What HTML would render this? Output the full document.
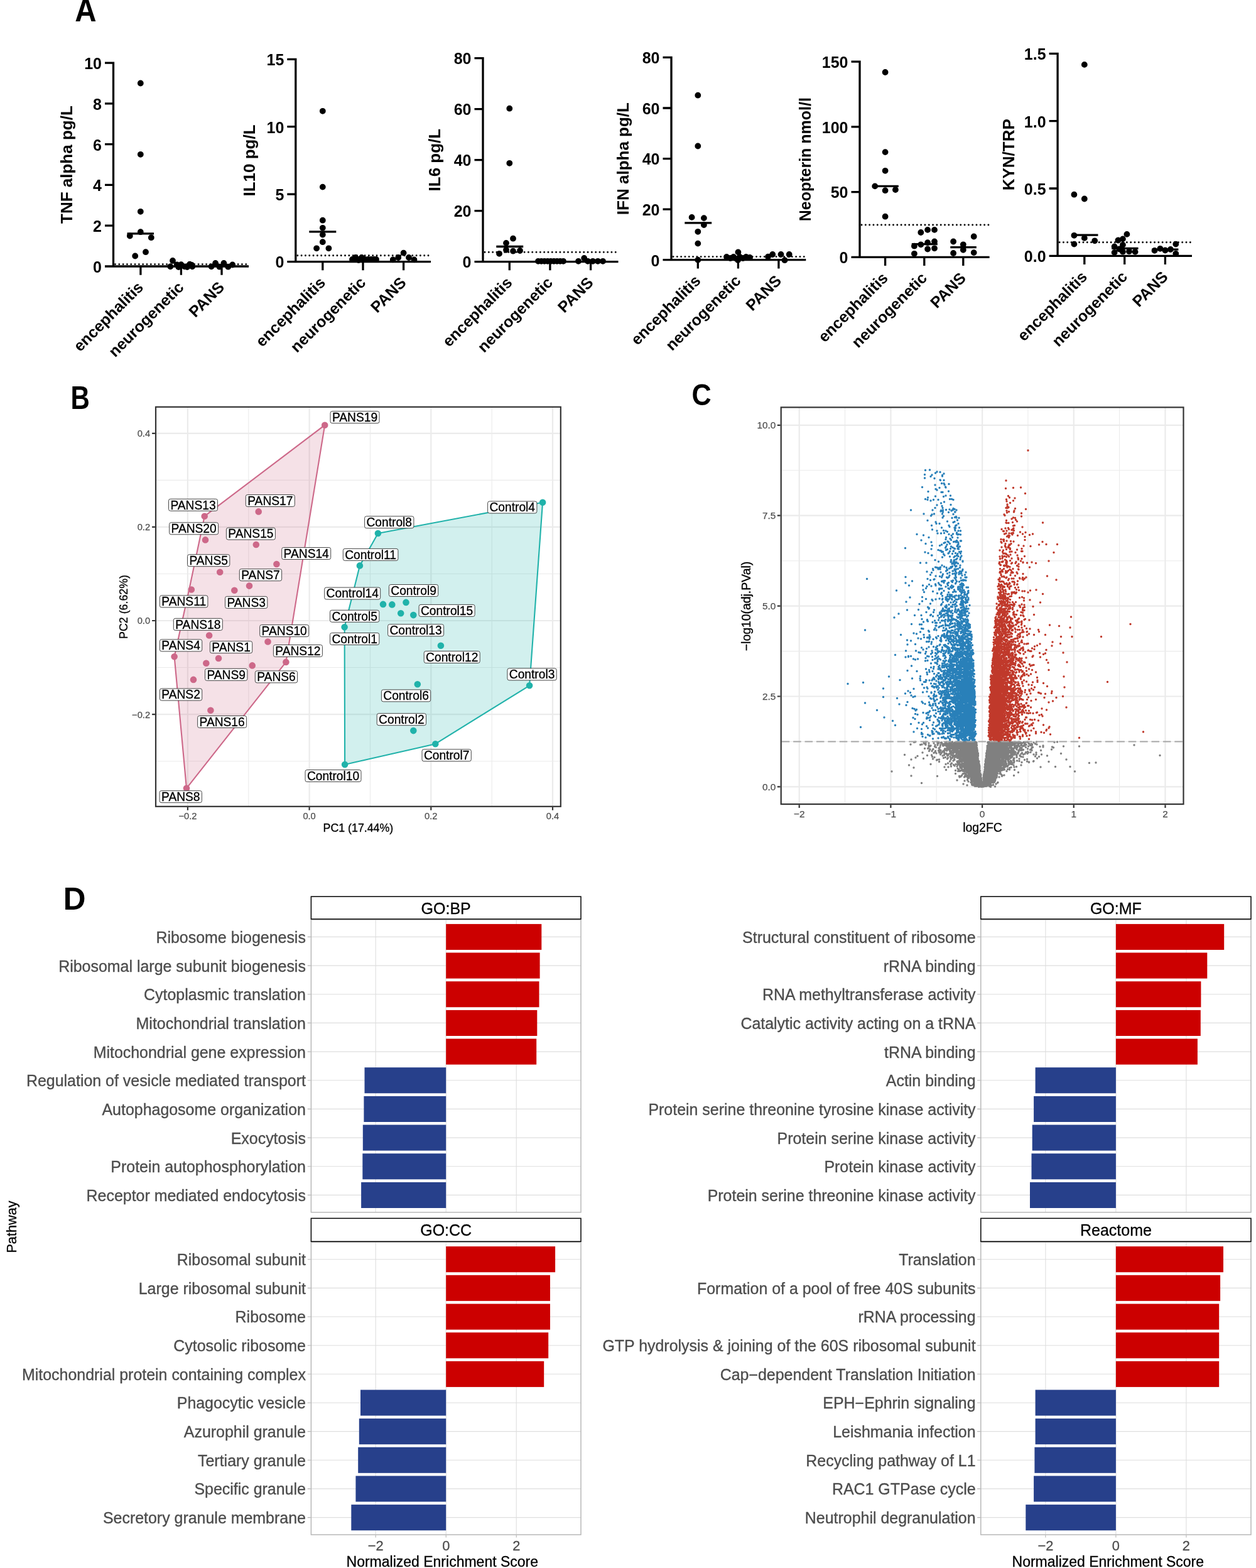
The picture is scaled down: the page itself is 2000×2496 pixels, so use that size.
<!DOCTYPE html>
<html><head><meta charset="utf-8"><title>Figure</title><style>html,body{margin:0;padding:0;background:#fff;}svg{display:block;}</style></head><body>
<svg width="2000" height="2496" viewBox="0 0 2000 2496">
<rect width="2000" height="2496" fill="#fff"/>
<g font-family="Liberation Sans, sans-serif" font-weight="bold" fill="#000">
<text transform="translate(119.3 34.2) scale(0.98 1.05)" font-size="48.5">A</text>
<text x="162" y="433.8" font-size="25" text-anchor="end">0</text>
<text x="162" y="369" font-size="25" text-anchor="end">2</text>
<text x="162" y="304.2" font-size="25" text-anchor="end">4</text>
<text x="162" y="239.5" font-size="25" text-anchor="end">6</text>
<text x="162" y="174.7" font-size="25" text-anchor="end">8</text>
<text x="162" y="109.9" font-size="25" text-anchor="end">10</text>
<path d="M180.5 425.6V98.5M178.9 424H396M167 424H180.5M167 359.2H180.5M167 294.4H180.5M167 229.7H180.5M167 164.9H180.5M167 100.1H180.5M223.9 424V437.7M288.4 424V437.7M353 424V437.7M202.5 371.8H245" stroke="#000" stroke-width="3.3" fill="none"/>
<path d="M183.5 420.6H396" stroke="#000" stroke-width="2.9" stroke-dasharray="0.01 6.3" stroke-linecap="round" fill="none"/>
<path d="M223.8 132.5h0M223.8 245.8h0M223.8 336.8h0M223.8 369.2h0M206.8 375.5h0M240.8 378.2h0M232 401.2h0M215.2 407.5h0M275 415h0M271.3 424.3h0M281.9 421.5h0M284.3 425.1h0M288.4 421.1h0M294 424.3h0M298.1 425.1h0M302.1 420.7h0M305.4 421.9h0M306.2 424.3h0M336.6 424.3h0M343.1 419h0M349.5 424.7h0M356.4 419h0M363.3 424.7h0M370.2 421.5h0" stroke="#000" stroke-width="9.8" stroke-linecap="round" fill="none"/>
<text transform="translate(115.4 262.1) rotate(-90)" font-size="26" text-anchor="middle">TNF alpha pg/L</text>
<text transform="translate(229.7 458.8) rotate(-45)" font-size="25" text-anchor="end">encephalitis</text>
<text transform="translate(294.2 458.8) rotate(-45)" font-size="25" text-anchor="end">neurogenetic</text>
<text transform="translate(358.8 458.8) rotate(-45)" font-size="25" text-anchor="end">PANS</text>
<text x="452.3" y="426.4" font-size="25" text-anchor="end">0</text>
<text x="452.3" y="319" font-size="25" text-anchor="end">5</text>
<text x="452.3" y="211.5" font-size="25" text-anchor="end">10</text>
<text x="452.3" y="104.1" font-size="25" text-anchor="end">15</text>
<path d="M470.8 418.2V92.7M469.2 416.6H686M457.3 416.6H470.8M457.3 309.2H470.8M457.3 201.7H470.8M457.3 94.3H470.8M513.8 416.6V430.3M578 416.6V430.3M642.6 416.6V430.3M492.3 368.8H535.3" stroke="#000" stroke-width="3.3" fill="none"/>
<path d="M473.8 406.7H686" stroke="#000" stroke-width="2.9" stroke-dasharray="0.01 6.3" stroke-linecap="round" fill="none"/>
<path d="M513.8 176.8h0M513.8 297.6h0M513.8 350.7h0M513.8 362.8h0M513.8 373.6h0M513.8 385.2h0M504.1 395.3h0M523.4 395.3h0M561 413h0M566 410h0M571 413h0M576 410h0M581 413h0M586 413h0M591 413h0M596 413h0M599 413h0M571 414h0M625.7 413.4h0M634.2 410h0M642.6 402.6h0M651 410h0M659.5 413.4h0" stroke="#000" stroke-width="9.8" stroke-linecap="round" fill="none"/>
<text transform="translate(405.6 255.5) rotate(-90)" font-size="26" text-anchor="middle">IL10 pg/L</text>
<text transform="translate(519.6 451.4) rotate(-45)" font-size="25" text-anchor="end">encephalitis</text>
<text transform="translate(583.8 451.4) rotate(-45)" font-size="25" text-anchor="end">neurogenetic</text>
<text transform="translate(648.4 451.4) rotate(-45)" font-size="25" text-anchor="end">PANS</text>
<text x="750.5" y="426.4" font-size="25" text-anchor="end">0</text>
<text x="750.5" y="345.4" font-size="25" text-anchor="end">20</text>
<text x="750.5" y="264.4" font-size="25" text-anchor="end">40</text>
<text x="750.5" y="183.4" font-size="25" text-anchor="end">60</text>
<text x="750.5" y="102.4" font-size="25" text-anchor="end">80</text>
<path d="M769 418.2V91M767.4 416.6H984.5M755.5 416.6H769M755.5 335.6H769M755.5 254.6H769M755.5 173.6H769M755.5 92.6H769M811.3 416.6V430.3M875.9 416.6V430.3M940.6 416.6V430.3M790.3 392.5H833.2" stroke="#000" stroke-width="3.3" fill="none"/>
<path d="M772 401.4H984.5" stroke="#000" stroke-width="2.9" stroke-dasharray="0.01 6.3" stroke-linecap="round" fill="none"/>
<path d="M811.3 172.7h0M811.3 259.8h0M817 379.7h0M806 386.9h0M795 403.8h0M806 397.8h0M817 399.7h0M828 399h0M857 415.8h0M862 415.8h0M867 415.8h0M872 415.8h0M877 415.8h0M882 415.8h0M887 415.8h0M892 415.8h0M897 415.8h0M921 415.8h0M930.2 411h0M936 415.8h0M944 415.8h0M952 415.8h0M960 415.8h0" stroke="#000" stroke-width="9.8" stroke-linecap="round" fill="none"/>
<text transform="translate(700.8 254.6) rotate(-90)" font-size="26" text-anchor="middle">IL6 pg/L</text>
<text transform="translate(817.1 451.4) rotate(-45)" font-size="25" text-anchor="end">encephalitis</text>
<text transform="translate(881.7 451.4) rotate(-45)" font-size="25" text-anchor="end">neurogenetic</text>
<text transform="translate(946.4 451.4) rotate(-45)" font-size="25" text-anchor="end">PANS</text>
<text x="1050.5" y="423.5" font-size="25" text-anchor="end">0</text>
<text x="1050.5" y="342.9" font-size="25" text-anchor="end">20</text>
<text x="1050.5" y="262.4" font-size="25" text-anchor="end">40</text>
<text x="1050.5" y="181.8" font-size="25" text-anchor="end">60</text>
<text x="1050.5" y="101.2" font-size="25" text-anchor="end">80</text>
<path d="M1069 415.3V89.8M1067.4 413.7H1283.3M1055.5 413.7H1069M1055.5 333.1H1069M1055.5 252.6H1069M1055.5 172H1069M1055.5 91.4H1069M1111.3 413.7V427.4M1175.4 413.7V427.4M1239.9 413.7V427.4M1090.3 354.8H1133.2" stroke="#000" stroke-width="3.3" fill="none"/>
<path d="M1072 408.6H1283.3" stroke="#000" stroke-width="2.9" stroke-dasharray="0.01 6.3" stroke-linecap="round" fill="none"/>
<path d="M1111.3 151.7h0M1111.3 232.5h0M1101.6 345.9h0M1120.9 347.1h0M1120.9 358h0M1111.3 368.8h0M1111.3 387.6h0M1111.3 413.7h0M1175.4 401.4h0M1157 409h0M1163 411h0M1168 409h0M1173 412h0M1178 409h0M1183 411h0M1188 409h0M1194 410h0M1175 414h0M1223 408.6h0M1230.2 405h0M1243.5 405h0M1256.7 405h0M1249.5 414.2h0" stroke="#000" stroke-width="9.8" stroke-linecap="round" fill="none"/>
<text transform="translate(1000.8 252.6) rotate(-90)" font-size="26" text-anchor="middle">IFN alpha pg/L</text>
<text transform="translate(1117.1 448.5) rotate(-45)" font-size="25" text-anchor="end">encephalitis</text>
<text transform="translate(1181.2 448.5) rotate(-45)" font-size="25" text-anchor="end">neurogenetic</text>
<text transform="translate(1245.7 448.5) rotate(-45)" font-size="25" text-anchor="end">PANS</text>
<text x="1350.5" y="419.1" font-size="25" text-anchor="end">0</text>
<text x="1350.5" y="315.4" font-size="25" text-anchor="end">50</text>
<text x="1350.5" y="211.6" font-size="25" text-anchor="end">100</text>
<text x="1350.5" y="107.9" font-size="25" text-anchor="end">150</text>
<path d="M1369 410.9V96.5M1367.4 409.3H1575.6M1355.5 409.3H1369M1355.5 305.6H1369M1355.5 201.8H1369M1355.5 98.1H1369M1409.6 409.3V423M1471.8 409.3V423M1533.8 409.3V423M1390.3 296.4H1430.8M1451.8 388.6H1492.8M1513.3 393.7H1554.8" stroke="#000" stroke-width="3.3" fill="none"/>
<path d="M1372 358H1575.6" stroke="#000" stroke-width="2.9" stroke-dasharray="0.01 6.3" stroke-linecap="round" fill="none"/>
<path d="M1409.6 115h0M1409.6 242.1h0M1409.6 271.8h0M1393.2 296.4h0M1409.6 303.2h0M1425.9 302h0M1409.6 344.7h0M1466.3 370h0M1477.1 365.9h0M1488 365.9h0M1455.9 391.7h0M1466.3 389.3h0M1477.1 386.2h0M1488 384.5h0M1477.1 396.5h0M1488 395.3h0M1455.9 403.8h0M1518.1 384.5h0M1533.8 389.3h0M1550.7 376.5h0M1518.1 403h0M1533.8 397.8h0M1550.7 402.1h0" stroke="#000" stroke-width="9.8" stroke-linecap="round" fill="none"/>
<text transform="translate(1291 253.7) rotate(-90)" font-size="25" text-anchor="middle">Neopterin nmol/l</text>
<text transform="translate(1415.4 444.1) rotate(-45)" font-size="25" text-anchor="end">encephalitis</text>
<text transform="translate(1477.6 444.1) rotate(-45)" font-size="25" text-anchor="end">neurogenetic</text>
<text transform="translate(1539.6 444.1) rotate(-45)" font-size="25" text-anchor="end">PANS</text>
<text x="1665.6" y="417.2" font-size="25" text-anchor="end">0.0</text>
<text x="1665.6" y="309.8" font-size="25" text-anchor="end">0.5</text>
<text x="1665.6" y="202.5" font-size="25" text-anchor="end">1.0</text>
<text x="1665.6" y="95.1" font-size="25" text-anchor="end">1.5</text>
<path d="M1684.1 409V83.7M1682.5 407.4H1898M1670.6 407.4H1684.1M1670.6 300H1684.1M1670.6 192.7H1684.1M1670.6 85.3H1684.1M1726.8 407.4V421.1M1790.7 407.4V421.1M1855.4 407.4V421.1M1706.3 374.1H1748.5M1770.2 395.3H1812.5M1834.2 397.2H1876.4" stroke="#000" stroke-width="3.3" fill="none"/>
<path d="M1687.1 385.7H1898" stroke="#000" stroke-width="2.9" stroke-dasharray="0.01 6.3" stroke-linecap="round" fill="none"/>
<path d="M1726.8 102.9h0M1710.4 309.7h0M1726.8 316.5h0M1710.4 374.8h0M1726.8 378.9h0M1743.2 383.3h0M1710.4 388.6h0M1794.4 372.9h0M1780.4 382.5h0M1787.9 380.4h0M1774.6 392.4h0M1787.9 389.8h0M1774.6 401.9h0M1787.9 400.7h0M1798 400.2h0M1807.6 400.9h0M1782.3 396.5h0M1838.5 398.9h0M1847.4 395.8h0M1855.4 398.5h0M1863.9 397h0M1872.3 388.6h0M1872.3 403.8h0" stroke="#000" stroke-width="9.8" stroke-linecap="round" fill="none"/>
<text transform="translate(1615.2 246.3) rotate(-90)" font-size="26" text-anchor="middle">KYN/TRP</text>
<text transform="translate(1732.6 442.2) rotate(-45)" font-size="25" text-anchor="end">encephalitis</text>
<text transform="translate(1796.5 442.2) rotate(-45)" font-size="25" text-anchor="end">neurogenetic</text>
<text transform="translate(1861.2 442.2) rotate(-45)" font-size="25" text-anchor="end">PANS</text>
</g>
<text transform="translate(112.4 651) scale(0.867 1.07)" font-family="Liberation Sans, sans-serif" font-weight="bold" font-size="48.5">B</text>
<path d="M395.8 647.8V1283.8M589.5 647.8V1283.8M783.2 647.8V1283.8M248 764.4H892.8M248 913.5H892.8M248 1062.5H892.8M248 1211.7H892.8" stroke="#ebebeb" stroke-width="1.1" fill="none"/>
<path d="M298.9 647.8V1283.8M492.6 647.8V1283.8M686.3 647.8V1283.8M880 647.8V1283.8M248 689.8H892.8M248 838.9H892.8M248 988H892.8M248 1137.1H892.8" stroke="#ebebeb" stroke-width="2.2" fill="none"/>
<polygon points="517.2,676.7 455.4,1053.9 297,1254.8 277.6,1045.2 300.8,940.3 325.7,821.7" fill="#CD6889" fill-opacity="0.2" stroke="#CD6889" stroke-width="2.1" stroke-linejoin="round"/>
<polygon points="601.9,849 864.1,799.7 843.1,1091.3 693.3,1184.2 549.1,1217 548.6,998.3 572.9,900.4" fill="#20B2AA" fill-opacity="0.2" stroke="#20B2AA" stroke-width="2.1" stroke-linejoin="round"/>
<path d="M517.2 676.7h0M325.7 821.7h0M411.7 814.4h0M327 859.4h0M407.8 867h0M440.4 898h0M350.2 910.7h0M397 932.6h0M373.3 939.8h0M304.8 938.5h0M333.1 1011.5h0M277.6 1045.2h0M426.5 1021.5h0M348 1048h0M328.3 1055.7h0M401.7 1059.4h0M455.4 1053.9h0M308 1081.9h0M335.4 1130.7h0M297 1254.8h0" stroke="#CD6889" stroke-width="10.6" stroke-linecap="round" fill="none"/>
<path d="M864.1 799.7h0M601.9 849h0M572.9 900.4h0M610 961.9h0M624.3 962.4h0M646.5 958.9h0M638.2 976.3h0M658.3 979.1h0M548.6 998.3h0M701.9 1027.7h0M843.1 1091.3h0M664.8 1089.3h0M658.3 1163.1h0M693.3 1184.2h0M549.1 1217h0" stroke="#20B2AA" stroke-width="10.6" stroke-linecap="round" fill="none"/>
<g font-family="Liberation Sans, sans-serif" font-size="19.2" stroke="#000" stroke-width="0.3">
<rect x="526" y="654.7" width="78" height="19.0" rx="2.9" fill="#fff" stroke="#333" stroke-width="0.9"/>
<text transform="translate(528.9 671) scale(1 1.07)">PANS19</text>
<rect x="268.5" y="794.3" width="78" height="19.0" rx="2.9" fill="#fff" stroke="#333" stroke-width="0.9"/>
<text transform="translate(271.4 810.6) scale(1 1.07)">PANS13</text>
<rect x="391.3" y="787.5" width="78" height="19.0" rx="2.9" fill="#fff" stroke="#333" stroke-width="0.9"/>
<text transform="translate(394.2 803.8) scale(1 1.07)">PANS17</text>
<rect x="269.6" y="831.8" width="78" height="19.0" rx="2.9" fill="#fff" stroke="#333" stroke-width="0.9"/>
<text transform="translate(272.5 848.1) scale(1 1.07)">PANS20</text>
<rect x="360.4" y="840.1" width="78" height="19.0" rx="2.9" fill="#fff" stroke="#333" stroke-width="0.9"/>
<text transform="translate(363.3 856.4) scale(1 1.07)">PANS15</text>
<rect x="448.7" y="871.5" width="78" height="19.0" rx="2.9" fill="#fff" stroke="#333" stroke-width="0.9"/>
<text transform="translate(451.6 887.8) scale(1 1.07)">PANS14</text>
<rect x="298.5" y="882.7" width="67.3" height="19.0" rx="2.9" fill="#fff" stroke="#333" stroke-width="0.9"/>
<text transform="translate(301.4 899) scale(1 1.07)">PANS5</text>
<rect x="381.3" y="905.7" width="67.3" height="19.0" rx="2.9" fill="#fff" stroke="#333" stroke-width="0.9"/>
<text transform="translate(384.2 922) scale(1 1.07)">PANS7</text>
<rect x="254.4" y="947.9" width="76.5" height="19.0" rx="2.9" fill="#fff" stroke="#333" stroke-width="0.9"/>
<text transform="translate(257.3 964.2) scale(1 1.07)">PANS11</text>
<rect x="358.5" y="949.4" width="67.3" height="19.0" rx="2.9" fill="#fff" stroke="#333" stroke-width="0.9"/>
<text transform="translate(361.4 965.7) scale(1 1.07)">PANS3</text>
<rect x="276.3" y="984.4" width="78" height="19.0" rx="2.9" fill="#fff" stroke="#333" stroke-width="0.9"/>
<text transform="translate(279.2 1000.7) scale(1 1.07)">PANS18</text>
<rect x="413.7" y="994.6" width="78" height="19.0" rx="2.9" fill="#fff" stroke="#333" stroke-width="0.9"/>
<text transform="translate(416.6 1010.9) scale(1 1.07)">PANS10</text>
<rect x="254.4" y="1017.9" width="67.3" height="19.0" rx="2.9" fill="#fff" stroke="#333" stroke-width="0.9"/>
<text transform="translate(257.3 1034.2) scale(1 1.07)">PANS4</text>
<rect x="334.4" y="1020.7" width="67.3" height="19.0" rx="2.9" fill="#fff" stroke="#333" stroke-width="0.9"/>
<text transform="translate(337.3 1037) scale(1 1.07)">PANS1</text>
<rect x="435.4" y="1026.5" width="78" height="19.0" rx="2.9" fill="#fff" stroke="#333" stroke-width="0.9"/>
<text transform="translate(438.3 1042.8) scale(1 1.07)">PANS12</text>
<rect x="326.5" y="1064.4" width="67.3" height="19.0" rx="2.9" fill="#fff" stroke="#333" stroke-width="0.9"/>
<text transform="translate(329.4 1080.7) scale(1 1.07)">PANS9</text>
<rect x="406.3" y="1067.9" width="67.3" height="19.0" rx="2.9" fill="#fff" stroke="#333" stroke-width="0.9"/>
<text transform="translate(409.2 1084.2) scale(1 1.07)">PANS6</text>
<rect x="254.4" y="1096.1" width="67.3" height="19.0" rx="2.9" fill="#fff" stroke="#333" stroke-width="0.9"/>
<text transform="translate(257.3 1112.4) scale(1 1.07)">PANS2</text>
<rect x="314.6" y="1139.5" width="78" height="19.0" rx="2.9" fill="#fff" stroke="#333" stroke-width="0.9"/>
<text transform="translate(317.5 1155.8) scale(1 1.07)">PANS16</text>
<rect x="254.1" y="1258.7" width="67.3" height="19.0" rx="2.9" fill="#fff" stroke="#333" stroke-width="0.9"/>
<text transform="translate(257 1275) scale(1 1.07)">PANS8</text>
<rect x="776.6" y="798" width="78.3" height="19.0" rx="2.9" fill="#fff" stroke="#333" stroke-width="0.9"/>
<text transform="translate(779.5 814.3) scale(1 1.07)">Control4</text>
<rect x="580.6" y="821.8" width="78.3" height="19.0" rx="2.9" fill="#fff" stroke="#333" stroke-width="0.9"/>
<text transform="translate(583.5 838.1) scale(1 1.07)">Control8</text>
<rect x="546.3" y="873.4" width="87.6" height="19.0" rx="2.9" fill="#fff" stroke="#333" stroke-width="0.9"/>
<text transform="translate(549.2 889.7) scale(1 1.07)">Control11</text>
<rect x="516.7" y="935.1" width="89" height="19.0" rx="2.9" fill="#fff" stroke="#333" stroke-width="0.9"/>
<text transform="translate(519.6 951.4) scale(1 1.07)">Control14</text>
<rect x="619.4" y="930.5" width="78.3" height="19.0" rx="2.9" fill="#fff" stroke="#333" stroke-width="0.9"/>
<text transform="translate(622.3 946.8) scale(1 1.07)">Control9</text>
<rect x="667.1" y="962.4" width="89" height="19.0" rx="2.9" fill="#fff" stroke="#333" stroke-width="0.9"/>
<text transform="translate(670 978.7) scale(1 1.07)">Control15</text>
<rect x="525.5" y="971.3" width="78.3" height="19.0" rx="2.9" fill="#fff" stroke="#333" stroke-width="0.9"/>
<text transform="translate(528.4 987.6) scale(1 1.07)">Control5</text>
<rect x="617.6" y="993.8" width="89" height="19.0" rx="2.9" fill="#fff" stroke="#333" stroke-width="0.9"/>
<text transform="translate(620.5 1010.1) scale(1 1.07)">Control13</text>
<rect x="525.5" y="1007.5" width="78.3" height="19.0" rx="2.9" fill="#fff" stroke="#333" stroke-width="0.9"/>
<text transform="translate(528.4 1023.8) scale(1 1.07)">Control1</text>
<rect x="675.2" y="1036.5" width="89" height="19.0" rx="2.9" fill="#fff" stroke="#333" stroke-width="0.9"/>
<text transform="translate(678.1 1052.8) scale(1 1.07)">Control12</text>
<rect x="807.9" y="1063.9" width="78.3" height="19.0" rx="2.9" fill="#fff" stroke="#333" stroke-width="0.9"/>
<text transform="translate(810.8 1080.2) scale(1 1.07)">Control3</text>
<rect x="607.4" y="1097.9" width="78.3" height="19.0" rx="2.9" fill="#fff" stroke="#333" stroke-width="0.9"/>
<text transform="translate(610.3 1114.2) scale(1 1.07)">Control6</text>
<rect x="600.2" y="1135.7" width="78.3" height="19.0" rx="2.9" fill="#fff" stroke="#333" stroke-width="0.9"/>
<text transform="translate(603.1 1152) scale(1 1.07)">Control2</text>
<rect x="672" y="1192.8" width="78.3" height="19.0" rx="2.9" fill="#fff" stroke="#333" stroke-width="0.9"/>
<text transform="translate(674.9 1209.1) scale(1 1.07)">Control7</text>
<rect x="486" y="1225.5" width="89" height="19.0" rx="2.9" fill="#fff" stroke="#333" stroke-width="0.9"/>
<text transform="translate(488.9 1241.8) scale(1 1.07)">Control10</text>
</g>
<rect x="248" y="647.8" width="644.8" height="636" fill="none" stroke="#333" stroke-width="2.2"/>
<path d="M298.9 1284.9v4.8M492.6 1284.9v4.8M686.3 1284.9v4.8M880 1284.9v4.8M246.9 689.8h-4.8M246.9 838.9h-4.8M246.9 988h-4.8M246.9 1137.1h-4.8" stroke="#333" stroke-width="2.2" fill="none"/>
<g font-family="Liberation Sans, sans-serif" font-size="14.7" fill="#4d4d4d" stroke="#4d4d4d" stroke-width="0.25">
<text x="298.9" y="1303.8" text-anchor="middle">−0.2</text>
<text x="492.6" y="1303.8" text-anchor="middle">0.0</text>
<text x="686.3" y="1303.8" text-anchor="middle">0.2</text>
<text x="880" y="1303.8" text-anchor="middle">0.4</text>
<text x="239.1" y="695.2" text-anchor="end">0.4</text>
<text x="239.1" y="844.3" text-anchor="end">0.2</text>
<text x="239.1" y="993.4" text-anchor="end">0.0</text>
<text x="239.1" y="1142.5" text-anchor="end">−0.2</text>
</g>
<text x="570.4" y="1323.9" font-family="Liberation Sans, sans-serif" font-size="17.8" stroke="#000" stroke-width="0.3" text-anchor="middle">PC1 (17.44%)</text>
<text transform="translate(203 966) rotate(-90)" font-family="Liberation Sans, sans-serif" font-size="17.8" stroke="#000" stroke-width="0.3" text-anchor="middle">PC2 (6.62%)</text>
<text transform="translate(1101.5 645) scale(0.89 1.0)" font-family="Liberation Sans, sans-serif" font-weight="bold" font-size="48.5">C</text>
<path d="M1345.5 648.4V1280.1M1491.2 648.4V1280.1M1636.9 648.4V1280.1M1782.6 648.4V1280.1M1243.7 1180.5H1884.5M1243.7 1036.6H1884.5M1243.7 892.7H1884.5M1243.7 748.8H1884.5" stroke="#ebebeb" stroke-width="1.1" fill="none"/>
<path d="M1272.7 648.4V1280.1M1418.4 648.4V1280.1M1564.1 648.4V1280.1M1709.8 648.4V1280.1M1855.5 648.4V1280.1M1243.7 1252.4H1884.5M1243.7 1108.5H1884.5M1243.7 964.6H1884.5M1243.7 820.7H1884.5M1243.7 676.8H1884.5" stroke="#ebebeb" stroke-width="2.2" fill="none"/>
<path d="M1603.5 1180.5h0m-146 0.5h0m17 0h0m18 0h0m14.5 0h0m6 0h0m3.5 0h0m7.5 0h0m0.5 0h0m1.5 0h0m3 0h0m6 0h0m0 0h0m1 0h0m1.5 0h0m1.5 0h0m2.5 0h0m2 0h0m1 0h0m1 0h0m0 0h0m0.5 0h0m1.5 0h0m1 0h0m0 0h0m0.5 0h0m1.5 0h0m1.5 0h0m1.5 0h0m21.5 0h0m1 0h0m0.5 0h0m0 0h0m1 0h0m0 0h0m1.5 0h0m2.5 0h0m2 0h0m0 0h0m0.5 0h0m1.5 0h0m0.5 0h0m0.5 0h0m0 0h0m0.5 0h0m0.5 0h0m2 0h0m0.5 0h0m1 0h0m0.5 0h0m1.5 0h0m4.5 0h0m1.5 0h0m3 0h0m0 0h0m4 0h0m1 0h0m1.5 0h0m7.5 0h0m6 0h0m1 0h0m0 0h0m13 0h0m14.5 0h0m33 0h0m-228 0.5h0m15.5 0h0m23.5 0h0m17.5 0h0m2.5 0h0m7.5 0h0m0.5 0h0m7.5 0h0m0.5 0h0m3 0h0m2 0h0m0 0h0m1.5 0h0m2.5 0h0m7 0h0m1 0h0m1.5 0h0m0.5 0h0m0 0h0m4 0h0m19.5 0h0m2 0h0m0.5 0h0m1.5 0h0m2 0h0m3.5 0h0m0 0h0m0 0h0m1 0h0m2.5 0h0m0 0h0m0.5 0h0m0.5 0h0m0.5 0h0m0 0h0m3 0h0m0 0h0m0 0h0m0.5 0h0m2.5 0h0m2 0h0m0.5 0h0m0.5 0h0m1 0h0m1.5 0h0m3.5 0h0m5 0h0m2.5 0h0m3 0h0m3.5 0h0m0.5 0h0m13 0h0m2 0h0m4.5 0h0m42.5 0h0m-179.5 0.5h0m6 0h0m7.5 0h0m7.5 0h0m1.5 0h0m2 0h0m6 0h0m3.5 0h0m2.5 0h0m1.5 0h0m0 0h0m3.5 0h0m1 0h0m0 0h0m2.5 0h0m1.5 0h0m2.5 0h0m1.5 0h0m1 0h0m2 0h0m0 0h0m0 0h0m2 0h0m18 0h0m0.5 0h0m4.5 0h0m0.5 0h0m0.5 0h0m0 0h0m2.5 0h0m3 0h0m1 0h0m0.5 0h0m1 0h0m1 0h0m0.5 0h0m0.5 0h0m0.5 0h0m3 0h0m0.5 0h0m1 0h0m2.5 0h0m5 0h0m3.5 0h0m7 0h0m0.5 0h0m0 0h0m2 0h0m2.5 0h0m5.5 0h0m3 0h0m7.5 0h0m13 0h0m-148 0.5h0m1 0h0m12 0h0m1 0h0m15 0h0m0.5 0h0m3.5 0h0m1 0h0m0 0h0m0.5 0h0m0.5 0h0m2 0h0m1 0h0m1.5 0h0m1 0h0m0.5 0h0m4.5 0h0m0 0h0m2 0h0m0 0h0m0.5 0h0m1.5 0h0m1 0h0m2 0h0m1 0h0m2 0h0m0 0h0m1.5 0h0m18 0h0m3.5 0h0m1 0h0m1 0h0m0.5 0h0m0 0h0m0 0h0m0.5 0h0m1 0h0m2 0h0m2.5 0h0m0.5 0h0m1 0h0m0.5 0h0m0 0h0m1 0h0m0 0h0m2 0h0m2 0h0m2.5 0h0m1 0h0m1.5 0h0m1.5 0h0m1 0h0m0.5 0h0m2 0h0m1.5 0h0m1 0h0m14.5 0h0m1 0h0m3.5 0h0m-144.5 0.5h0m8 0h0m7.5 0h0m10.5 0h0m2 0h0m0.5 0h0m4.5 0h0m1.5 0h0m0.5 0h0m4 0h0m7 0h0m3 0h0m0.5 0h0m0.5 0h0m0.5 0h0m1 0h0m0 0h0m3 0h0m1.5 0h0m0.5 0h0m0.5 0h0m3 0h0m0.5 0h0m1 0h0m0 0h0m1.5 0h0m3 0h0m0 0h0m3 0h0m2.5 0h0m0 0h0m2 0h0m0.5 0h0m23 0h0m0.5 0h0m1.5 0h0m1.5 0h0m1 0h0m1 0h0m0.5 0h0m0.5 0h0m2 0h0m0.5 0h0m2.5 0h0m0.5 0h0m2.5 0h0m1 0h0m0 0h0m2.5 0h0m4 0h0m0 0h0m0.5 0h0m1.5 0h0m4 0h0m1 0h0m2.5 0h0m5 0h0m3 0h0m3 0h0m6 0h0m0.5 0h0m0 0h0m0.5 0h0m2.5 0h0m-156.5 0.5h0m21.5 0h0m13 0h0m8.5 0h0m5 0h0m1.5 0h0m2 0h0m0 0h0m3 0h0m2 0h0m1 0h0m0.5 0h0m0.5 0h0m5 0h0m0.5 0h0m1 0h0m0.5 0h0m1 0h0m0.5 0h0m2 0h0m1 0h0m2 0h0m2.5 0h0m2 0h0m1.5 0h0m0 0h0m0 0h0m1 0h0m0 0h0m0 0h0m0.5 0h0m1.5 0h0m21.5 0h0m1.5 0h0m0.5 0h0m3 0h0m0.5 0h0m0 0h0m2.5 0h0m3.5 0h0m0.5 0h0m0 0h0m4 0h0m2.5 0h0m3 0h0m0 0h0m1.5 0h0m0 0h0m2 0h0m2 0h0m1.5 0h0m0 0h0m2 0h0m18 0h0m9 0h0m7 0h0m-164.5 0.5h0m26.5 0h0m0 0h0m7 0h0m5.5 0h0m6.5 0h0m4.5 0h0m2.5 0h0m0 0h0m3.5 0h0m4.5 0h0m1.5 0h0m0.5 0h0m0.5 0h0m5 0h0m1 0h0m1 0h0m1 0h0m1.5 0h0m0.5 0h0m0.5 0h0m2.5 0h0m2 0h0m0.5 0h0m2.5 0h0m0 0h0m19 0h0m0.5 0h0m2 0h0m4 0h0m0 0h0m1.5 0h0m0.5 0h0m0 0h0m0 0h0m0 0h0m1.5 0h0m1.5 0h0m1 0h0m3.5 0h0m3 0h0m0 0h0m1 0h0m3 0h0m1 0h0m2.5 0h0m7 0h0m2 0h0m0 0h0m2.5 0h0m26.5 0h0m3.5 0h0m6.5 0h0m-145.5 0.5h0m6 0h0m5.5 0h0m2.5 0h0m4.5 0h0m2 0h0m2 0h0m1 0h0m2.5 0h0m1.5 0h0m2 0h0m1.5 0h0m2 0h0m1 0h0m0 0h0m0 0h0m0.5 0h0m0.5 0h0m0.5 0h0m2.5 0h0m1 0h0m0.5 0h0m2.5 0h0m1.5 0h0m3 0h0m2 0h0m0.5 0h0m0.5 0h0m0 0h0m1 0h0m1.5 0h0m0 0h0m21 0h0m1 0h0m0 0h0m1 0h0m1 0h0m1.5 0h0m0 0h0m1 0h0m1.5 0h0m0.5 0h0m0.5 0h0m0.5 0h0m0 0h0m2 0h0m0 0h0m1.5 0h0m6 0h0m0 0h0m12.5 0h0m4 0h0m3.5 0h0m-164 0.5h0m18 0h0m33 0h0m8 0h0m2 0h0m1 0h0m4 0h0m0 0h0m3.5 0h0m3 0h0m5 0h0m0 0h0m1.5 0h0m2.5 0h0m1.5 0h0m0.5 0h0m1 0h0m1 0h0m3 0h0m2.5 0h0m1.5 0h0m0 0h0m1 0h0m0 0h0m0.5 0h0m1 0h0m1.5 0h0m0 0h0m2 0h0m0 0h0m2 0h0m1.5 0h0m1.5 0h0m1 0h0m0 0h0m21 0h0m0 0h0m1 0h0m0.5 0h0m3 0h0m2.5 0h0m0.5 0h0m2 0h0m1.5 0h0m0.5 0h0m1 0h0m0.5 0h0m1 0h0m0.5 0h0m0.5 0h0m1 0h0m1 0h0m8 0h0m1 0h0m4.5 0h0m0 0h0m1.5 0h0m3 0h0m2 0h0m2.5 0h0m1 0h0m5.5 0h0m4.5 0h0m17.5 0h0m7.5 0h0m-185.5 0.5h0m8.5 0h0m32.5 0h0m9 0h0m6.5 0h0m2 0h0m1 0h0m4.5 0h0m1 0h0m0.5 0h0m1.5 0h0m0 0h0m2.5 0h0m4.5 0h0m0.5 0h0m0.5 0h0m0.5 0h0m0.5 0h0m0 0h0m0.5 0h0m0 0h0m1.5 0h0m0 0h0m1 0h0m0 0h0m0.5 0h0m0 0h0m1.5 0h0m0.5 0h0m0.5 0h0m0.5 0h0m1 0h0m0 0h0m0 0h0m1 0h0m0 0h0m0.5 0h0m1 0h0m0.5 0h0m0 0h0m0 0h0m1 0h0m0.5 0h0m22 0h0m1.5 0h0m0.5 0h0m1 0h0m1 0h0m1 0h0m0.5 0h0m0.5 0h0m0 0h0m1 0h0m0 0h0m3.5 0h0m1.5 0h0m0 0h0m0.5 0h0m0 0h0m1.5 0h0m1 0h0m2.5 0h0m1.5 0h0m0.5 0h0m0.5 0h0m0.5 0h0m2 0h0m1 0h0m6 0h0m1.5 0h0m3.5 0h0m3.5 0h0m2 0h0m18.5 0h0m-145 0.5h0m4 0h0m4.5 0h0m8 0h0m1.5 0h0m5.5 0h0m3.5 0h0m3 0h0m3 0h0m4 0h0m6 0h0m1 0h0m1 0h0m0 0h0m3 0h0m3 0h0m1 0h0m1.5 0h0m1.5 0h0m0 0h0m0.5 0h0m0 0h0m0.5 0h0m0 0h0m0 0h0m0 0h0m1 0h0m0.5 0h0m1 0h0m3 0h0m0.5 0h0m0.5 0h0m1 0h0m2.5 0h0m19 0h0m2.5 0h0m1.5 0h0m0 0h0m1.5 0h0m1 0h0m0.5 0h0m0 0h0m1.5 0h0m1 0h0m0.5 0h0m0.5 0h0m1.5 0h0m0.5 0h0m1.5 0h0m0.5 0h0m0 0h0m0.5 0h0m0.5 0h0m0 0h0m2 0h0m1.5 0h0m1 0h0m1 0h0m1 0h0m2.5 0h0m1 0h0m0.5 0h0m1 0h0m0 0h0m1.5 0h0m3 0h0m5.5 0h0m0.5 0h0m15 0h0m6 0h0m11 0h0m162.5 0h0m-327 0.5h0m22.5 0h0m7 0h0m1 0h0m7.5 0h0m1.5 0h0m1.5 0h0m2 0h0m1.5 0h0m7 0h0m1.5 0h0m1 0h0m2 0h0m0 0h0m1 0h0m0.5 0h0m2 0h0m0.5 0h0m3.5 0h0m0 0h0m1.5 0h0m2 0h0m0.5 0h0m0.5 0h0m1 0h0m1 0h0m1.5 0h0m0.5 0h0m0.5 0h0m0.5 0h0m0 0h0m3.5 0h0m17.5 0h0m0.5 0h0m1.5 0h0m1 0h0m1 0h0m0.5 0h0m0 0h0m0 0h0m0.5 0h0m0 0h0m0.5 0h0m2 0h0m0.5 0h0m1 0h0m1 0h0m0 0h0m1 0h0m2 0h0m0.5 0h0m1 0h0m2 0h0m0.5 0h0m1.5 0h0m1 0h0m2 0h0m1.5 0h0m2.5 0h0m0 0h0m0 0h0m0 0h0m2 0h0m1.5 0h0m3 0h0m3 0h0m3.5 0h0m8.5 0h0m1 0h0m5 0h0m4.5 0h0m10 0h0m2 0h0m-160.5 0.5h0m19.5 0h0m1 0h0m0 0h0m3.5 0h0m4 0h0m3.5 0h0m1.5 0h0m2.5 0h0m4.5 0h0m4 0h0m0.5 0h0m2 0h0m0.5 0h0m0.5 0h0m1.5 0h0m1.5 0h0m0.5 0h0m2 0h0m1.5 0h0m3.5 0h0m0 0h0m0.5 0h0m0.5 0h0m2.5 0h0m0.5 0h0m0.5 0h0m1 0h0m0.5 0h0m1 0h0m0.5 0h0m1 0h0m2 0h0m0.5 0h0m0 0h0m0.5 0h0m2.5 0h0m18.5 0h0m2.5 0h0m1 0h0m2.5 0h0m2 0h0m0.5 0h0m0 0h0m0 0h0m0.5 0h0m0.5 0h0m0.5 0h0m2 0h0m0.5 0h0m2.5 0h0m0.5 0h0m0.5 0h0m1 0h0m0 0h0m1 0h0m1 0h0m0 0h0m1 0h0m1 0h0m0.5 0h0m1 0h0m0.5 0h0m1 0h0m1 0h0m3 0h0m0 0h0m3.5 0h0m2.5 0h0m2 0h0m0.5 0h0m1.5 0h0m0.5 0h0m4.5 0h0m0 0h0m3 0h0m2 0h0m1.5 0h0m39 0h0m-180 0.5h0m35 0h0m5.5 0h0m1 0h0m0.5 0h0m7.5 0h0m0.5 0h0m0.5 0h0m1 0h0m0 0h0m1 0h0m1.5 0h0m2 0h0m2.5 0h0m0.5 0h0m2.5 0h0m0.5 0h0m0.5 0h0m2.5 0h0m5 0h0m2.5 0h0m0 0h0m1 0h0m0 0h0m17.5 0h0m3 0h0m1.5 0h0m0 0h0m0.5 0h0m1 0h0m2.5 0h0m0.5 0h0m0.5 0h0m0 0h0m1.5 0h0m3 0h0m1.5 0h0m0.5 0h0m2.5 0h0m1.5 0h0m1 0h0m0 0h0m1.5 0h0m1 0h0m0 0h0m1.5 0h0m1 0h0m2 0h0m0.5 0h0m1 0h0m1 0h0m0.5 0h0m4.5 0h0m8 0h0m4 0h0m3 0h0m6.5 0h0m1.5 0h0m-149.5 0.5h0m39 0h0m3.5 0h0m3 0h0m1.5 0h0m1 0h0m1.5 0h0m0.5 0h0m1.5 0h0m0.5 0h0m0 0h0m5.5 0h0m3.5 0h0m1.5 0h0m0 0h0m0 0h0m0 0h0m0.5 0h0m1.5 0h0m0 0h0m1.5 0h0m0.5 0h0m1.5 0h0m1.5 0h0m1 0h0m0.5 0h0m0.5 0h0m1.5 0h0m0 0h0m18.5 0h0m3 0h0m0 0h0m0.5 0h0m2.5 0h0m0.5 0h0m0.5 0h0m3 0h0m0 0h0m1 0h0m0 0h0m1.5 0h0m0.5 0h0m0 0h0m1.5 0h0m0.5 0h0m1 0h0m0.5 0h0m0 0h0m0.5 0h0m0 0h0m0.5 0h0m1 0h0m0.5 0h0m2.5 0h0m9.5 0h0m4.5 0h0m15.5 0h0m14 0h0m56 0h0m25 0h0m-230 0.5h0m27 0h0m2.5 0h0m1.5 0h0m1 0h0m1 0h0m0.5 0h0m5 0h0m6.5 0h0m1 0h0m0.5 0h0m1.5 0h0m2.5 0h0m3.5 0h0m0.5 0h0m0 0h0m1.5 0h0m0 0h0m1 0h0m0.5 0h0m1 0h0m6 0h0m1 0h0m18.5 0h0m2.5 0h0m2 0h0m0.5 0h0m0.5 0h0m1 0h0m0.5 0h0m0 0h0m1 0h0m0 0h0m2 0h0m1.5 0h0m0 0h0m0 0h0m0.5 0h0m0 0h0m0.5 0h0m0 0h0m2 0h0m3 0h0m1 0h0m0.5 0h0m1 0h0m0 0h0m0 0h0m1.5 0h0m3.5 0h0m3 0h0m0.5 0h0m0 0h0m18.5 0h0m36.5 0h0m-177 0.5h0m18 0h0m11 0h0m3.5 0h0m8 0h0m4.5 0h0m7 0h0m1.5 0h0m2.5 0h0m3 0h0m3.5 0h0m0 0h0m8 0h0m1 0h0m0 0h0m1.5 0h0m20.5 0h0m1 0h0m1 0h0m0.5 0h0m1.5 0h0m1.5 0h0m1 0h0m1.5 0h0m0.5 0h0m0 0h0m1 0h0m0 0h0m3.5 0h0m0.5 0h0m1 0h0m4 0h0m0.5 0h0m0.5 0h0m1.5 0h0m2 0h0m1 0h0m2.5 0h0m18.5 0h0m0.5 0h0m43 0h0m14.5 0h0m-185 0.5h0m28 0h0m7 0h0m0.5 0h0m3 0h0m6.5 0h0m0.5 0h0m4.5 0h0m1 0h0m0 0h0m3.5 0h0m0.5 0h0m3 0h0m4 0h0m2 0h0m0.5 0h0m17.5 0h0m0.5 0h0m2 0h0m0.5 0h0m1 0h0m0 0h0m0 0h0m1.5 0h0m0.5 0h0m0 0h0m0 0h0m3.5 0h0m0 0h0m0.5 0h0m0 0h0m2.5 0h0m0.5 0h0m3.5 0h0m4.5 0h0m1 0h0m0.5 0h0m1 0h0m1.5 0h0m1 0h0m1 0h0m3 0h0m1.5 0h0m4 0h0m0.5 0h0m1 0h0m6 0h0m0.5 0h0m17.5 0h0m11 0h0m-133 0.5h0m7 0h0m3.5 0h0m3 0h0m1 0h0m3.5 0h0m2.5 0h0m0.5 0h0m3.5 0h0m1 0h0m0 0h0m1 0h0m0 0h0m0.5 0h0m0 0h0m0.5 0h0m0 0h0m1 0h0m0.5 0h0m2.5 0h0m1.5 0h0m0.5 0h0m0.5 0h0m0.5 0h0m0 0h0m0.5 0h0m2 0h0m0.5 0h0m0.5 0h0m0 0h0m0.5 0h0m0 0h0m2 0h0m1.5 0h0m0 0h0m0 0h0m1.5 0h0m0.5 0h0m19 0h0m1 0h0m0.5 0h0m0.5 0h0m1.5 0h0m0 0h0m0.5 0h0m1.5 0h0m2 0h0m0.5 0h0m0 0h0m1.5 0h0m0 0h0m3.5 0h0m2 0h0m0 0h0m0.5 0h0m1.5 0h0m1 0h0m0.5 0h0m0.5 0h0m3 0h0m1.5 0h0m4.5 0h0m1.5 0h0m4.5 0h0m0.5 0h0m7.5 0h0m3.5 0h0m7 0h0m16 0h0m34.5 0h0m-169 0.5h0m5 0h0m1 0h0m3.5 0h0m5 0h0m0.5 0h0m6 0h0m0.5 0h0m7.5 0h0m2.5 0h0m0.5 0h0m1 0h0m1.5 0h0m1.5 0h0m0 0h0m0.5 0h0m0.5 0h0m0.5 0h0m1.5 0h0m2 0h0m0 0h0m0 0h0m0 0h0m1.5 0h0m0.5 0h0m0 0h0m3 0h0m0.5 0h0m0.5 0h0m0 0h0m16.5 0h0m3.5 0h0m0.5 0h0m1.5 0h0m2 0h0m1.5 0h0m0.5 0h0m0 0h0m2.5 0h0m0 0h0m2 0h0m3 0h0m1 0h0m0 0h0m2 0h0m1.5 0h0m1 0h0m0.5 0h0m1.5 0h0m4.5 0h0m7 0h0m2.5 0h0m0.5 0h0m13.5 0h0m-129.5 0.5h0m17.5 0h0m8 0h0m7.5 0h0m0.5 0h0m1 0h0m1 0h0m1.5 0h0m2.5 0h0m0.5 0h0m0 0h0m2 0h0m0.5 0h0m0.5 0h0m2 0h0m1.5 0h0m1 0h0m5.5 0h0m0.5 0h0m1 0h0m0 0h0m1.5 0h0m2 0h0m1 0h0m0 0h0m23 0h0m0 0h0m0 0h0m0.5 0h0m1 0h0m0 0h0m0 0h0m0 0h0m2 0h0m1 0h0m3 0h0m0.5 0h0m0 0h0m1.5 0h0m2 0h0m0 0h0m1 0h0m0.5 0h0m3 0h0m0 0h0m1 0h0m2.5 0h0m0.5 0h0m2.5 0h0m2.5 0h0m0.5 0h0m0.5 0h0m1.5 0h0m1.5 0h0m20 0h0m-153.5 0.5h0m5 0h0m38 0h0m3 0h0m10.5 0h0m2.5 0h0m0 0h0m2 0h0m2 0h0m1 0h0m1.5 0h0m0 0h0m1.5 0h0m3 0h0m0.5 0h0m0.5 0h0m1.5 0h0m2.5 0h0m5.5 0h0m1 0h0m18.5 0h0m1 0h0m1.5 0h0m0.5 0h0m2 0h0m0 0h0m5 0h0m2 0h0m0 0h0m3.5 0h0m1.5 0h0m1 0h0m3 0h0m1.5 0h0m5 0h0m3 0h0m3 0h0m6.5 0h0m0.5 0h0m1.5 0h0m-110 0.5h0m1.5 0h0m4 0h0m0 0h0m3 0h0m6 0h0m2.5 0h0m0.5 0h0m2.5 0h0m1.5 0h0m2 0h0m1 0h0m1 0h0m2.5 0h0m1.5 0h0m2 0h0m0.5 0h0m1 0h0m0.5 0h0m0 0h0m0.5 0h0m0.5 0h0m0 0h0m0.5 0h0m3 0h0m0.5 0h0m0.5 0h0m2 0h0m0.5 0h0m0 0h0m2 0h0m1 0h0m1.5 0h0m1.5 0h0m0.5 0h0m0.5 0h0m1 0h0m1 0h0m18 0h0m1 0h0m1 0h0m0 0h0m2 0h0m0 0h0m0.5 0h0m0 0h0m1 0h0m1 0h0m1 0h0m1.5 0h0m0 0h0m5 0h0m2.5 0h0m1 0h0m7.5 0h0m4 0h0m16.5 0h0m18 0h0m6 0h0m-162 0.5h0m5.5 0h0m10 0h0m12 0h0m1 0h0m2.5 0h0m6 0h0m3 0h0m0.5 0h0m1 0h0m3 0h0m4 0h0m5 0h0m0.5 0h0m0 0h0m0.5 0h0m0.5 0h0m0.5 0h0m0.5 0h0m1 0h0m1 0h0m0.5 0h0m0.5 0h0m0.5 0h0m0.5 0h0m0.5 0h0m1 0h0m2.5 0h0m0 0h0m0 0h0m0.5 0h0m0 0h0m2 0h0m4 0h0m0.5 0h0m1 0h0m1.5 0h0m0 0h0m2 0h0m17.5 0h0m0.5 0h0m1 0h0m1 0h0m0 0h0m1 0h0m1 0h0m0 0h0m0 0h0m0.5 0h0m2.5 0h0m0.5 0h0m0 0h0m0.5 0h0m4.5 0h0m0.5 0h0m13 0h0m1.5 0h0m1 0h0m2 0h0m8 0h0m14.5 0h0m-146 0.5h0m4.5 0h0m24 0h0m23 0h0m0.5 0h0m3.5 0h0m0.5 0h0m1 0h0m0.5 0h0m0 0h0m0.5 0h0m2 0h0m0.5 0h0m0 0h0m0 0h0m1.5 0h0m0.5 0h0m0 0h0m4 0h0m2.5 0h0m0.5 0h0m0 0h0m1.5 0h0m1.5 0h0m0.5 0h0m1 0h0m0 0h0m0.5 0h0m16.5 0h0m0.5 0h0m0 0h0m2 0h0m3.5 0h0m1 0h0m0 0h0m0 0h0m2 0h0m0 0h0m0.5 0h0m0.5 0h0m0.5 0h0m1 0h0m0.5 0h0m1.5 0h0m4.5 0h0m3.5 0h0m2.5 0h0m0.5 0h0m0 0h0m0.5 0h0m0.5 0h0m2 0h0m0.5 0h0m0.5 0h0m0.5 0h0m0.5 0h0m4 0h0m4.5 0h0m9 0h0m4.5 0h0m51 0h0m-163 0.5h0m13 0h0m0.5 0h0m5 0h0m2 0h0m1 0h0m0.5 0h0m0 0h0m1.5 0h0m3 0h0m0.5 0h0m2 0h0m0.5 0h0m4 0h0m1 0h0m0 0h0m2 0h0m1.5 0h0m0 0h0m0.5 0h0m1 0h0m3.5 0h0m1.5 0h0m16.5 0h0m1.5 0h0m0.5 0h0m0 0h0m1 0h0m0 0h0m0 0h0m0.5 0h0m0.5 0h0m0.5 0h0m2 0h0m2.5 0h0m1 0h0m0 0h0m1 0h0m2 0h0m1.5 0h0m1 0h0m2 0h0m2 0h0m2 0h0m0.5 0h0m0.5 0h0m1 0h0m0 0h0m0.5 0h0m2 0h0m4.5 0h0m0.5 0h0m1 0h0m23 0h0m2 0h0m11 0h0m-136.5 0.5h0m2.5 0h0m11 0h0m3.5 0h0m1 0h0m2.5 0h0m0.5 0h0m5.5 0h0m7.5 0h0m1 0h0m5.5 0h0m1.5 0h0m1 0h0m0 0h0m0.5 0h0m4 0h0m1 0h0m0.5 0h0m0.5 0h0m1 0h0m1 0h0m17 0h0m0.5 0h0m4 0h0m0.5 0h0m5.5 0h0m2 0h0m0.5 0h0m4 0h0m0.5 0h0m3 0h0m1 0h0m6.5 0h0m5 0h0m1 0h0m4.5 0h0m0 0h0m17.5 0h0m-132 0.5h0m1.5 0h0m10 0h0m11.5 0h0m16 0h0m0 0h0m2.5 0h0m3.5 0h0m1.5 0h0m0.5 0h0m1 0h0m1 0h0m0.5 0h0m0.5 0h0m0.5 0h0m0 0h0m1 0h0m0 0h0m0 0h0m0.5 0h0m1 0h0m3.5 0h0m0 0h0m0.5 0h0m19 0h0m1.5 0h0m0.5 0h0m1.5 0h0m0 0h0m0.5 0h0m0 0h0m0 0h0m2 0h0m1 0h0m1 0h0m1 0h0m1 0h0m2 0h0m1 0h0m6.5 0h0m0.5 0h0m2.5 0h0m3.5 0h0m2 0h0m0.5 0h0m0 0h0m21 0h0m1 0h0m3 0h0m0 0h0m17 0h0m14.5 0h0m-163 0.5h0m3 0h0m6 0h0m4 0h0m6 0h0m3 0h0m5.5 0h0m0.5 0h0m1 0h0m1.5 0h0m4.5 0h0m6 0h0m0.5 0h0m3 0h0m0.5 0h0m2.5 0h0m1.5 0h0m0.5 0h0m1.5 0h0m0.5 0h0m1 0h0m0.5 0h0m0.5 0h0m0.5 0h0m2 0h0m0 0h0m1 0h0m0 0h0m0.5 0h0m0.5 0h0m2 0h0m1 0h0m16 0h0m3.5 0h0m0 0h0m0.5 0h0m0 0h0m0.5 0h0m1 0h0m2.5 0h0m0.5 0h0m2.5 0h0m0.5 0h0m0 0h0m1.5 0h0m0.5 0h0m2.5 0h0m0 0h0m0 0h0m1 0h0m0.5 0h0m1 0h0m0.5 0h0m2 0h0m2.5 0h0m1 0h0m1 0h0m1 0h0m5.5 0h0m2.5 0h0m1.5 0h0m1 0h0m4.5 0h0m0.5 0h0m1 0h0m-135 0.5h0m4.5 0h0m5.5 0h0m12.5 0h0m11.5 0h0m4.5 0h0m2 0h0m1.5 0h0m2.5 0h0m4 0h0m0.5 0h0m1 0h0m0.5 0h0m2 0h0m6 0h0m2.5 0h0m0.5 0h0m2.5 0h0m0.5 0h0m1 0h0m1 0h0m4 0h0m0.5 0h0m1 0h0m0.5 0h0m0.5 0h0m0 0h0m3 0h0m0.5 0h0m0.5 0h0m15 0h0m1.5 0h0m0 0h0m1 0h0m0.5 0h0m0.5 0h0m0 0h0m0.5 0h0m0.5 0h0m0.5 0h0m1 0h0m0.5 0h0m1 0h0m4 0h0m0.5 0h0m3 0h0m1.5 0h0m1 0h0m1 0h0m2.5 0h0m0 0h0m2.5 0h0m1 0h0m0 0h0m0 0h0m2 0h0m1.5 0h0m0.5 0h0m2.5 0h0m2 0h0m1.5 0h0m16 0h0m0.5 0h0m-110 0.5h0m9.5 0h0m1 0h0m2.5 0h0m0.5 0h0m3 0h0m2.5 0h0m1.5 0h0m0 0h0m1.5 0h0m1 0h0m2 0h0m1 0h0m5.5 0h0m1 0h0m0 0h0m0 0h0m1 0h0m3.5 0h0m1.5 0h0m0 0h0m0.5 0h0m1 0h0m0.5 0h0m1 0h0m18.5 0h0m0 0h0m2 0h0m0.5 0h0m1 0h0m0.5 0h0m1 0h0m0.5 0h0m0.5 0h0m0.5 0h0m2.5 0h0m0.5 0h0m2.5 0h0m0 0h0m2.5 0h0m2.5 0h0m1 0h0m7 0h0m1 0h0m3 0h0m0 0h0m4 0h0m4.5 0h0m12 0h0m-99.5 0.5h0m0.5 0h0m2.5 0h0m3.5 0h0m2 0h0m3.5 0h0m3 0h0m1 0h0m1 0h0m0.5 0h0m4 0h0m1 0h0m1 0h0m1.5 0h0m0.5 0h0m0.5 0h0m0 0h0m0.5 0h0m1 0h0m0 0h0m2.5 0h0m0.5 0h0m0 0h0m0.5 0h0m0.5 0h0m0.5 0h0m0 0h0m1 0h0m0.5 0h0m23 0h0m0.5 0h0m0.5 0h0m0 0h0m1 0h0m0 0h0m2.5 0h0m0 0h0m0.5 0h0m1.5 0h0m0.5 0h0m0.5 0h0m1.5 0h0m1 0h0m0 0h0m0 0h0m0.5 0h0m1.5 0h0m0 0h0m0 0h0m0.5 0h0m0.5 0h0m0.5 0h0m0.5 0h0m10 0h0m3.5 0h0m4.5 0h0m1.5 0h0m24 0h0m-147.5 0.5h0m8 0h0m3.5 0h0m14 0h0m15 0h0m1 0h0m3 0h0m0.5 0h0m1.5 0h0m0 0h0m0.5 0h0m1 0h0m3.5 0h0m3 0h0m1.5 0h0m0.5 0h0m0 0h0m1.5 0h0m0 0h0m0 0h0m0 0h0m1.5 0h0m0.5 0h0m0.5 0h0m1 0h0m0.5 0h0m0.5 0h0m1.5 0h0m0.5 0h0m0.5 0h0m0.5 0h0m17 0h0m1.5 0h0m2 0h0m1 0h0m0 0h0m0 0h0m0.5 0h0m1.5 0h0m0.5 0h0m1 0h0m2 0h0m2.5 0h0m2 0h0m0.5 0h0m0.5 0h0m1 0h0m0.5 0h0m1.5 0h0m1.5 0h0m0.5 0h0m0.5 0h0m0 0h0m0.5 0h0m2.5 0h0m0.5 0h0m0.5 0h0m2 0h0m3.5 0h0m15 0h0m-120 0.5h0m6.5 0h0m10.5 0h0m0 0h0m5 0h0m3.5 0h0m2.5 0h0m3.5 0h0m0 0h0m5 0h0m2.5 0h0m0 0h0m0.5 0h0m1.5 0h0m1 0h0m1.5 0h0m1 0h0m4 0h0m0.5 0h0m0 0h0m1 0h0m0 0h0m0.5 0h0m0 0h0m1 0h0m0.5 0h0m0 0h0m3 0h0m0 0h0m0 0h0m2 0h0m19 0h0m4.5 0h0m0 0h0m0 0h0m0 0h0m1 0h0m1 0h0m0.5 0h0m2.5 0h0m2 0h0m0.5 0h0m0.5 0h0m1.5 0h0m0.5 0h0m4.5 0h0m1 0h0m1.5 0h0m0.5 0h0m0 0h0m2 0h0m2 0h0m1 0h0m6.5 0h0m8.5 0h0m18.5 0h0m7.5 0h0m-172 0.5h0m26.5 0h0m18 0h0m8.5 0h0m2 0h0m0.5 0h0m5 0h0m7 0h0m0 0h0m5.5 0h0m2.5 0h0m3 0h0m0.5 0h0m0 0h0m1 0h0m0.5 0h0m0 0h0m0 0h0m1 0h0m1 0h0m0.5 0h0m0 0h0m1.5 0h0m0.5 0h0m1.5 0h0m0.5 0h0m18 0h0m0 0h0m1 0h0m0.5 0h0m2 0h0m2 0h0m1.5 0h0m0.5 0h0m0 0h0m0.5 0h0m1 0h0m5.5 0h0m1 0h0m1 0h0m0 0h0m2 0h0m1 0h0m0.5 0h0m8 0h0m7 0h0m4 0h0m2 0h0m6.5 0h0m16 0h0m12.5 0h0m-163 0.5h0m30 0h0m0 0h0m1.5 0h0m10.5 0h0m1 0h0m1 0h0m1 0h0m1 0h0m2 0h0m1 0h0m0 0h0m1 0h0m0.5 0h0m2 0h0m2 0h0m1 0h0m0.5 0h0m2 0h0m0 0h0m0.5 0h0m0.5 0h0m0 0h0m0.5 0h0m1 0h0m0.5 0h0m3 0h0m0 0h0m1 0h0m0.5 0h0m0.5 0h0m0.5 0h0m0.5 0h0m1.5 0h0m0 0h0m0 0h0m16 0h0m0.5 0h0m1 0h0m0 0h0m1.5 0h0m1 0h0m0 0h0m1 0h0m0.5 0h0m3 0h0m0 0h0m0.5 0h0m0.5 0h0m0 0h0m2 0h0m1.5 0h0m1.5 0h0m1 0h0m2 0h0m0 0h0m4.5 0h0m4.5 0h0m1 0h0m0.5 0h0m4 0h0m8.5 0h0m0 0h0m2.5 0h0m1 0h0m1 0h0m11 0h0m-136.5 0.5h0m8 0h0m5 0h0m10.5 0h0m10.5 0h0m2.5 0h0m2 0h0m1 0h0m0.5 0h0m2.5 0h0m0 0h0m5 0h0m1.5 0h0m1 0h0m2 0h0m0 0h0m0.5 0h0m0.5 0h0m1.5 0h0m0 0h0m0.5 0h0m0 0h0m1.5 0h0m0.5 0h0m0.5 0h0m1 0h0m1.5 0h0m0 0h0m0.5 0h0m0.5 0h0m0.5 0h0m0.5 0h0m2.5 0h0m0.5 0h0m1.5 0h0m0 0h0m13 0h0m3 0h0m0 0h0m1.5 0h0m0.5 0h0m0 0h0m2.5 0h0m2.5 0h0m0.5 0h0m1.5 0h0m0.5 0h0m0 0h0m2.5 0h0m0.5 0h0m1.5 0h0m0.5 0h0m1 0h0m1.5 0h0m0.5 0h0m0.5 0h0m2 0h0m0 0h0m1.5 0h0m0 0h0m3 0h0m1 0h0m4.5 0h0m1 0h0m1 0h0m3.5 0h0m11 0h0m-113 0.5h0m6.5 0h0m17 0h0m1 0h0m4 0h0m4 0h0m0.5 0h0m1.5 0h0m2.5 0h0m0 0h0m0 0h0m4 0h0m1 0h0m2 0h0m1 0h0m4 0h0m16 0h0m1.5 0h0m4 0h0m1.5 0h0m1 0h0m0.5 0h0m0.5 0h0m0.5 0h0m0 0h0m0 0h0m0.5 0h0m0 0h0m1.5 0h0m1 0h0m2.5 0h0m3 0h0m3.5 0h0m0 0h0m0.5 0h0m4 0h0m1.5 0h0m0 0h0m3.5 0h0m8.5 0h0m4.5 0h0m5 0h0m15 0h0m53.5 0h0m-178 0.5h0m15.5 0h0m2 0h0m2 0h0m3.5 0h0m0.5 0h0m2.5 0h0m2 0h0m6.5 0h0m0.5 0h0m1 0h0m0.5 0h0m1 0h0m0.5 0h0m1.5 0h0m1 0h0m0.5 0h0m3.5 0h0m0.5 0h0m14.5 0h0m1 0h0m1 0h0m1 0h0m1.5 0h0m2.5 0h0m0.5 0h0m0 0h0m2 0h0m1.5 0h0m0 0h0m0 0h0m3 0h0m1 0h0m8.5 0h0m1 0h0m0 0h0m4.5 0h0m0 0h0m1.5 0h0m3.5 0h0m0.5 0h0m20.5 0h0m6 0h0m-128 0.5h0m3.5 0h0m15.5 0h0m3.5 0h0m5 0h0m1 0h0m0.5 0h0m3.5 0h0m0 0h0m4 0h0m3.5 0h0m0 0h0m0 0h0m0 0h0m1.5 0h0m0 0h0m1.5 0h0m0.5 0h0m0 0h0m0.5 0h0m1 0h0m1.5 0h0m1 0h0m0.5 0h0m1.5 0h0m1.5 0h0m2 0h0m14 0h0m0 0h0m2.5 0h0m1 0h0m0 0h0m0.5 0h0m0.5 0h0m1 0h0m1 0h0m2 0h0m2 0h0m2 0h0m0 0h0m0 0h0m0.5 0h0m0.5 0h0m1.5 0h0m1 0h0m0.5 0h0m0 0h0m0.5 0h0m1 0h0m1 0h0m1 0h0m0 0h0m1 0h0m0 0h0m1 0h0m2 0h0m2 0h0m2 0h0m6 0h0m5.5 0h0m-113 0.5h0m11.5 0h0m18 0h0m0 0h0m6.5 0h0m2 0h0m1 0h0m0.5 0h0m0 0h0m1 0h0m2 0h0m1 0h0m2 0h0m2.5 0h0m0 0h0m1 0h0m1 0h0m1 0h0m0 0h0m1.5 0h0m0 0h0m1.5 0h0m0 0h0m0 0h0m1 0h0m1 0h0m0.5 0h0m1.5 0h0m0 0h0m0.5 0h0m1 0h0m16 0h0m1 0h0m0.5 0h0m0 0h0m1.5 0h0m1 0h0m0 0h0m2.5 0h0m0.5 0h0m0 0h0m0.5 0h0m1 0h0m0.5 0h0m1.5 0h0m0 0h0m3 0h0m1 0h0m1 0h0m0 0h0m0.5 0h0m1.5 0h0m1 0h0m0 0h0m2 0h0m1 0h0m0 0h0m1 0h0m1 0h0m5 0h0m28 0h0m16.5 0h0m4 0h0m8.5 0h0m-218 0.5h0m74 0h0m3 0h0m9.5 0h0m0.5 0h0m0.5 0h0m5.5 0h0m0 0h0m1.5 0h0m0.5 0h0m1 0h0m3 0h0m0.5 0h0m4 0h0m1 0h0m0.5 0h0m1 0h0m2.5 0h0m0.5 0h0m1.5 0h0m0.5 0h0m0.5 0h0m0.5 0h0m1 0h0m1 0h0m2 0h0m0 0h0m1 0h0m15 0h0m0.5 0h0m0 0h0m3 0h0m1.5 0h0m2 0h0m3.5 0h0m4 0h0m3.5 0h0m1.5 0h0m2 0h0m4 0h0m1 0h0m0.5 0h0m4.5 0h0m8.5 0h0m2 0h0m3.5 0h0m-134.5 0.5h0m20 0h0m5 0h0m1.5 0h0m8 0h0m11.5 0h0m0 0h0m1 0h0m2.5 0h0m2 0h0m3.5 0h0m1 0h0m2.5 0h0m2 0h0m0 0h0m0.5 0h0m3.5 0h0m0.5 0h0m0.5 0h0m0.5 0h0m0.5 0h0m0 0h0m0.5 0h0m0 0h0m0.5 0h0m1.5 0h0m0.5 0h0m0 0h0m1 0h0m0 0h0m1.5 0h0m0 0h0m16.5 0h0m1 0h0m0.5 0h0m0.5 0h0m5 0h0m0 0h0m1 0h0m0 0h0m1.5 0h0m0.5 0h0m0.5 0h0m3 0h0m3.5 0h0m6 0h0m0.5 0h0m2.5 0h0m1 0h0m0.5 0h0m1.5 0h0m17.5 0h0m-142 0.5h0m32 0h0m0.5 0h0m7.5 0h0m1.5 0h0m3 0h0m8 0h0m0 0h0m5 0h0m3 0h0m1.5 0h0m4 0h0m0 0h0m1 0h0m0.5 0h0m2 0h0m1 0h0m3 0h0m1 0h0m2.5 0h0m0.5 0h0m1.5 0h0m0.5 0h0m0 0h0m14.5 0h0m2.5 0h0m0.5 0h0m0.5 0h0m1 0h0m0 0h0m1.5 0h0m1 0h0m1 0h0m0.5 0h0m1.5 0h0m0 0h0m1.5 0h0m0.5 0h0m1.5 0h0m3.5 0h0m3 0h0m2 0h0m1 0h0m0 0h0m0 0h0m0.5 0h0m0 0h0m3.5 0h0m4 0h0m1 0h0m6.5 0h0m10 0h0m5 0h0m223 0h0m-346 0.5h0m8 0h0m9 0h0m6.5 0h0m6 0h0m0.5 0h0m3 0h0m0.5 0h0m0 0h0m0 0h0m3 0h0m7 0h0m0.5 0h0m0.5 0h0m0 0h0m3 0h0m1.5 0h0m0.5 0h0m0.5 0h0m0.5 0h0m0 0h0m0 0h0m1 0h0m0.5 0h0m0.5 0h0m2 0h0m0.5 0h0m1 0h0m0.5 0h0m14 0h0m0 0h0m1.5 0h0m1.5 0h0m0.5 0h0m0.5 0h0m0 0h0m0.5 0h0m1.5 0h0m0.5 0h0m0 0h0m0.5 0h0m0 0h0m0 0h0m4.5 0h0m1 0h0m2.5 0h0m0.5 0h0m1 0h0m1 0h0m2.5 0h0m0.5 0h0m1 0h0m1.5 0h0m1 0h0m3 0h0m8 0h0m4 0h0m57 0h0m-206.5 0.5h0m58 0h0m8 0h0m2 0h0m0.5 0h0m1 0h0m0.5 0h0m2 0h0m0.5 0h0m3.5 0h0m0.5 0h0m1 0h0m4 0h0m0.5 0h0m1 0h0m0 0h0m1.5 0h0m1 0h0m1.5 0h0m0 0h0m0 0h0m2 0h0m0 0h0m0.5 0h0m0 0h0m2 0h0m0.5 0h0m0.5 0h0m0.5 0h0m0.5 0h0m0.5 0h0m1 0h0m0.5 0h0m1 0h0m13 0h0m3 0h0m1.5 0h0m0.5 0h0m0.5 0h0m1.5 0h0m0 0h0m1 0h0m0 0h0m0.5 0h0m1 0h0m0.5 0h0m1 0h0m0 0h0m1.5 0h0m0 0h0m1.5 0h0m0.5 0h0m1 0h0m1 0h0m0.5 0h0m0 0h0m4 0h0m3 0h0m1 0h0m3 0h0m9.5 0h0m16.5 0h0m-102 0.5h0m11 0h0m5.5 0h0m0 0h0m0 0h0m0.5 0h0m0.5 0h0m0.5 0h0m0.5 0h0m2 0h0m0 0h0m0.5 0h0m0.5 0h0m0.5 0h0m0.5 0h0m0 0h0m0.5 0h0m0.5 0h0m0.5 0h0m1.5 0h0m0.5 0h0m0.5 0h0m0.5 0h0m0 0h0m1.5 0h0m0.5 0h0m1.5 0h0m0.5 0h0m1 0h0m0 0h0m1.5 0h0m16.5 0h0m2 0h0m0 0h0m0.5 0h0m1 0h0m1.5 0h0m0.5 0h0m0.5 0h0m0.5 0h0m1.5 0h0m1 0h0m1 0h0m1.5 0h0m1 0h0m0.5 0h0m0 0h0m1.5 0h0m1.5 0h0m0 0h0m2 0h0m1 0h0m3.5 0h0m0.5 0h0m7 0h0m1 0h0m1 0h0m0 0h0m3.5 0h0m40.5 0h0m-164 0.5h0m28.5 0h0m12 0h0m1.5 0h0m2 0h0m1 0h0m6 0h0m1 0h0m0.5 0h0m1 0h0m0 0h0m1.5 0h0m3 0h0m1.5 0h0m3.5 0h0m3 0h0m1 0h0m1 0h0m1 0h0m0.5 0h0m1.5 0h0m0.5 0h0m0 0h0m1 0h0m0 0h0m13.5 0h0m1 0h0m1 0h0m0 0h0m1 0h0m1 0h0m1 0h0m1.5 0h0m0 0h0m0.5 0h0m0.5 0h0m0 0h0m1 0h0m1 0h0m0 0h0m0.5 0h0m0.5 0h0m1 0h0m0 0h0m0.5 0h0m0 0h0m1 0h0m1 0h0m0.5 0h0m0.5 0h0m2 0h0m1 0h0m1.5 0h0m2 0h0m0.5 0h0m2.5 0h0m3.5 0h0m3 0h0m6 0h0m4.5 0h0m14 0h0m28.5 0h0m-137.5 0.5h0m0 0h0m0.5 0h0m6 0h0m0.5 0h0m0.5 0h0m1 0h0m4 0h0m0 0h0m1.5 0h0m4 0h0m4 0h0m0.5 0h0m1.5 0h0m1.5 0h0m0 0h0m2 0h0m1.5 0h0m1 0h0m2 0h0m1 0h0m0 0h0m1.5 0h0m1 0h0m1.5 0h0m1 0h0m0.5 0h0m0.5 0h0m0 0h0m17.5 0h0m0 0h0m1.5 0h0m0 0h0m1 0h0m1 0h0m0 0h0m0 0h0m1 0h0m0.5 0h0m1 0h0m3 0h0m1 0h0m1.5 0h0m0 0h0m0 0h0m1 0h0m1.5 0h0m1 0h0m0 0h0m1.5 0h0m0 0h0m2.5 0h0m1 0h0m0.5 0h0m1 0h0m1.5 0h0m0 0h0m8.5 0h0m14 0h0m10 0h0m-141 0.5h0m17.5 0h0m15 0h0m7 0h0m0 0h0m1 0h0m5 0h0m0 0h0m2 0h0m0.5 0h0m3.5 0h0m1 0h0m0.5 0h0m2 0h0m0 0h0m0.5 0h0m1 0h0m0.5 0h0m3 0h0m0.5 0h0m1.5 0h0m1 0h0m3.5 0h0m1 0h0m0.5 0h0m0.5 0h0m0.5 0h0m13.5 0h0m0 0h0m1.5 0h0m0.5 0h0m0.5 0h0m1 0h0m1.5 0h0m1 0h0m1 0h0m0.5 0h0m1.5 0h0m2 0h0m0.5 0h0m0 0h0m0.5 0h0m4.5 0h0m0 0h0m1 0h0m1 0h0m1 0h0m1 0h0m3.5 0h0m0.5 0h0m1 0h0m0.5 0h0m8.5 0h0m5.5 0h0m8.5 0h0m-161 0.5h0m66 0h0m3.5 0h0m8 0h0m0.5 0h0m0 0h0m1 0h0m6 0h0m0.5 0h0m1 0h0m2 0h0m2.5 0h0m1.5 0h0m0.5 0h0m0.5 0h0m0.5 0h0m0 0h0m0.5 0h0m0.5 0h0m0 0h0m0 0h0m1.5 0h0m0 0h0m0 0h0m0 0h0m2 0h0m14.5 0h0m1 0h0m1 0h0m0.5 0h0m0.5 0h0m4 0h0m0 0h0m0 0h0m0 0h0m0.5 0h0m0.5 0h0m0 0h0m1 0h0m0 0h0m0.5 0h0m0.5 0h0m0 0h0m0 0h0m0.5 0h0m0 0h0m1.5 0h0m0 0h0m1.5 0h0m1.5 0h0m1 0h0m8 0h0m1 0h0m4 0h0m4.5 0h0m1.5 0h0m-103.5 0.5h0m7 0h0m4.5 0h0m2.5 0h0m8 0h0m0.5 0h0m0.5 0h0m0.5 0h0m13 0h0m0.5 0h0m0.5 0h0m3.5 0h0m0.5 0h0m0.5 0h0m0.5 0h0m1 0h0m0.5 0h0m0 0h0m0 0h0m1 0h0m2 0h0m1 0h0m1 0h0m3.5 0h0m1.5 0h0m0.5 0h0m14.5 0h0m3 0h0m0 0h0m2.5 0h0m0.5 0h0m0.5 0h0m4 0h0m0.5 0h0m2 0h0m0 0h0m2 0h0m1.5 0h0m0.5 0h0m1.5 0h0m0.5 0h0m0.5 0h0m3.5 0h0m4 0h0m1 0h0m5.5 0h0m4.5 0h0m-74.5 0.5h0m3.5 0h0m0.5 0h0m0 0h0m2 0h0m3 0h0m2 0h0m0.5 0h0m0 0h0m0.5 0h0m1 0h0m2.5 0h0m0.5 0h0m1.5 0h0m0.5 0h0m1.5 0h0m0.5 0h0m17 0h0m2 0h0m0.5 0h0m0.5 0h0m0.5 0h0m0.5 0h0m0.5 0h0m0 0h0m1 0h0m0.5 0h0m0 0h0m0.5 0h0m1.5 0h0m0.5 0h0m1 0h0m0 0h0m1 0h0m1 0h0m1.5 0h0m2.5 0h0m2 0h0m2 0h0m0 0h0m3.5 0h0m4 0h0m1.5 0h0m1.5 0h0m0.5 0h0m1.5 0h0m0.5 0h0m10.5 0h0m36.5 0h0m-181 0.5h0m44 0h0m14.5 0h0m6.5 0h0m0.5 0h0m2 0h0m0.5 0h0m1.5 0h0m2.5 0h0m0 0h0m2 0h0m3 0h0m0.5 0h0m2 0h0m0.5 0h0m2.5 0h0m0.5 0h0m2 0h0m1 0h0m0.5 0h0m15.5 0h0m1 0h0m0 0h0m0 0h0m1.5 0h0m4.5 0h0m0.5 0h0m3 0h0m1 0h0m1.5 0h0m2 0h0m10 0h0m6.5 0h0m0 0h0m2 0h0m8 0h0m-128.5 0.5h0m23 0h0m21.5 0h0m2.5 0h0m1 0h0m9 0h0m0.5 0h0m5.5 0h0m0.5 0h0m0.5 0h0m0.5 0h0m0 0h0m1.5 0h0m1.5 0h0m0.5 0h0m1 0h0m0.5 0h0m0 0h0m0.5 0h0m0.5 0h0m0.5 0h0m15 0h0m0.5 0h0m2.5 0h0m0.5 0h0m3 0h0m3 0h0m2 0h0m1.5 0h0m0 0h0m0 0h0m0.5 0h0m0 0h0m0 0h0m0.5 0h0m2 0h0m0.5 0h0m2 0h0m0.5 0h0m1 0h0m5.5 0h0m4.5 0h0m0 0h0m21.5 0h0m-103.5 0.5h0m12 0h0m7 0h0m2 0h0m1.5 0h0m1.5 0h0m0.5 0h0m2 0h0m1.5 0h0m2 0h0m0 0h0m2 0h0m3.5 0h0m2 0h0m0.5 0h0m12 0h0m1.5 0h0m0.5 0h0m0 0h0m2 0h0m3.5 0h0m0 0h0m1.5 0h0m1.5 0h0m0 0h0m0 0h0m4 0h0m1 0h0m3.5 0h0m0 0h0m1.5 0h0m5.5 0h0m1.5 0h0m0.5 0h0m0.5 0h0m4.5 0h0m4.5 0h0m28.5 0h0m-184.5 0.5h0m44.5 0h0m18.5 0h0m14 0h0m9 0h0m3.5 0h0m0 0h0m1 0h0m0 0h0m2.5 0h0m0 0h0m0 0h0m2 0h0m0 0h0m2 0h0m0 0h0m1 0h0m0 0h0m0.5 0h0m1 0h0m0.5 0h0m0 0h0m1 0h0m0.5 0h0m0 0h0m0.5 0h0m3 0h0m0.5 0h0m15 0h0m0 0h0m1 0h0m2 0h0m0.5 0h0m1 0h0m2.5 0h0m1 0h0m0.5 0h0m0 0h0m3.5 0h0m3 0h0m1.5 0h0m9.5 0h0m4 0h0m96.5 0h0m-205.5 0.5h0m27.5 0h0m10 0h0m0.5 0h0m1.5 0h0m3 0h0m2 0h0m0 0h0m2.5 0h0m2 0h0m5.5 0h0m1 0h0m2 0h0m0.5 0h0m0.5 0h0m0 0h0m2 0h0m1 0h0m0.5 0h0m17 0h0m2.5 0h0m0.5 0h0m2.5 0h0m0 0h0m0.5 0h0m0 0h0m0 0h0m0.5 0h0m0 0h0m0.5 0h0m0.5 0h0m0 0h0m0.5 0h0m0 0h0m1 0h0m0.5 0h0m1 0h0m0 0h0m2 0h0m0.5 0h0m3 0h0m1 0h0m0 0h0m43 0h0m-140 0.5h0m41.5 0h0m0 0h0m1 0h0m0 0h0m1.5 0h0m2 0h0m1.5 0h0m0.5 0h0m1.5 0h0m0.5 0h0m2 0h0m3 0h0m1 0h0m0 0h0m3.5 0h0m0.5 0h0m0.5 0h0m0 0h0m0.5 0h0m1 0h0m0.5 0h0m0 0h0m2 0h0m15 0h0m1.5 0h0m0.5 0h0m1 0h0m0.5 0h0m1 0h0m0.5 0h0m0.5 0h0m0 0h0m0.5 0h0m2.5 0h0m0.5 0h0m0.5 0h0m4.5 0h0m1 0h0m0 0h0m4.5 0h0m1 0h0m0.5 0h0m1.5 0h0m0 0h0m1 0h0m0.5 0h0m2.5 0h0m16 0h0m1 0h0m-80 0.5h0m2.5 0h0m0 0h0m6.5 0h0m3 0h0m2.5 0h0m0 0h0m1.5 0h0m0.5 0h0m0.5 0h0m1 0h0m0 0h0m0.5 0h0m1.5 0h0m1.5 0h0m1 0h0m14.5 0h0m1.5 0h0m0.5 0h0m0.5 0h0m0 0h0m0.5 0h0m0.5 0h0m3.5 0h0m0.5 0h0m0.5 0h0m0.5 0h0m1 0h0m2.5 0h0m3 0h0m3 0h0m1 0h0m3 0h0m11.5 0h0m9 0h0m-96 0.5h0m11.5 0h0m12.5 0h0m2 0h0m0 0h0m2 0h0m0 0h0m0.5 0h0m0.5 0h0m0.5 0h0m0 0h0m0 0h0m0 0h0m0.5 0h0m1 0h0m1 0h0m0 0h0m2.5 0h0m1.5 0h0m1 0h0m1.5 0h0m13 0h0m2.5 0h0m0 0h0m2 0h0m0 0h0m0.5 0h0m0 0h0m2.5 0h0m1 0h0m0 0h0m0.5 0h0m0.5 0h0m3.5 0h0m2.5 0h0m4 0h0m0.5 0h0m1.5 0h0m0 0h0m3 0h0m6.5 0h0m0.5 0h0m8.5 0h0m10 0h0m-93.5 0.5h0m0 0h0m6.5 0h0m2.5 0h0m1 0h0m1.5 0h0m5 0h0m1.5 0h0m2 0h0m2.5 0h0m1.5 0h0m1 0h0m5 0h0m2 0h0m0.5 0h0m10.5 0h0m0.5 0h0m1 0h0m0 0h0m1 0h0m3 0h0m1.5 0h0m0.5 0h0m1 0h0m0.5 0h0m0.5 0h0m0.5 0h0m1.5 0h0m0.5 0h0m0.5 0h0m0.5 0h0m3.5 0h0m0.5 0h0m0 0h0m1 0h0m2 0h0m3.5 0h0m6.5 0h0m2 0h0m5 0h0m4 0h0m13 0h0m23 0h0m-133.5 0.5h0m11.5 0h0m1 0h0m0.5 0h0m3.5 0h0m0.5 0h0m3 0h0m0 0h0m4 0h0m3.5 0h0m3 0h0m1.5 0h0m0.5 0h0m0.5 0h0m1 0h0m2.5 0h0m1.5 0h0m0.5 0h0m1.5 0h0m2 0h0m0.5 0h0m0.5 0h0m0.5 0h0m0 0h0m0 0h0m1 0h0m0.5 0h0m0 0h0m1 0h0m0.5 0h0m18 0h0m1 0h0m0.5 0h0m0.5 0h0m1 0h0m0.5 0h0m4 0h0m0.5 0h0m0.5 0h0m2.5 0h0m1 0h0m0.5 0h0m0 0h0m0.5 0h0m0 0h0m4 0h0m0 0h0m2 0h0m0.5 0h0m5 0h0m4 0h0m9.5 0h0m20.5 0h0m10 0h0m-150 0.5h0m34 0h0m2 0h0m4.5 0h0m2.5 0h0m2.5 0h0m0 0h0m1 0h0m0.5 0h0m1 0h0m0.5 0h0m0.5 0h0m0.5 0h0m1 0h0m0.5 0h0m0.5 0h0m1.5 0h0m0.5 0h0m1 0h0m1.5 0h0m0.5 0h0m0 0h0m1.5 0h0m0 0h0m0.5 0h0m2.5 0h0m0.5 0h0m1 0h0m13 0h0m1 0h0m0 0h0m0 0h0m0.5 0h0m0 0h0m0 0h0m0.5 0h0m0 0h0m1 0h0m0.5 0h0m0 0h0m2 0h0m0.5 0h0m1.5 0h0m1 0h0m0 0h0m1 0h0m0.5 0h0m0.5 0h0m0.5 0h0m1 0h0m0.5 0h0m1 0h0m3 0h0m0 0h0m2 0h0m2.5 0h0m2.5 0h0m2.5 0h0m73 0h0m-144.5 0.5h0m2.5 0h0m3 0h0m17 0h0m0 0h0m0 0h0m1 0h0m0 0h0m0.5 0h0m0.5 0h0m0.5 0h0m0.5 0h0m0.5 0h0m1.5 0h0m0.5 0h0m2 0h0m0.5 0h0m2.5 0h0m12 0h0m2.5 0h0m0 0h0m1 0h0m3.5 0h0m8 0h0m3 0h0m0 0h0m1.5 0h0m1.5 0h0m1 0h0m0.5 0h0m1 0h0m5.5 0h0m1.5 0h0m0.5 0h0m6 0h0m3.5 0h0m27.5 0h0m-114 0.5h0m14 0h0m0 0h0m2.5 0h0m1 0h0m1.5 0h0m1.5 0h0m1 0h0m0 0h0m0.5 0h0m1 0h0m0.5 0h0m2.5 0h0m0 0h0m0.5 0h0m0 0h0m0 0h0m1.5 0h0m1 0h0m0 0h0m1 0h0m0 0h0m0.5 0h0m0.5 0h0m0.5 0h0m0.5 0h0m0.5 0h0m0.5 0h0m0 0h0m0.5 0h0m0.5 0h0m0 0h0m12 0h0m0.5 0h0m0 0h0m1 0h0m0 0h0m0.5 0h0m2.5 0h0m0 0h0m0 0h0m0.5 0h0m0 0h0m1 0h0m0.5 0h0m2 0h0m2 0h0m1 0h0m3.5 0h0m6.5 0h0m3 0h0m2 0h0m0 0h0m30 0h0m11.5 0h0m-101.5 0.5h0m2 0h0m0.5 0h0m1 0h0m1 0h0m3.5 0h0m1.5 0h0m2 0h0m0.5 0h0m0.5 0h0m0 0h0m0 0h0m0.5 0h0m1 0h0m0.5 0h0m1 0h0m0.5 0h0m1 0h0m3 0h0m1 0h0m11.5 0h0m0.5 0h0m0 0h0m3 0h0m0.5 0h0m0.5 0h0m0.5 0h0m0.5 0h0m0.5 0h0m0 0h0m0 0h0m2 0h0m0 0h0m0.5 0h0m1 0h0m1 0h0m0 0h0m0.5 0h0m1 0h0m2.5 0h0m2.5 0h0m0.5 0h0m0.5 0h0m2 0h0m2 0h0m2.5 0h0m1.5 0h0m19 0h0m130.5 0h0m-209.5 0.5h0m0.5 0h0m2.5 0h0m1.5 0h0m0.5 0h0m2 0h0m1.5 0h0m1 0h0m0.5 0h0m0 0h0m0.5 0h0m2.5 0h0m1.5 0h0m3 0h0m0 0h0m1 0h0m1.5 0h0m0 0h0m0 0h0m1.5 0h0m0.5 0h0m0 0h0m1 0h0m0 0h0m11.5 0h0m0.5 0h0m2 0h0m1 0h0m0 0h0m0.5 0h0m2.5 0h0m3.5 0h0m0.5 0h0m0 0h0m1.5 0h0m2.5 0h0m1.5 0h0m2 0h0m9 0h0m0 0h0m13 0h0m124.5 0h0m-225 0.5h0m6 0h0m19.5 0h0m1 0h0m2.5 0h0m2.5 0h0m0.5 0h0m4 0h0m0.5 0h0m1.5 0h0m0 0h0m0 0h0m0.5 0h0m0 0h0m1 0h0m0.5 0h0m1 0h0m0.5 0h0m1.5 0h0m1 0h0m0 0h0m0.5 0h0m0 0h0m0 0h0m0 0h0m0.5 0h0m1 0h0m1 0h0m2 0h0m0 0h0m11.5 0h0m0.5 0h0m1 0h0m0 0h0m1.5 0h0m0 0h0m0 0h0m1.5 0h0m0.5 0h0m1 0h0m0.5 0h0m0 0h0m0.5 0h0m0.5 0h0m0.5 0h0m3 0h0m0.5 0h0m3 0h0m1 0h0m0 0h0m0.5 0h0m1 0h0m0 0h0m2 0h0m2.5 0h0m0.5 0h0m1 0h0m1 0h0m2.5 0h0m9.5 0h0m6 0h0m-86.5 0.5h0m7.5 0h0m2.5 0h0m3 0h0m1.5 0h0m0.5 0h0m1.5 0h0m0 0h0m0.5 0h0m1.5 0h0m1 0h0m0.5 0h0m2.5 0h0m2 0h0m1 0h0m0.5 0h0m0.5 0h0m0.5 0h0m0 0h0m2 0h0m0.5 0h0m1.5 0h0m0.5 0h0m2 0h0m10 0h0m0.5 0h0m0.5 0h0m2 0h0m0.5 0h0m3 0h0m0.5 0h0m0.5 0h0m1.5 0h0m0 0h0m1 0h0m0.5 0h0m0.5 0h0m1.5 0h0m0 0h0m0 0h0m0.5 0h0m0.5 0h0m2 0h0m1.5 0h0m0.5 0h0m0.5 0h0m7 0h0m8.5 0h0m5.5 0h0m-82 0.5h0m1.5 0h0m0.5 0h0m4 0h0m1 0h0m2 0h0m0.5 0h0m2.5 0h0m3 0h0m1 0h0m2.5 0h0m1 0h0m3 0h0m1 0h0m0 0h0m1 0h0m0.5 0h0m0.5 0h0m1 0h0m0 0h0m3 0h0m0 0h0m0.5 0h0m0 0h0m1 0h0m12.5 0h0m2 0h0m0 0h0m1 0h0m0.5 0h0m2 0h0m0 0h0m1 0h0m0 0h0m0.5 0h0m0.5 0h0m0 0h0m0.5 0h0m1 0h0m0.5 0h0m0 0h0m0.5 0h0m1 0h0m0.5 0h0m3 0h0m1.5 0h0m1.5 0h0m0 0h0m1 0h0m1.5 0h0m1 0h0m0 0h0m9.5 0h0m0 0h0m-118 0.5h0m24 0h0m8 0h0m8 0h0m8 0h0m1 0h0m5.5 0h0m2.5 0h0m2.5 0h0m3 0h0m0.5 0h0m3 0h0m0 0h0m1 0h0m0 0h0m0.5 0h0m0 0h0m0.5 0h0m1 0h0m0.5 0h0m0 0h0m0 0h0m1 0h0m0.5 0h0m1.5 0h0m1.5 0h0m0 0h0m2.5 0h0m10 0h0m0.5 0h0m1.5 0h0m0.5 0h0m0 0h0m0.5 0h0m2.5 0h0m0 0h0m1 0h0m0.5 0h0m1 0h0m1 0h0m0 0h0m1 0h0m2 0h0m0 0h0m1 0h0m1.5 0h0m0 0h0m3 0h0m0 0h0m2 0h0m5 0h0m0.5 0h0m1.5 0h0m15 0h0m1.5 0h0m-97.5 0.5h0m13.5 0h0m5 0h0m3.5 0h0m0 0h0m4 0h0m3.5 0h0m1.5 0h0m1.5 0h0m1 0h0m0.5 0h0m0.5 0h0m0.5 0h0m0.5 0h0m0.5 0h0m2 0h0m2 0h0m0 0h0m0 0h0m1 0h0m0.5 0h0m0.5 0h0m0.5 0h0m0.5 0h0m0 0h0m1 0h0m0.5 0h0m10.5 0h0m0.5 0h0m0.5 0h0m1 0h0m0.5 0h0m0 0h0m0.5 0h0m0.5 0h0m0 0h0m1 0h0m0.5 0h0m0.5 0h0m1 0h0m2.5 0h0m0.5 0h0m0 0h0m1.5 0h0m0 0h0m1 0h0m0.5 0h0m1 0h0m0.5 0h0m1.5 0h0m2 0h0m3 0h0m9.5 0h0m7.5 0h0m-88 0.5h0m6.5 0h0m8.5 0h0m1.5 0h0m0.5 0h0m0.5 0h0m1 0h0m1 0h0m1.5 0h0m3 0h0m2 0h0m0 0h0m1.5 0h0m1 0h0m0.5 0h0m5.5 0h0m0.5 0h0m1.5 0h0m0.5 0h0m1 0h0m0.5 0h0m2 0h0m0.5 0h0m9 0h0m1 0h0m0.5 0h0m0 0h0m0.5 0h0m0.5 0h0m1 0h0m0.5 0h0m0 0h0m0.5 0h0m1 0h0m0.5 0h0m0.5 0h0m0 0h0m0.5 0h0m0.5 0h0m0.5 0h0m1.5 0h0m0 0h0m2.5 0h0m1.5 0h0m2 0h0m1 0h0m3.5 0h0m11 0h0m3 0h0m-155 0.5h0m82.5 0h0m1.5 0h0m5.5 0h0m4.5 0h0m2 0h0m0 0h0m0.5 0h0m4 0h0m0.5 0h0m0 0h0m0.5 0h0m1.5 0h0m0.5 0h0m0.5 0h0m0.5 0h0m1 0h0m0 0h0m0 0h0m0.5 0h0m3.5 0h0m2 0h0m10.5 0h0m0 0h0m1.5 0h0m1.5 0h0m0 0h0m0.5 0h0m0 0h0m0 0h0m0.5 0h0m0 0h0m1 0h0m0 0h0m1 0h0m0 0h0m0 0h0m0.5 0h0m1 0h0m3.5 0h0m0.5 0h0m1 0h0m0.5 0h0m2 0h0m0.5 0h0m0 0h0m0.5 0h0m4.5 0h0m4 0h0m1 0h0m2.5 0h0m16.5 0h0m12 0h0m-91 0.5h0m3.5 0h0m1.5 0h0m0 0h0m3.5 0h0m1 0h0m1.5 0h0m1 0h0m0 0h0m1.5 0h0m1.5 0h0m1 0h0m0.5 0h0m0.5 0h0m0.5 0h0m0 0h0m0.5 0h0m0.5 0h0m2.5 0h0m2 0h0m11 0h0m0 0h0m2 0h0m0 0h0m0.5 0h0m0 0h0m0.5 0h0m0 0h0m1 0h0m0.5 0h0m0 0h0m0 0h0m0.5 0h0m0 0h0m1.5 0h0m0.5 0h0m0.5 0h0m0.5 0h0m0 0h0m0 0h0m0.5 0h0m0.5 0h0m1.5 0h0m1 0h0m2.5 0h0m5.5 0h0m5.5 0h0m0.5 0h0m4.5 0h0m0.5 0h0m3 0h0m2.5 0h0m-85 0.5h0m9 0h0m5 0h0m4.5 0h0m2.5 0h0m2 0h0m1.5 0h0m2.5 0h0m1.5 0h0m0.5 0h0m1 0h0m0.5 0h0m0.5 0h0m0.5 0h0m1 0h0m1.5 0h0m0 0h0m0 0h0m0.5 0h0m0.5 0h0m1.5 0h0m0 0h0m0 0h0m1.5 0h0m0.5 0h0m1 0h0m0 0h0m9.5 0h0m0.5 0h0m0.5 0h0m2.5 0h0m1.5 0h0m0 0h0m0.5 0h0m0.5 0h0m0.5 0h0m0 0h0m0 0h0m0.5 0h0m0.5 0h0m1 0h0m0.5 0h0m1 0h0m0 0h0m1.5 0h0m1 0h0m0 0h0m1 0h0m2 0h0m1.5 0h0m0.5 0h0m2 0h0m0 0h0m2.5 0h0m1.5 0h0m1 0h0m1 0h0m7.5 0h0m-73.5 0.5h0m2 0h0m1 0h0m4.5 0h0m4 0h0m1 0h0m3 0h0m0.5 0h0m0.5 0h0m0 0h0m0.5 0h0m4.5 0h0m1 0h0m0.5 0h0m0 0h0m0.5 0h0m0 0h0m0.5 0h0m1.5 0h0m0.5 0h0m3 0h0m0.5 0h0m0.5 0h0m0 0h0m0 0h0m1.5 0h0m9 0h0m1 0h0m3 0h0m0 0h0m0.5 0h0m0 0h0m0.5 0h0m1 0h0m0 0h0m3.5 0h0m0 0h0m0.5 0h0m5 0h0m3 0h0m5.5 0h0m-78 0.5h0m9.5 0h0m7 0h0m1.5 0h0m1.5 0h0m6.5 0h0m4 0h0m0 0h0m2 0h0m1 0h0m0.5 0h0m1 0h0m2 0h0m2.5 0h0m1.5 0h0m2 0h0m1 0h0m1.5 0h0m10.5 0h0m0 0h0m1 0h0m1 0h0m1.5 0h0m0 0h0m0.5 0h0m0 0h0m1.5 0h0m0.5 0h0m0.5 0h0m0 0h0m1.5 0h0m1 0h0m0.5 0h0m0 0h0m1 0h0m0.5 0h0m0.5 0h0m0.5 0h0m1 0h0m1.5 0h0m0.5 0h0m1.5 0h0m0.5 0h0m1.5 0h0m1.5 0h0m-54 0.5h0m4 0h0m1 0h0m5.5 0h0m0.5 0h0m2 0h0m0.5 0h0m1 0h0m3 0h0m1.5 0h0m1 0h0m3 0h0m0.5 0h0m0 0h0m9 0h0m1.5 0h0m0.5 0h0m0.5 0h0m0 0h0m2.5 0h0m2 0h0m0.5 0h0m0.5 0h0m0 0h0m0.5 0h0m0 0h0m0.5 0h0m0.5 0h0m0.5 0h0m0 0h0m0 0h0m0.5 0h0m1 0h0m0 0h0m1 0h0m0.5 0h0m1.5 0h0m2 0h0m1 0h0m1 0h0m0.5 0h0m1 0h0m0 0h0m0.5 0h0m1 0h0m0 0h0m8 0h0m6 0h0m14.5 0h0m62 0h0m23.5 0h0m-200 0.5h0m6 0h0m19.5 0h0m2.5 0h0m8.5 0h0m3 0h0m6 0h0m1 0h0m2 0h0m0 0h0m0 0h0m0 0h0m0.5 0h0m1.5 0h0m0.5 0h0m0 0h0m2 0h0m0.5 0h0m1.5 0h0m0.5 0h0m0 0h0m8.5 0h0m1 0h0m0.5 0h0m2 0h0m0 0h0m1 0h0m0.5 0h0m1 0h0m0 0h0m0.5 0h0m1 0h0m0 0h0m1.5 0h0m0 0h0m0.5 0h0m0.5 0h0m1 0h0m1 0h0m0 0h0m0 0h0m0.5 0h0m2.5 0h0m4.5 0h0m1.5 0h0m3.5 0h0m8 0h0m14.5 0h0m42 0h0m-128 0.5h0m3 0h0m3.5 0h0m0 0h0m2.5 0h0m2.5 0h0m3.5 0h0m1.5 0h0m1.5 0h0m2.5 0h0m0.5 0h0m0.5 0h0m0.5 0h0m1.5 0h0m1 0h0m0.5 0h0m0.5 0h0m2 0h0m1 0h0m0 0h0m0.5 0h0m1.5 0h0m0.5 0h0m0 0h0m9 0h0m0 0h0m0.5 0h0m1 0h0m0 0h0m1 0h0m1 0h0m0 0h0m3 0h0m0.5 0h0m2.5 0h0m1.5 0h0m2 0h0m1 0h0m1.5 0h0m1 0h0m0.5 0h0m0.5 0h0m2.5 0h0m0 0h0m5 0h0m16 0h0m-155 0.5h0m74.5 0h0m6 0h0m7 0h0m1 0h0m1 0h0m2 0h0m1.5 0h0m0 0h0m1.5 0h0m0 0h0m0 0h0m2 0h0m0 0h0m1.5 0h0m1 0h0m0.5 0h0m0 0h0m1 0h0m0.5 0h0m0 0h0m0 0h0m1.5 0h0m1 0h0m10.5 0h0m1 0h0m1 0h0m0 0h0m0 0h0m0 0h0m0.5 0h0m0.5 0h0m0 0h0m0.5 0h0m0.5 0h0m0 0h0m0.5 0h0m1.5 0h0m2.5 0h0m0 0h0m1.5 0h0m0.5 0h0m1.5 0h0m6.5 0h0m2 0h0m3 0h0m-63.5 0.5h0m7 0h0m3 0h0m6 0h0m0.5 0h0m1.5 0h0m0 0h0m2 0h0m1.5 0h0m1 0h0m0.5 0h0m0 0h0m3 0h0m0.5 0h0m0.5 0h0m0 0h0m0.5 0h0m0.5 0h0m1.5 0h0m0.5 0h0m0 0h0m0.5 0h0m0 0h0m9 0h0m1 0h0m0.5 0h0m0 0h0m0.5 0h0m1 0h0m0.5 0h0m0 0h0m0.5 0h0m0 0h0m0.5 0h0m0.5 0h0m0 0h0m0 0h0m0.5 0h0m0 0h0m0 0h0m0.5 0h0m1.5 0h0m1 0h0m0 0h0m2.5 0h0m0.5 0h0m0.5 0h0m2.5 0h0m3 0h0m3.5 0h0m2.5 0h0m1 0h0m3.5 0h0m11 0h0m-76 0.5h0m7.5 0h0m1 0h0m1.5 0h0m0.5 0h0m1 0h0m3 0h0m3.5 0h0m1.5 0h0m3 0h0m0.5 0h0m0.5 0h0m1 0h0m0 0h0m0 0h0m0.5 0h0m1.5 0h0m1.5 0h0m9.5 0h0m0.5 0h0m1 0h0m1.5 0h0m1 0h0m1.5 0h0m1 0h0m1.5 0h0m0.5 0h0m0.5 0h0m1 0h0m2.5 0h0m0 0h0m0.5 0h0m3 0h0m3 0h0m3 0h0m0.5 0h0m-66.5 0.5h0m16.5 0h0m2 0h0m0 0h0m0 0h0m0.5 0h0m2 0h0m0.5 0h0m0.5 0h0m1 0h0m0.5 0h0m1 0h0m0.5 0h0m2 0h0m0.5 0h0m0.5 0h0m0.5 0h0m0.5 0h0m1.5 0h0m0 0h0m0 0h0m0.5 0h0m0.5 0h0m0.5 0h0m1 0h0m0.5 0h0m1 0h0m0.5 0h0m9.5 0h0m1 0h0m0 0h0m1.5 0h0m0 0h0m1 0h0m0 0h0m0 0h0m0.5 0h0m1.5 0h0m2 0h0m0 0h0m1 0h0m0.5 0h0m1 0h0m0.5 0h0m0 0h0m2 0h0m0.5 0h0m0.5 0h0m0 0h0m0 0h0m5 0h0m1 0h0m9.5 0h0m-61.5 0.5h0m0.5 0h0m4.5 0h0m3 0h0m0.5 0h0m1.5 0h0m1.5 0h0m0 0h0m0.5 0h0m2.5 0h0m2 0h0m3.5 0h0m0 0h0m0.5 0h0m2 0h0m9.5 0h0m0 0h0m0.5 0h0m0 0h0m0 0h0m0 0h0m1 0h0m0.5 0h0m0 0h0m3 0h0m0.5 0h0m0 0h0m0.5 0h0m0.5 0h0m0.5 0h0m0 0h0m1 0h0m0.5 0h0m1.5 0h0m3 0h0m1.5 0h0m1 0h0m0.5 0h0m0 0h0m2.5 0h0m1 0h0m6.5 0h0m-55 0.5h0m0.5 0h0m0 0h0m1 0h0m0.5 0h0m3 0h0m1 0h0m1 0h0m0.5 0h0m0 0h0m2 0h0m0 0h0m1 0h0m0.5 0h0m0 0h0m0.5 0h0m0 0h0m3.5 0h0m0.5 0h0m2.5 0h0m0 0h0m1 0h0m0.5 0h0m9.5 0h0m0.5 0h0m0.5 0h0m1 0h0m1.5 0h0m1.5 0h0m1.5 0h0m0.5 0h0m0 0h0m0 0h0m1.5 0h0m1 0h0m1.5 0h0m1 0h0m1 0h0m0 0h0m2 0h0m1 0h0m0.5 0h0m3.5 0h0m0 0h0m15.5 0h0m-78 0.5h0m9 0h0m6 0h0m4.5 0h0m1 0h0m0 0h0m2 0h0m1.5 0h0m1 0h0m0.5 0h0m0.5 0h0m1 0h0m1 0h0m0.5 0h0m0.5 0h0m0 0h0m0.5 0h0m0 0h0m0.5 0h0m1.5 0h0m10 0h0m0.5 0h0m0 0h0m0.5 0h0m1 0h0m2.5 0h0m1 0h0m4 0h0m3 0h0m0.5 0h0m0.5 0h0m1 0h0m2.5 0h0m0.5 0h0m1.5 0h0m6 0h0m6.5 0h0m8 0h0m-101 0.5h0m25 0h0m2 0h0m5 0h0m0.5 0h0m3 0h0m3.5 0h0m1 0h0m2 0h0m0.5 0h0m1 0h0m2.5 0h0m0 0h0m1 0h0m0.5 0h0m0.5 0h0m0.5 0h0m0.5 0h0m1 0h0m0.5 0h0m0 0h0m0.5 0h0m0 0h0m0 0h0m11 0h0m0 0h0m1.5 0h0m0 0h0m1 0h0m0 0h0m1 0h0m1 0h0m0.5 0h0m1 0h0m0.5 0h0m0.5 0h0m1 0h0m0.5 0h0m1.5 0h0m1.5 0h0m0.5 0h0m1 0h0m2.5 0h0m2.5 0h0m4 0h0m2 0h0m1 0h0m4 0h0m18 0h0m-78.5 0.5h0m1 0h0m4 0h0m0.5 0h0m1.5 0h0m1 0h0m2.5 0h0m0 0h0m0.5 0h0m0 0h0m0.5 0h0m0.5 0h0m1 0h0m1.5 0h0m1.5 0h0m0.5 0h0m0 0h0m0.5 0h0m1.5 0h0m0.5 0h0m0.5 0h0m0.5 0h0m2.5 0h0m0 0h0m0.5 0h0m8.5 0h0m0.5 0h0m1 0h0m0.5 0h0m2.5 0h0m1.5 0h0m1 0h0m0 0h0m1 0h0m1.5 0h0m0.5 0h0m1 0h0m0.5 0h0m5.5 0h0m4.5 0h0m2 0h0m3.5 0h0m-74 0.5h0m7.5 0h0m1.5 0h0m3 0h0m0.5 0h0m4.5 0h0m3.5 0h0m2.5 0h0m0 0h0m1.5 0h0m1.5 0h0m0.5 0h0m1 0h0m2 0h0m3 0h0m1 0h0m1 0h0m0 0h0m0.5 0h0m0.5 0h0m0.5 0h0m1 0h0m0.5 0h0m9.5 0h0m0 0h0m2 0h0m0.5 0h0m0.5 0h0m1 0h0m1 0h0m0 0h0m0.5 0h0m0 0h0m1 0h0m0.5 0h0m0 0h0m1.5 0h0m0 0h0m2 0h0m1.5 0h0m1 0h0m2.5 0h0m3.5 0h0m2 0h0m4.5 0h0m-64.5 0.5h0m5 0h0m6.5 0h0m3.5 0h0m2 0h0m1 0h0m1 0h0m1 0h0m0.5 0h0m2 0h0m1 0h0m1 0h0m1 0h0m0 0h0m0.5 0h0m1 0h0m0.5 0h0m0.5 0h0m1 0h0m0 0h0m0 0h0m1 0h0m0 0h0m1 0h0m10 0h0m0 0h0m1 0h0m1.5 0h0m0.5 0h0m2 0h0m0 0h0m0.5 0h0m0 0h0m4 0h0m0.5 0h0m1.5 0h0m4.5 0h0m4.5 0h0m-65.5 0.5h0m2.5 0h0m5.5 0h0m1 0h0m0.5 0h0m9.5 0h0m4 0h0m0 0h0m1 0h0m1 0h0m0 0h0m1.5 0h0m0 0h0m2 0h0m0 0h0m2.5 0h0m0 0h0m0.5 0h0m0 0h0m0.5 0h0m0.5 0h0m0.5 0h0m1 0h0m8.5 0h0m0.5 0h0m0 0h0m1.5 0h0m0 0h0m0.5 0h0m0 0h0m0.5 0h0m0 0h0m0 0h0m0.5 0h0m0 0h0m0 0h0m0.5 0h0m1.5 0h0m1 0h0m1 0h0m1 0h0m0 0h0m0.5 0h0m0 0h0m0 0h0m1.5 0h0m0 0h0m0 0h0m0 0h0m2 0h0m6 0h0m3 0h0m13.5 0h0m-183 0.5h0m116 0h0m3.5 0h0m2 0h0m3.5 0h0m3.5 0h0m0.5 0h0m1.5 0h0m1 0h0m0 0h0m1 0h0m0.5 0h0m0 0h0m0 0h0m0.5 0h0m0 0h0m1 0h0m0 0h0m1.5 0h0m0.5 0h0m0.5 0h0m0 0h0m1 0h0m0.5 0h0m1 0h0m0.5 0h0m7.5 0h0m1 0h0m1.5 0h0m0.5 0h0m0.5 0h0m0 0h0m1 0h0m2.5 0h0m0 0h0m0.5 0h0m0.5 0h0m1 0h0m2 0h0m0.5 0h0m3 0h0m1.5 0h0m0.5 0h0m0.5 0h0m1 0h0m0.5 0h0m0 0h0m4 0h0m1.5 0h0m1 0h0m119 0h0m-172.5 0.5h0m1 0h0m1 0h0m0.5 0h0m4 0h0m2 0h0m0.5 0h0m1 0h0m1 0h0m1 0h0m0 0h0m0.5 0h0m0.5 0h0m0.5 0h0m1.5 0h0m0 0h0m1 0h0m1 0h0m1 0h0m1.5 0h0m1.5 0h0m10.5 0h0m1.5 0h0m3.5 0h0m0 0h0m1 0h0m2 0h0m0 0h0m1.5 0h0m2 0h0m2 0h0m2 0h0m-44 0.5h0m3.5 0h0m1.5 0h0m1 0h0m2 0h0m0.5 0h0m1 0h0m2 0h0m0.5 0h0m0.5 0h0m1.5 0h0m0.5 0h0m0 0h0m0 0h0m0.5 0h0m1 0h0m0.5 0h0m0 0h0m0.5 0h0m0.5 0h0m8 0h0m1.5 0h0m1.5 0h0m2.5 0h0m0.5 0h0m1 0h0m0 0h0m1 0h0m0 0h0m1.5 0h0m0.5 0h0m0.5 0h0m1.5 0h0m1 0h0m7 0h0m-47.5 0.5h0m0.5 0h0m2 0h0m2 0h0m2 0h0m0 0h0m3 0h0m1.5 0h0m1.5 0h0m0 0h0m0.5 0h0m1.5 0h0m0.5 0h0m0.5 0h0m0 0h0m1.5 0h0m1 0h0m0 0h0m0 0h0m1 0h0m0.5 0h0m0 0h0m0 0h0m0 0h0m0.5 0h0m8.5 0h0m3 0h0m0 0h0m0.5 0h0m1 0h0m0 0h0m0 0h0m0 0h0m1 0h0m0 0h0m1 0h0m0.5 0h0m2 0h0m1 0h0m1 0h0m0.5 0h0m0 0h0m41.5 0h0m-82.5 0.5h0m1.5 0h0m1.5 0h0m4.5 0h0m1 0h0m3 0h0m0.5 0h0m0 0h0m1.5 0h0m2 0h0m0.5 0h0m0 0h0m0.5 0h0m1.5 0h0m2 0h0m0.5 0h0m8 0h0m0 0h0m0.5 0h0m0.5 0h0m0.5 0h0m0.5 0h0m0 0h0m0.5 0h0m0.5 0h0m0.5 0h0m2 0h0m1 0h0m1 0h0m1.5 0h0m1 0h0m0 0h0m0.5 0h0m0 0h0m0.5 0h0m5.5 0h0m9 0h0m0 0h0m-50 0.5h0m2 0h0m2 0h0m0.5 0h0m3.5 0h0m1 0h0m1 0h0m1.5 0h0m0.5 0h0m1 0h0m1 0h0m0 0h0m0.5 0h0m0.5 0h0m1 0h0m0 0h0m0.5 0h0m0 0h0m0.5 0h0m9.5 0h0m0 0h0m0 0h0m0.5 0h0m0 0h0m0.5 0h0m1 0h0m1 0h0m2.5 0h0m0 0h0m0 0h0m2 0h0m0.5 0h0m0.5 0h0m1 0h0m0.5 0h0m0.5 0h0m4 0h0m-48 0.5h0m13.5 0h0m0 0h0m3 0h0m0.5 0h0m0 0h0m1 0h0m1 0h0m0.5 0h0m0 0h0m0.5 0h0m1 0h0m0 0h0m2 0h0m0 0h0m1 0h0m1 0h0m6 0h0m1.5 0h0m0 0h0m1.5 0h0m1 0h0m1.5 0h0m0.5 0h0m0.5 0h0m4 0h0m0.5 0h0m1 0h0m1.5 0h0m3 0h0m3.5 0h0m-65.5 0.5h0m13 0h0m7.5 0h0m0.5 0h0m3 0h0m1 0h0m2.5 0h0m0.5 0h0m1 0h0m0.5 0h0m0.5 0h0m0.5 0h0m2.5 0h0m0.5 0h0m0.5 0h0m0 0h0m1 0h0m1 0h0m0 0h0m0.5 0h0m0 0h0m0.5 0h0m0.5 0h0m1.5 0h0m0.5 0h0m0 0h0m6 0h0m1 0h0m0.5 0h0m0.5 0h0m1.5 0h0m0.5 0h0m1.5 0h0m0 0h0m0 0h0m0.5 0h0m0 0h0m0.5 0h0m1 0h0m2.5 0h0m1 0h0m1 0h0m0 0h0m3.5 0h0m5.5 0h0m0.5 0h0m3.5 0h0m-59 0.5h0m13.5 0h0m1 0h0m0.5 0h0m3.5 0h0m1.5 0h0m3 0h0m0.5 0h0m0 0h0m0.5 0h0m0.5 0h0m1 0h0m0.5 0h0m0.5 0h0m0 0h0m0.5 0h0m7 0h0m1 0h0m0 0h0m1.5 0h0m1 0h0m0 0h0m0 0h0m1 0h0m1 0h0m1.5 0h0m0 0h0m0.5 0h0m0 0h0m1 0h0m1.5 0h0m1.5 0h0m1 0h0m1.5 0h0m3 0h0m0 0h0m-46.5 0.5h0m0.5 0h0m7.5 0h0m1.5 0h0m2 0h0m1 0h0m3 0h0m0 0h0m0.5 0h0m0.5 0h0m0.5 0h0m1.5 0h0m0.5 0h0m0.5 0h0m0.5 0h0m0.5 0h0m0.5 0h0m0 0h0m0 0h0m0.5 0h0m0.5 0h0m0.5 0h0m0 0h0m7 0h0m0 0h0m0.5 0h0m0.5 0h0m0.5 0h0m0.5 0h0m1 0h0m1.5 0h0m0.5 0h0m1.5 0h0m0.5 0h0m0 0h0m0.5 0h0m0 0h0m0 0h0m1 0h0m1 0h0m0 0h0m0.5 0h0m3.5 0h0m0.5 0h0m0.5 0h0m5 0h0m-48 0.5h0m9 0h0m0 0h0m0.5 0h0m0.5 0h0m1.5 0h0m0.5 0h0m0 0h0m2 0h0m2 0h0m0.5 0h0m1.5 0h0m0.5 0h0m0 0h0m0.5 0h0m0 0h0m1 0h0m0 0h0m0 0h0m1.5 0h0m0 0h0m1 0h0m6 0h0m0 0h0m1 0h0m0.5 0h0m0 0h0m0 0h0m2.5 0h0m1 0h0m0.5 0h0m0.5 0h0m2 0h0m1 0h0m1 0h0m0.5 0h0m0 0h0m2 0h0m6 0h0m9 0h0m-51 0.5h0m0.5 0h0m3.5 0h0m2.5 0h0m0.5 0h0m0.5 0h0m0 0h0m5.5 0h0m1 0h0m0 0h0m0 0h0m0 0h0m1 0h0m1 0h0m0.5 0h0m2 0h0m4.5 0h0m0.5 0h0m1 0h0m0.5 0h0m0.5 0h0m1 0h0m0 0h0m0.5 0h0m0 0h0m0.5 0h0m0 0h0m1.5 0h0m0 0h0m0 0h0m1.5 0h0m0.5 0h0m1 0h0m1.5 0h0m1.5 0h0m0.5 0h0m4.5 0h0m2 0h0m1 0h0m-45 0.5h0m1.5 0h0m2.5 0h0m0.5 0h0m0.5 0h0m3.5 0h0m0.5 0h0m0.5 0h0m1.5 0h0m3 0h0m1 0h0m0.5 0h0m0 0h0m0.5 0h0m0 0h0m0.5 0h0m0 0h0m1 0h0m0.5 0h0m2 0h0m5.5 0h0m1 0h0m0 0h0m0.5 0h0m0 0h0m0.5 0h0m0 0h0m1 0h0m0.5 0h0m0.5 0h0m0.5 0h0m0 0h0m1.5 0h0m2.5 0h0m2 0h0m0 0h0m1 0h0m1 0h0m4 0h0m1.5 0h0m14 0h0m-67.5 0.5h0m7 0h0m0.5 0h0m2.5 0h0m2.5 0h0m3.5 0h0m0.5 0h0m2 0h0m2 0h0m1 0h0m1 0h0m0.5 0h0m1 0h0m11 0h0m0.5 0h0m1 0h0m0 0h0m1 0h0m0.5 0h0m0.5 0h0m0 0h0m1.5 0h0m0 0h0m0.5 0h0m0.5 0h0m6 0h0m0 0h0m1 0h0m0 0h0m1 0h0m1 0h0m1 0h0m1 0h0m12.5 0h0m18.5 0h0m-163.5 0.5h0m85.5 0h0m7.5 0h0m2.5 0h0m1 0h0m6 0h0m0.5 0h0m0 0h0m0.5 0h0m0 0h0m1 0h0m0.5 0h0m0 0h0m0.5 0h0m0 0h0m1 0h0m0.5 0h0m1 0h0m0.5 0h0m0 0h0m1 0h0m6 0h0m1 0h0m1.5 0h0m0.5 0h0m0.5 0h0m0 0h0m0 0h0m0.5 0h0m1 0h0m0 0h0m4 0h0m1.5 0h0m5.5 0h0m4.5 0h0m0.5 0h0m-95 0.5h0m35 0h0m23.5 0h0m1 0h0m1 0h0m2 0h0m2 0h0m1 0h0m0.5 0h0m0.5 0h0m2 0h0m5.5 0h0m0.5 0h0m1 0h0m0 0h0m0 0h0m1.5 0h0m0.5 0h0m0.5 0h0m0 0h0m0 0h0m0 0h0m1.5 0h0m0.5 0h0m0.5 0h0m0 0h0m1 0h0m1.5 0h0m1 0h0m0.5 0h0m5 0h0m0.5 0h0m0 0h0m13 0h0m-66.5 0.5h0m1 0h0m8 0h0m9.5 0h0m2 0h0m1.5 0h0m1 0h0m1.5 0h0m0.5 0h0m1 0h0m0.5 0h0m0.5 0h0m0 0h0m0.5 0h0m0 0h0m0 0h0m0.5 0h0m0 0h0m0 0h0m0.5 0h0m0 0h0m2.5 0h0m1.5 0h0m7.5 0h0m0.5 0h0m1.5 0h0m0.5 0h0m0.5 0h0m1 0h0m1 0h0m0.5 0h0m0.5 0h0m5.5 0h0m0 0h0m0.5 0h0m-40.5 0.5h0m1 0h0m1.5 0h0m9.5 0h0m2 0h0m0 0h0m1 0h0m1 0h0m0.5 0h0m0 0h0m0.5 0h0m0.5 0h0m1 0h0m1.5 0h0m0.5 0h0m6.5 0h0m1 0h0m1 0h0m0 0h0m1 0h0m0.5 0h0m0 0h0m0.5 0h0m0 0h0m0 0h0m3 0h0m-46.5 0.5h0m7.5 0h0m7 0h0m3.5 0h0m4.5 0h0m2 0h0m0 0h0m0.5 0h0m3.5 0h0m0 0h0m1.5 0h0m0.5 0h0m0 0h0m0.5 0h0m0 0h0m0.5 0h0m0.5 0h0m0.5 0h0m1 0h0m5.5 0h0m0.5 0h0m0 0h0m1.5 0h0m0 0h0m1 0h0m0.5 0h0m0 0h0m0 0h0m0 0h0m1.5 0h0m2.5 0h0m2.5 0h0m0 0h0m1.5 0h0m0.5 0h0m1 0h0m1 0h0m1 0h0m0.5 0h0m2 0h0m0.5 0h0m0 0h0m6 0h0m-48.5 0.5h0m7.5 0h0m0.5 0h0m1 0h0m0 0h0m0.5 0h0m0 0h0m0 0h0m1 0h0m0.5 0h0m0.5 0h0m0 0h0m0.5 0h0m0.5 0h0m0 0h0m0.5 0h0m0 0h0m0 0h0m1.5 0h0m0.5 0h0m0.5 0h0m0.5 0h0m0.5 0h0m2.5 0h0m0 0h0m4.5 0h0m2.5 0h0m1.5 0h0m0 0h0m3 0h0m0.5 0h0m0 0h0m5.5 0h0m1.5 0h0m6.5 0h0m-41 0.5h0m1 0h0m3 0h0m2 0h0m0 0h0m2 0h0m1 0h0m0 0h0m0.5 0h0m0 0h0m1 0h0m0.5 0h0m0.5 0h0m0 0h0m0 0h0m0.5 0h0m0.5 0h0m0 0h0m0.5 0h0m0.5 0h0m0.5 0h0m0.5 0h0m0.5 0h0m1 0h0m0 0h0m4.5 0h0m0.5 0h0m0 0h0m3 0h0m1.5 0h0m0 0h0m0.5 0h0m1 0h0m3.5 0h0m0.5 0h0m0.5 0h0m3 0h0m1 0h0m3 0h0m0.5 0h0m1.5 0h0m-45.5 0.5h0m1.5 0h0m5 0h0m3.5 0h0m0.5 0h0m2 0h0m1 0h0m0 0h0m0.5 0h0m0.5 0h0m0 0h0m0.5 0h0m1.5 0h0m0.5 0h0m0 0h0m1 0h0m0 0h0m3 0h0m4 0h0m0.5 0h0m0 0h0m0.5 0h0m1.5 0h0m1 0h0m0 0h0m0.5 0h0m2 0h0m0 0h0m4.5 0h0m0 0h0m0.5 0h0m1.5 0h0m1.5 0h0m4.5 0h0m-43 0.5h0m9.5 0h0m1 0h0m0.5 0h0m1.5 0h0m0 0h0m0 0h0m1.5 0h0m1 0h0m0.5 0h0m1.5 0h0m1.5 0h0m0 0h0m0.5 0h0m0 0h0m0.5 0h0m0 0h0m0.5 0h0m1 0h0m4 0h0m0 0h0m0.5 0h0m0 0h0m0.5 0h0m0.5 0h0m0 0h0m0.5 0h0m0 0h0m0 0h0m0 0h0m0 0h0m1 0h0m0 0h0m1.5 0h0m1 0h0m7.5 0h0m0 0h0m-32 0.5h0m1 0h0m3 0h0m2.5 0h0m1.5 0h0m0 0h0m1 0h0m1 0h0m0.5 0h0m0.5 0h0m0 0h0m0.5 0h0m1 0h0m0 0h0m1.5 0h0m0.5 0h0m5.5 0h0m0 0h0m2 0h0m0.5 0h0m0 0h0m1 0h0m2.5 0h0m1 0h0m1.5 0h0m0 0h0m0 0h0m2 0h0m2 0h0m5 0h0m-39 0.5h0m7.5 0h0m1 0h0m0 0h0m3 0h0m0 0h0m1 0h0m0 0h0m1.5 0h0m0.5 0h0m0.5 0h0m1 0h0m5 0h0m0 0h0m0 0h0m1.5 0h0m0 0h0m0.5 0h0m0.5 0h0m0 0h0m0.5 0h0m0 0h0m1 0h0m0.5 0h0m0 0h0m0 0h0m3 0h0m0.5 0h0m0 0h0m1.5 0h0m3.5 0h0m0.5 0h0m1.5 0h0m-36 0.5h0m0.5 0h0m0.5 0h0m7 0h0m1 0h0m0 0h0m1 0h0m0 0h0m0 0h0m0.5 0h0m0.5 0h0m2 0h0m0.5 0h0m1.5 0h0m0.5 0h0m0.5 0h0m4 0h0m1.5 0h0m0 0h0m0.5 0h0m1 0h0m0 0h0m0 0h0m2 0h0m1.5 0h0m3 0h0m0 0h0m0 0h0m0.5 0h0m4 0h0m1 0h0m-31.5 0.5h0m1.5 0h0m1 0h0m0 0h0m1 0h0m0.5 0h0m1 0h0m0.5 0h0m1 0h0m1.5 0h0m0 0h0m0.5 0h0m0 0h0m0.5 0h0m0 0h0m2 0h0m1 0h0m5 0h0m0 0h0m1 0h0m0.5 0h0m0 0h0m1.5 0h0m1.5 0h0m1.5 0h0m0.5 0h0m0.5 0h0m0 0h0m0 0h0m1 0h0m0.5 0h0m1.5 0h0m2 0h0m0.5 0h0m0 0h0m0 0h0m3.5 0h0m2.5 0h0m-44.5 0.5h0m9 0h0m0 0h0m3 0h0m1.5 0h0m2 0h0m1 0h0m1 0h0m1 0h0m0 0h0m1.5 0h0m0 0h0m0.5 0h0m1 0h0m0.5 0h0m3.5 0h0m1 0h0m1.5 0h0m0 0h0m0.5 0h0m1 0h0m0.5 0h0m0 0h0m0.5 0h0m0 0h0m0.5 0h0m0.5 0h0m0.5 0h0m0.5 0h0m2.5 0h0m4 0h0m-55.5 0.5h0m23.5 0h0m1 0h0m1.5 0h0m0.5 0h0m0 0h0m1.5 0h0m1 0h0m3 0h0m0.5 0h0m0 0h0m2 0h0m0 0h0m0.5 0h0m0 0h0m0 0h0m2 0h0m5.5 0h0m1.5 0h0m1 0h0m1 0h0m0 0h0m0.5 0h0m0 0h0m0 0h0m0.5 0h0m0 0h0m1 0h0m1.5 0h0m1 0h0m-28 0.5h0m4 0h0m1 0h0m1 0h0m0.5 0h0m1 0h0m0 0h0m0.5 0h0m1 0h0m1 0h0m0.5 0h0m2 0h0m0 0h0m0.5 0h0m0 0h0m0.5 0h0m0 0h0m0 0h0m0 0h0m6.5 0h0m1.5 0h0m0 0h0m1 0h0m0 0h0m1 0h0m3.5 0h0m0 0h0m1 0h0m1 0h0m4 0h0m1 0h0m-44.5 0.5h0m11 0h0m3 0h0m7 0h0m1.5 0h0m1.5 0h0m0.5 0h0m0.5 0h0m0 0h0m1.5 0h0m0 0h0m5 0h0m0 0h0m0.5 0h0m0 0h0m0.5 0h0m0 0h0m0.5 0h0m1 0h0m0.5 0h0m1 0h0m0 0h0m9.5 0h0m3.5 0h0m-36.5 0.5h0m0.5 0h0m4.5 0h0m1 0h0m1.5 0h0m0 0h0m3.5 0h0m0.5 0h0m0 0h0m0.5 0h0m0 0h0m0 0h0m0.5 0h0m0.5 0h0m1 0h0m0 0h0m5 0h0m0 0h0m0.5 0h0m0 0h0m0.5 0h0m1 0h0m0 0h0m0.5 0h0m1.5 0h0m2 0h0m2 0h0m0.5 0h0m2.5 0h0m-36 0.5h0m7 0h0m1 0h0m1 0h0m2.5 0h0m0 0h0m1.5 0h0m2 0h0m1.5 0h0m0 0h0m0.5 0h0m0.5 0h0m0 0h0m0.5 0h0m0.5 0h0m0.5 0h0m5.5 0h0m0.5 0h0m0.5 0h0m0 0h0m0.5 0h0m1 0h0m0 0h0m0.5 0h0m0 0h0m0.5 0h0m1 0h0m1 0h0m0.5 0h0m0 0h0m2.5 0h0m1 0h0m0.5 0h0m2 0h0m-22.5 0.5h0m0 0h0m1 0h0m0.5 0h0m0.5 0h0m0 0h0m0 0h0m0.5 0h0m1 0h0m0.5 0h0m0.5 0h0m0 0h0m0.5 0h0m0 0h0m0.5 0h0m0.5 0h0m0 0h0m0 0h0m3.5 0h0m0 0h0m2.5 0h0m0.5 0h0m0.5 0h0m0.5 0h0m0 0h0m0.5 0h0m0 0h0m0 0h0m0.5 0h0m4 0h0m1.5 0h0m0 0h0m1.5 0h0m1.5 0h0m3 0h0m-34.5 0.5h0m7.5 0h0m2.5 0h0m0 0h0m0.5 0h0m0.5 0h0m0 0h0m0 0h0m0.5 0h0m0.5 0h0m0 0h0m0.5 0h0m0 0h0m0.5 0h0m0.5 0h0m0 0h0m0.5 0h0m1 0h0m3.5 0h0m0.5 0h0m0 0h0m0.5 0h0m0 0h0m0.5 0h0m0.5 0h0m1 0h0m0 0h0m5 0h0m0.5 0h0m0.5 0h0m0 0h0m3.5 0h0m5 0h0m-37.5 0.5h0m5.5 0h0m3 0h0m0 0h0m1 0h0m2.5 0h0m0 0h0m0.5 0h0m0.5 0h0m1 0h0m0.5 0h0m0.5 0h0m0 0h0m0 0h0m1 0h0m0 0h0m0 0h0m0 0h0m0.5 0h0m2.5 0h0m1 0h0m0.5 0h0m0 0h0m0.5 0h0m0.5 0h0m0.5 0h0m1 0h0m2 0h0m0.5 0h0m2 0h0m6.5 0h0m1 0h0m8 0h0m-34 0.5h0m1 0h0m0 0h0m0.5 0h0m1.5 0h0m0.5 0h0m1.5 0h0m0 0h0m1 0h0m0.5 0h0m0 0h0m0.5 0h0m1 0h0m2.5 0h0m1 0h0m0 0h0m0 0h0m0.5 0h0m1 0h0m0 0h0m0.5 0h0m0.5 0h0m0 0h0m0 0h0m0 0h0m0.5 0h0m4.5 0h0m0.5 0h0m3 0h0m4 0h0m7 0h0m-121 0.5h0m80.5 0h0m5 0h0m2 0h0m0.5 0h0m1 0h0m0.5 0h0m0 0h0m0.5 0h0m1 0h0m1 0h0m0 0h0m0 0h0m3 0h0m4 0h0m1.5 0h0m0.5 0h0m0.5 0h0m1 0h0m1 0h0m1 0h0m1 0h0m1 0h0m0.5 0h0m-21.5 0.5h0m1.5 0h0m2.5 0h0m2.5 0h0m0.5 0h0m1 0h0m0.5 0h0m0 0h0m0.5 0h0m0 0h0m0.5 0h0m1 0h0m1.5 0h0m1 0h0m0 0h0m0 0h0m0.5 0h0m0.5 0h0m0 0h0m0 0h0m0.5 0h0m0.5 0h0m0.5 0h0m0.5 0h0m2.5 0h0m0.5 0h0m0.5 0h0m0.5 0h0m2.5 0h0m0.5 0h0m1 0h0m0.5 0h0m-24.5 0.5h0m0.5 0h0m0.5 0h0m0.5 0h0m2.5 0h0m1.5 0h0m0 0h0m1 0h0m1 0h0m0.5 0h0m1 0h0m0 0h0m0.5 0h0m4 0h0m0 0h0m1 0h0m1.5 0h0m0.5 0h0m1.5 0h0m1 0h0m-38 0.5h0m16.5 0h0m7 0h0m0.5 0h0m2.5 0h0m0 0h0m0.5 0h0m0 0h0m2 0h0m3.5 0h0m0.5 0h0m2 0h0m0.5 0h0m0 0h0m2 0h0m14.5 0h0m-38.5 0.5h0m5 0h0m1 0h0m2 0h0m4.5 0h0m1 0h0m0 0h0m1 0h0m1 0h0m0.5 0h0m1.5 0h0m1.5 0h0m0.5 0h0m1.5 0h0m1 0h0m3 0h0m-18.5 0.5h0m3 0h0m1 0h0m0.5 0h0m0 0h0m1 0h0m1.5 0h0m0.5 0h0m0 0h0m4 0h0m0.5 0h0m1 0h0m0 0h0m0 0h0m1.5 0h0m1.5 0h0m4 0h0m3.5 0h0m-29.5 0.5h0m5.5 0h0m0 0h0m2.5 0h0m0.5 0h0m2.5 0h0m1.5 0h0m0 0h0m2 0h0m1 0h0m1.5 0h0m1 0h0m1 0h0m1.5 0h0m0 0h0m0.5 0h0m5.5 0h0m7 0h0m-41.5 0.5h0m10 0h0m3.5 0h0m6 0h0m0 0h0m2 0h0m0.5 0h0m0 0h0m0 0h0m0 0h0m0.5 0h0m0 0h0m0.5 0h0m1.5 0h0m4 0h0m0.5 0h0m2.5 0h0m7 0h0m-24.5 0.5h0m3.5 0h0m1 0h0m1.5 0h0m2 0h0m1.5 0h0m0 0h0m1.5 0h0m0.5 0h0m0 0h0m0.5 0h0m2.5 0h0m0.5 0h0m2 0h0m4.5 0h0m-23 0.5h0m4 0h0m1.5 0h0m0.5 0h0m1 0h0m0.5 0h0m0 0h0m0 0h0m0.5 0h0m1 0h0m0.5 0h0m0 0h0m1.5 0h0m1 0h0m2 0h0m0.5 0h0m3 0h0m2 0h0m4.5 0h0m-24 0.5h0m2.5 0h0m6 0h0m0.5 0h0m0.5 0h0m0 0h0m0.5 0h0m1 0h0m1.5 0h0m0 0h0m2.5 0h0m2.5 0h0m5.5 0h0m-14.5 0.5h0m0.5 0h0m1.5 0h0m0 0h0m2 0h0m1 0h0m0 0h0m0.5 0h0m18 0h0m-26 0.5h0m5 0h0m14 0h0" stroke="#808080" stroke-width="3.4" stroke-linecap="round" fill="none"/>
<path d="M1480.5 748h0m-7 0.5h0m18.5 2.5h0m5 0.5h0m-7.5 1.5h0m13.5 1h0m-30.5 1.5h0m11.5 0.5h0m16.5 0.5h0m0 1.5h0m-18.5 0.5h0m-9.5 2.5h0m15.5 0.5h0m9 2.5h0m0.5 0.5h0m5.5 0h0m-3.5 5h0m3.5 0h0m8 1h0m-7 1h0m-15 0.5h0m16.5 3h0m-37 0.5h0m37.5 0.5h0m-10 0.5h0m-6 2h0m2 1.5h0m18.5 2h0m-32.5 0.5h0m21 1h0m2 0h0m5 5.5h0m7.5 0h0m-24 1h0m13 0.5h0m-25 1.5h0m-4 2.5h0m39 0h0m3 0h0m-38.5 1h0m9.5 0h0m7.5 0h0m24 0h0m-36 1.5h0m21.5 2h0m-5 2h0m15.5 2.5h0m-22 0.5h0m8 1.5h0m-11 3h0m12 0h0m17 1h0m2 1h0m-8 0.5h0m6.5 0h0m-12 0.5h0m-56 0.5h0m34.5 0h0m16.5 0h0m15 0h0m6.5 0h0m-24.5 0.5h0m16.5 0.5h0m-16 0.5h0m-1 0.5h0m3.5 1h0m19 0h0m0.5 0h0m-10.5 0.5h0m-39.5 2.5h0m16.5 0h0m13 0h0m17.5 0.5h0m-34 0.5h0m-1.5 2h0m20 0.5h0m20 1h0m-2 1h0m-19.5 0.5h0m22 0h0m-7 0.5h0m11 0h0m-2.5 3.5h0m-47.5 0.5h0m31.5 1.5h0m11.5 0.5h0m-30 0.5h0m28 0.5h0m-27 2h0m5 0h0m30 0h0m-3 2.5h0m-39.5 0.5h0m27.5 0h0m10.5 0.5h0m-9.5 1.5h0m-12.5 1.5h0m20.5 0h0m7.5 0h0m-6 0.5h0m-1 2h0m-36 0.5h0m18 1.5h0m18.5 0h0m-29 0.5h0m14 0h0m20 0h0m3.5 0h0m-21 1.5h0m15 1.5h0m-20 0.5h0m-10.5 0.5h0m5.5 0h0m19 1h0m6 0h0m-63.5 0.5h0m51 0h0m15.5 0h0m-1.5 0.5h0m4.5 0h0m-59 1h0m44.5 0.5h0m-36 3h0m27.5 0h0m10 0h0m8.5 0.5h0m-12 1.5h0m-7 1h0m8.5 1h0m-47.5 0.5h0m56.5 0.5h0m6 0.5h0m1 0h0m-21.5 1h0m12 0h0m-2.5 0.5h0m-35.5 0.5h0m27.5 0h0m12 0h0m3 0h0m-20.5 0.5h0m-2 1h0m23 0h0m-52 1h0m38.5 0h0m-13 1.5h0m8.5 0h0m18 0h0m-1 0.5h0m-41 1h0m12.5 0h0m28 0.5h0m-0.5 0.5h0m-17.5 0.5h0m8 0h0m14 0h0m-2.5 1h0m-9 0.5h0m-11.5 0.5h0m-64 0.5h0m78 0.5h0m-6 0.5h0m7 0h0m4.5 0h0m-42 0.5h0m43.5 0h0m-18 0.5h0m-14.5 1h0m12.5 0h0m-9.5 1h0m2 0.5h0m19.5 0h0m-6 0.5h0m5.5 0h0m12.5 0.5h0m-31 0.5h0m2 0h0m26 0h0m-54.5 0.5h0m38 1h0m-33 0.5h0m43.5 0h0m-11.5 0.5h0m19.5 0h0m-13 0.5h0m8.5 0h0m-22.5 0.5h0m21.5 1.5h0m-40.5 0.5h0m0.5 0h0m20 0h0m19.5 0.5h0m7.5 0.5h0m-10.5 0.5h0m5.5 0h0m-13.5 0.5h0m-12 1h0m18.5 0h0m10.5 0.5h0m-5.5 1.5h0m-1.5 1.5h0m6.5 0h0m-40 1h0m25.5 0h0m5 0h0m-0.5 1h0m14 0.5h0m-38.5 1h0m25.5 0h0m13 0h0m-19 0.5h0m0.5 0h0m3.5 0.5h0m5 0h0m-57.5 1h0m9.5 0h0m45 0h0m2.5 0h0m-1 0.5h0m-3 0.5h0m7 0h0m-9.5 0.5h0m4 2h0m0 0h0m-20 0.5h0m29 0h0m-6 1h0m-6.5 0.5h0m-13 0.5h0m18 0h0m-7.5 0.5h0m-24.5 0.5h0m8 0h0m18 0h0m-23.5 0.5h0m15 0h0m21.5 0h0m0 0h0m-33.5 0.5h0m19 0h0m-2.5 1h0m-26 0.5h0m40 0h0m-31.5 0.5h0m3 0h0m23 0h0m2.5 0h0m-14.5 0.5h0m25 0h0m-11 0.5h0m-36 0.5h0m22.5 0h0m12 0h0m12 1h0m0 0h0m-26 0.5h0m10.5 0h0m0.5 0h0m4 0.5h0m7 0h0m-52.5 0.5h0m54.5 0h0m-32.5 1h0m40 0h0m-54.5 0.5h0m28.5 0h0m15 0h0m-4 0.5h0m8 0.5h0m-22.5 0.5h0m11.5 0h0m10 0h0m-13 0.5h0m5 0h0m-20.5 0.5h0m25.5 0h0m-5.5 0.5h0m-40 0.5h0m55 0h0m-24.5 1h0m20 0h0m-31.5 0.5h0m21 0h0m-31.5 0.5h0m6.5 0.5h0m-54.5 1h0m69 0h0m-11.5 0.5h0m8 0h0m15 0h0m14.5 0h0m2 0h0m-30 1h0m11 0h0m10 0h0m-9 0.5h0m-140.5 1h0m96.5 0h0m11 0.5h0m-1 0.5h0m35 0.5h0m11.5 0h0m-52 0.5h0m54.5 0h0m-18.5 0.5h0m13 0h0m2 0h0m2 0h0m3.5 0h0m-35 0.5h0m1.5 0h0m-52 0.5h0m48.5 0h0m14 0h0m-15.5 0.5h0m1 0h0m1.5 0h0m21.5 0h0m4 0.5h0m-11 0.5h0m-13.5 1h0m7.5 0h0m-68.5 0.5h0m52.5 0h0m27.5 0h0m-13 0.5h0m22.5 0h0m-10 0.5h0m9.5 0h0m-22.5 0.5h0m25 0h0m-44 0.5h0m-10 0.5h0m16.5 0h0m33 0h0m2.5 0h0m0.5 0.5h0m2 0h0m-2 0.5h0m2.5 0h0m-87 0.5h0m22 0h0m20.5 0h0m0 0h0m8.5 0h0m11 0h0m6 0h0m-32.5 1h0m-7 0.5h0m42 0h0m-12 0.5h0m8 0h0m12 0h0m2.5 0h0m2 0h0m2 0h0m-19 0.5h0m4 0h0m13.5 0h0m-5.5 0.5h0m13.5 0h0m2.5 0h0m-26 1h0m-41 0.5h0m35.5 0h0m16 0h0m6.5 0h0m-37 0.5h0m2 0h0m2.5 0h0m11.5 0.5h0m14 0h0m3.5 0h0m-33.5 1h0m30.5 0h0m-56 0.5h0m49.5 0h0m10 0h0m3 0.5h0m2.5 0h0m-107.5 0.5h0m107 0h0m-31.5 0.5h0m39 0h0m-13.5 0.5h0m3.5 0h0m-46.5 0.5h0m34.5 0h0m21.5 0h0m-19.5 0.5h0m-50.5 0.5h0m46 0h0m13 0h0m6 0h0m-26 0.5h0m22 0h0m-33 0.5h0m36 0h0m6.5 0h0m-49.5 1h0m6.5 0h0m32 0h0m9.5 0.5h0m-42 0.5h0m38 0h0m-27.5 1h0m3.5 0h0m24.5 0h0m-21.5 0.5h0m20 0h0m4 0h0m-9.5 0.5h0m-7.5 0.5h0m4.5 0h0m-26.5 0.5h0m25.5 0h0m-12 0.5h0m6 0h0m-11.5 0.5h0m3 0h0m21 0h0m7.5 0h0m-23 0.5h0m10 0h0m-58.5 0.5h0m64.5 0h0m2.5 0h0m-86.5 0.5h0m57 0h0m14 0h0m7 0h0m3.5 0.5h0m-18 0.5h0m21 0h0m4.5 0h0m4 0h0m-35.5 0.5h0m-10.5 0.5h0m5 0h0m29 0h0m-55.5 0.5h0m33.5 0h0m7.5 0h0m11 0h0m5 0h0m-41.5 0.5h0m16 0h0m4 0h0m1 0h0m11 0h0m15.5 0h0m-53.5 0.5h0m16.5 0h0m15.5 0h0m8 0h0m8 0h0m10 0h0m-35 0.5h0m34 0h0m0.5 0h0m-2 0.5h0m-54.5 0.5h0m35 0.5h0m12.5 0h0m1 0h0m5 0h0m-70 0.5h0m40.5 0h0m22 0h0m-88 1h0m87.5 0h0m4.5 0h0m4.5 0h0m-38 0.5h0m16.5 0h0m5 0h0m8 0h0m9.5 0h0m-26.5 0.5h0m23 0h0m2 0h0m-5.5 0.5h0m-3 0.5h0m2.5 0h0m4.5 0h0m-56 1h0m49.5 0h0m-67 0.5h0m35.5 0h0m22 0h0m7.5 0.5h0m4.5 0h0m-22.5 0.5h0m6 0h0m3 0h0m-21.5 0.5h0m31.5 0h0m-23 0.5h0m25 0h0m1.5 0h0m0.5 0h0m10 0h0m-20.5 1h0m15.5 0.5h0m-34 0.5h0m0 0h0m2.5 0h0m7 0h0m0 0.5h0m2 0h0m4.5 0h0m13 0h0m-56.5 0.5h0m28 0h0m29.5 0h0m-3.5 0.5h0m-24.5 0.5h0m23 0h0m-50.5 0.5h0m22 0.5h0m10 0h0m27 0h0m-59.5 0.5h0m56 0h0m2 0h0m2.5 0h0m2.5 0h0m-32 0.5h0m11.5 0h0m15.5 0h0m-11 0.5h0m12 0h0m-75.5 0.5h0m38.5 0h0m0.5 0h0m8 0h0m16 0h0m1 0h0m6.5 0h0m4 0h0m-92.5 0.5h0m43 0h0m38 0h0m0 0h0m-21 0.5h0m7 0h0m9.5 0h0m3.5 0h0m6.5 0h0m3.5 0h0m-34.5 0.5h0m7 0h0m1 0h0m0.5 0h0m7.5 0h0m-3.5 0.5h0m12 0h0m12 0h0m-37.5 0.5h0m2 0h0m3 0h0m24 0h0m4 0h0m8.5 0h0m-30 0.5h0m28 0h0m-30 0.5h0m6 0h0m6 0h0m8.5 0h0m1 0h0m1.5 0h0m4 0h0m-60.5 0.5h0m11.5 0h0m23 0h0m19 0h0m1 0h0m-33 0.5h0m17.5 0h0m9 0h0m9 0.5h0m5 0h0m-2.5 0.5h0m2 0h0m6.5 0h0m-44.5 0.5h0m8 0h0m10.5 0h0m12.5 0h0m-98.5 0.5h0m65.5 0h0m34 0h0m0 0h0m-34 0.5h0m12.5 0h0m19.5 0h0m8.5 0h0m-33.5 0.5h0m6 0h0m16.5 0h0m-43.5 0.5h0m44.5 0h0m0 0h0m1 0h0m3.5 0h0m-30 0.5h0m31 0h0m5.5 0h0m-81.5 0.5h0m10.5 0h0m14.5 0h0m47.5 0h0m0.5 0h0m3.5 0h0m3 0h0m-42.5 0.5h0m5.5 0h0m6 0h0m3.5 0h0m3.5 0h0m3 0h0m1.5 0h0m14.5 0h0m1.5 0h0m9 0h0m-42 0.5h0m14 0h0m-28 0.5h0m25 0h0m3.5 0.5h0m17.5 0h0m-33 0.5h0m25.5 0h0m0 0h0m4 0h0m3 0h0m8.5 0h0m-36.5 0.5h0m24 0h0m-103 0.5h0m91.5 0h0m15.5 0h0m-35.5 0.5h0m14.5 0h0m15.5 0h0m3.5 0h0m2 0.5h0m-13 1h0m15.5 0h0m-65.5 0.5h0m69 0h0m0 0h0m-22 0.5h0m5 0h0m9 0h0m11.5 0h0m-64 0.5h0m29 0h0m5 0h0m1.5 0h0m5.5 0h0m3.5 0h0m1.5 0h0m14.5 0h0m2 0h0m-44.5 0.5h0m14.5 0h0m27 0h0m-24.5 0.5h0m1.5 0h0m21.5 0h0m7 0h0m-65 0.5h0m12 0h0m11 0h0m1.5 0h0m3 0h0m11 0.5h0m8 0h0m2 0h0m6 0h0m5 0h0m-58.5 0.5h0m32 0h0m22 0h0m4 0h0m4.5 0h0m-26 0.5h0m12 0h0m8 0h0m6.5 0h0m0.5 0h0m-70.5 0.5h0m34.5 0h0m20 0h0m5.5 0h0m2 0h0m7 0h0m1 0h0m-55.5 0.5h0m41.5 0h0m1 0h0m10.5 0h0m0.5 0h0m-41.5 0.5h0m-7.5 0.5h0m2 0h0m34.5 0h0m6 0h0m8 0h0m-19.5 0.5h0m6 0h0m14 0h0m-27 0.5h0m2.5 0h0m1 0h0m7 0h0m-11.5 0.5h0m16 0h0m2 0h0m1.5 0h0m10.5 0h0m-91 0.5h0m54 0h0m21 0h0m12 0h0m0 0h0m-74 0.5h0m3 0h0m46 0h0m13 0h0m1 0h0m15.5 0h0m-18 0.5h0m19.5 0h0m-23.5 0.5h0m14.5 0h0m1.5 0h0m1 0h0m-36.5 0.5h0m6.5 0h0m1 0h0m15 0h0m4 0h0m6.5 0h0m2.5 0h0m2.5 0h0m2 0h0m0.5 0h0m-52 0.5h0m1 0h0m14.5 0h0m5.5 0h0m18 0h0m11 0h0m-41 0.5h0m31.5 0h0m0 0h0m11.5 0h0m-23.5 0.5h0m6.5 0h0m4 0h0m0.5 0h0m-33.5 0.5h0m48.5 0h0m-28 0.5h0m4 0h0m12.5 0h0m4.5 0h0m3.5 0h0m2 0h0m-48 0.5h0m20 0h0m12 0h0m9 0.5h0m8 0h0m0.5 0h0m-42 0.5h0m9.5 0h0m16 0h0m7.5 0h0m2 0h0m4.5 0h0m-53 0.5h0m41 0h0m2 0h0m11 0h0m-75.5 0.5h0m39 0h0m0 0h0m21 0h0m3.5 0h0m6.5 0h0m-67.5 0.5h0m54 0h0m5.5 0h0m9 0h0m-13 0.5h0m2 0h0m-20.5 0.5h0m14 0h0m16.5 0h0m2.5 0h0m-52.5 0.5h0m47.5 0h0m3.5 0h0m2 0h0m-163 0.5h0m113.5 0h0m41.5 0h0m2 0h0m2 0h0m-32 0.5h0m10.5 0h0m2 0h0m20 0h0m-58.5 0.5h0m23 0h0m24.5 0h0m13.5 0h0m-30 0.5h0m17 0h0m12 0h0m4.5 0h0m-31.5 0.5h0m8.5 0h0m21.5 0h0m-62 0.5h0m50.5 0h0m2 0h0m0 0h0m5.5 0h0m8.5 0h0m-80.5 0.5h0m48.5 0h0m7 0h0m2 0h0m11.5 0h0m-26 0.5h0m25 0h0m-24.5 0.5h0m4 0h0m9.5 0h0m2.5 0h0m9.5 0h0m-17.5 0.5h0m1 0h0m12.5 0h0m-75.5 0.5h0m59 0h0m16 0h0m14.5 0h0m-36.5 0.5h0m14.5 0h0m12.5 0h0m1.5 0h0m1.5 0h0m-78.5 0.5h0m44 0h0m17.5 0h0m1 0h0m18.5 0h0m1.5 0h0m-17 0.5h0m8.5 0.5h0m2 0h0m11 0h0m0.5 0h0m-112.5 0.5h0m36.5 0h0m32.5 0h0m4 0h0m34.5 0h0m0.5 0h0m-62.5 0.5h0m20.5 0h0m2.5 0h0m20 0h0m11 0h0m7 0h0m3 0h0m3 0h0m-34 0.5h0m3.5 0h0m6.5 0h0m19 0h0m3 0h0m2 0h0m-43 0.5h0m4 0h0m1.5 0h0m16 0h0m20 0h0m-51.5 0.5h0m5.5 0h0m3 0h0m2 0h0m5 0h0m9 0h0m9 0h0m3.5 0h0m7.5 0h0m1.5 0h0m-36 0.5h0m1.5 0h0m9.5 0h0m12 0h0m10 0h0m1 0h0m-26.5 0.5h0m0.5 0h0m10 0h0m4.5 0h0m4.5 0h0m1.5 0h0m5.5 0h0m2 0h0m-59 0.5h0m22.5 0h0m9 0h0m1 0h0m26 0h0m8 0h0m-76 0.5h0m7.5 0h0m11.5 0h0m17.5 0h0m10.5 0h0m8 0h0m7 0h0m0.5 0h0m-57.5 0.5h0m0.5 0h0m27.5 0h0m8.5 0h0m21.5 0h0m2 0h0m-38.5 0.5h0m31 0h0m1.5 0h0m0.5 0h0m2 0h0m0 0h0m0.5 0h0m-71.5 0.5h0m29.5 0h0m36.5 0h0m1.5 0h0m3.5 0h0m9 0h0m-33.5 0.5h0m1.5 0h0m11 0h0m10.5 0h0m1 0h0m1.5 0h0m0.5 0h0m10.5 0h0m-78.5 0.5h0m13.5 0h0m29.5 0h0m5 0h0m8 0h0m0 0h0m13.5 0h0m8.5 0h0m1.5 0h0m-60 0.5h0m12.5 0h0m13.5 0h0m1.5 0h0m20 0h0m13.5 0h0m-32.5 0.5h0m3.5 0h0m9 0h0m2.5 0h0m0.5 0h0m8.5 0h0m0 0h0m0.5 0h0m1.5 0h0m2.5 0h0m-10.5 0.5h0m14 0h0m-102 0.5h0m71 0h0m8 0h0m5 0h0m1 0h0m10 0h0m0 0h0m-42.5 0.5h0m9.5 0h0m16.5 0h0m0 0h0m3 0h0m3.5 0h0m0 0h0m11.5 0h0m0.5 0h0m-91 0.5h0m48.5 0h0m11.5 0h0m12.5 0h0m9.5 0h0m0 0h0m-16.5 0.5h0m2 0h0m2 0h0m8 0h0m5.5 0h0m-54 0.5h0m19 0h0m25.5 0h0m0.5 0h0m5.5 0h0m1.5 0h0m11 0h0m-67 0.5h0m3 0h0m33.5 0h0m13.5 0h0m8.5 0h0m4.5 0h0m0.5 0h0m1.5 0h0m4 0h0m-61 0.5h0m30 0h0m14.5 0h0m14.5 0h0m0.5 0h0m1 0h0m-26 0.5h0m5 0h0m0.5 0h0m-10 0.5h0m14 0h0m1.5 0h0m4 0h0m2.5 0h0m3.5 0h0m1 0h0m-12 0.5h0m7.5 0h0m6.5 0h0m4.5 0h0m-13 0.5h0m0.5 0h0m4 0h0m-28 0.5h0m20.5 0h0m11 0h0m-58.5 0.5h0m48 0h0m10.5 0h0m1 0h0m-85 0.5h0m57.5 0h0m4.5 0h0m2.5 0h0m9.5 0h0m11.5 0h0m-98 0.5h0m52 0h0m0 0h0m18.5 0h0m14.5 0h0m0.5 0h0m4.5 0h0m10 0h0m-40 0.5h0m15 0h0m4.5 0h0m0.5 0h0m3.5 0h0m4 0h0m4 0h0m8 0h0m-48.5 0.5h0m7 0h0m14 0h0m10 0h0m3 0h0m0.5 0h0m12 0h0m2.5 0h0m3.5 0h0m-44.5 0.5h0m1.5 0h0m14.5 0h0m4.5 0h0m5 0h0m0.5 0h0m4.5 0h0m2.5 0h0m-3 0.5h0m1 0h0m6 0h0m0.5 0h0m-49 0.5h0m15 0h0m25 0h0m10 0h0m1 0h0m-38.5 0.5h0m33 0h0m1.5 0h0m2 0h0m1.5 0h0m0 0h0m3 0h0m-59.5 0.5h0m20.5 0h0m10 0h0m16 0h0m6.5 0h0m-60.5 0.5h0m31 0h0m20.5 0h0m7.5 0h0m-47.5 0.5h0m10 0h0m7.5 0h0m9.5 0h0m-50 0.5h0m53 0h0m9 0h0m3.5 0h0m0.5 0h0m5.5 0h0m7 0h0m-34.5 0.5h0m4 0h0m25.5 0h0m2.5 0h0m0 0h0m3 0h0m-29 0.5h0m4.5 0h0m-46.5 0.5h0m33.5 0h0m10 0h0m5.5 0h0m1.5 0h0m8.5 0h0m9 0h0m1 0h0m-52 0.5h0m17.5 0h0m7.5 0h0m2.5 0h0m2.5 0h0m6.5 0h0m1.5 0h0m0.5 0h0m4.5 0h0m3 0h0m4.5 0h0m-22.5 0.5h0m2 0h0m-52.5 0.5h0m20 0h0m10 0h0m0.5 0h0m32.5 0h0m0.5 0h0m0.5 0h0m0 0h0m7.5 0h0m-29 0.5h0m8.5 0h0m0.5 0h0m0 0.5h0m2 0h0m4.5 0h0m0 0h0m16 0h0m4 0h0m0.5 0h0m0.5 0h0m-49.5 0.5h0m7.5 0h0m18 0h0m16 0h0m-98.5 0.5h0m16 0h0m25.5 0h0m9 0h0m10.5 0h0m7 0h0m6.5 0h0m26 0h0m4 0h0m-44.5 0.5h0m29.5 0h0m8 0h0m1.5 0h0m5.5 0h0m-53 0.5h0m1.5 0h0m15 0h0m2.5 0h0m2.5 0h0m14 0h0m6 0h0m1 0h0m0.5 0h0m-62.5 0.5h0m32 0h0m18.5 0h0m10.5 0h0m1 0h0m0.5 0h0m2.5 0h0m1 0h0m7 0h0m-49 0.5h0m11.5 0h0m22 0h0m13.5 0h0m-82.5 0.5h0m30.5 0h0m30 0h0m3.5 0h0m14 0h0m7 0h0m-82.5 0.5h0m19 0h0m26.5 0h0m11 0h0m6.5 0h0m7 0h0m1.5 0h0m2 0h0m7 0h0m3.5 0h0m-60 0.5h0m15.5 0h0m6 0h0m20 0h0m2.5 0h0m3.5 0h0m-27 0.5h0m15 0h0m0.5 0h0m6 0h0m4 0h0m5.5 0h0m2.5 0h0m6.5 0h0m-76.5 0.5h0m28.5 0h0m19.5 0h0m0 0h0m2.5 0h0m2.5 0h0m0.5 0h0m3.5 0h0m0 0h0m2.5 0h0m4.5 0h0m0.5 0h0m4 0h0m3.5 0h0m3.5 0h0m-66.5 0.5h0m9 0h0m22.5 0h0m13.5 0h0m6.5 0h0m0 0h0m1 0h0m6.5 0h0m7 0h0m-34.5 0.5h0m1 0h0m13.5 0h0m1 0h0m12 0h0m7 0h0m0.5 0h0m-28.5 0.5h0m0.5 0h0m3.5 0h0m5.5 0h0m2 0h0m8.5 0h0m2 0h0m1 0h0m2 0h0m1.5 0h0m-121.5 0.5h0m78 0h0m18 0h0m1 0h0m10 0h0m10 0h0m4.5 0h0m0 0h0m-32.5 0.5h0m1 0h0m9.5 0h0m12.5 0h0m0.5 0h0m0.5 0h0m-26 0.5h0m4.5 0h0m10.5 0h0m-38 0.5h0m12.5 0h0m3 0h0m19 0h0m2.5 0h0m3 0h0m10 0h0m3.5 0h0m3.5 0h0m-100 0.5h0m4 0h0m26 0h0m41.5 0h0m3 0h0m1.5 0h0m4.5 0h0m3 0h0m1.5 0h0m1 0h0m0.5 0h0m11 0h0m1.5 0h0m-66.5 0.5h0m15 0h0m30.5 0h0m6.5 0h0m12 0h0m-96.5 0.5h0m38 0h0m56 0h0m6 0h0m-104.5 0.5h0m71.5 0h0m15.5 0h0m5.5 0h0m7 0h0m0 0h0m4.5 0h0m-40 0.5h0m11.5 0h0m1.5 0h0m4 0h0m4 0h0m0 0h0m14 0h0m0 0h0m-48.5 0.5h0m24.5 0h0m21 0h0m0.5 0h0m0.5 0h0m1 0h0m2 0h0m-68 0.5h0m17 0h0m21.5 0h0m4 0h0m6.5 0h0m11 0h0m2.5 0h0m1.5 0h0m-33.5 0.5h0m12 0h0m3 0h0m0.5 0h0m13 0h0m4.5 0h0m3.5 0h0m0 0h0m6 0h0m-51.5 0.5h0m48.5 0h0m-89.5 0.5h0m7 0h0m27 0h0m36.5 0h0m7 0h0m1.5 0h0m0.5 0h0m2.5 0h0m0 0h0m0.5 0h0m2.5 0h0m4.5 0h0m1.5 0h0m1.5 0h0m-34 0.5h0m17 0h0m5 0h0m1 0h0m8.5 0h0m0 0h0m3.5 0h0m-90.5 0.5h0m40 0h0m25 0h0m3 0h0m23 0h0m-63.5 0.5h0m8 0h0m18.5 0h0m3.5 0h0m0 0h0m2 0h0m3 0h0m9.5 0h0m4 0h0m0.5 0h0m8.5 0h0m-28.5 0.5h0m8.5 0h0m1.5 0h0m15.5 0h0m7 0h0m0 0h0m-69.5 0.5h0m29 0h0m0.5 0h0m5.5 0h0m4 0h0m3.5 0h0m2.5 0h0m11.5 0h0m1.5 0h0m1.5 0h0m2 0h0m2 0h0m1.5 0h0m0.5 0h0m4.5 0h0m3 0h0m-76.5 0.5h0m28.5 0h0m0.5 0h0m8 0h0m19.5 0h0m0.5 0h0m3 0h0m3 0h0m2 0h0m1 0h0m0 0h0m4 0h0m0 0h0m1 0h0m3.5 0h0m-25.5 0.5h0m11.5 0h0m1 0h0m0.5 0h0m11 0h0m-53.5 0.5h0m17.5 0h0m0.5 0h0m5 0h0m10.5 0h0m6.5 0h0m2 0h0m4 0h0m-34.5 0.5h0m9.5 0h0m3 0h0m1.5 0h0m2 0h0m7.5 0h0m6 0h0m5.5 0h0m5.5 0h0m-18.5 0.5h0m1 0h0m1 0h0m1.5 0h0m3.5 0h0m3.5 0h0m-22.5 0.5h0m18.5 0h0m5 0h0m5.5 0h0m-54.5 0.5h0m34.5 0h0m2.5 0h0m1.5 0h0m10.5 0h0m3.5 0h0m2.5 0h0m2.5 0h0m0.5 0h0m-56 0.5h0m12.5 0h0m9.5 0h0m1.5 0h0m16.5 0h0m5.5 0h0m2 0h0m1 0h0m4 0h0m0.5 0h0m6 0h0m-67.5 0.5h0m18 0h0m0 0h0m3 0h0m20 0h0m0 0h0m5 0h0m1.5 0h0m10.5 0h0m1.5 0h0m3 0h0m-10 0.5h0m5.5 0h0m5 0h0m-53 0.5h0m16.5 0h0m7 0h0m15.5 0h0m9 0h0m2 0h0m5.5 0h0m-41.5 0.5h0m23 0h0m2.5 0h0m11.5 0h0m2.5 0h0m2.5 0h0m-42.5 0.5h0m10 0h0m2.5 0h0m0 0h0m1.5 0h0m12 0h0m1.5 0h0m6.5 0h0m2 0h0m2 0h0m1 0h0m-33 0.5h0m2.5 0h0m10 0h0m3 0h0m3 0h0m7 0h0m11 0h0m1.5 0h0m-49.5 0.5h0m21.5 0h0m9 0h0m5.5 0h0m0.5 0h0m1.5 0h0m2 0h0m1 0h0m1 0h0m2 0h0m1.5 0h0m2.5 0h0m1.5 0h0m-54 0.5h0m7 0h0m21.5 0h0m5 0h0m4.5 0h0m13 0h0m-95.5 0.5h0m52 0h0m2.5 0h0m26 0h0m1 0h0m10.5 0h0m6 0h0m-42 0.5h0m2 0h0m9 0h0m7.5 0h0m4 0h0m0.5 0h0m6.5 0h0m5.5 0h0m6 0h0m-44.5 0.5h0m11.5 0h0m1.5 0h0m1 0h0m8.5 0h0m3 0h0m13 0h0m7.5 0h0m-63 0.5h0m7.5 0h0m5.5 0h0m3 0h0m4.5 0h0m4 0h0m1.5 0h0m13.5 0h0m7 0h0m6.5 0h0m6 0h0m3 0h0m-46 0.5h0m13 0h0m7.5 0h0m5.5 0h0m1.5 0h0m0.5 0h0m3.5 0h0m5.5 0h0m2 0h0m4.5 0h0m-64 0.5h0m18 0h0m3 0h0m11 0h0m10 0h0m13 0h0m3 0h0m2.5 0h0m6 0h0m-41.5 0.5h0m20 0h0m7.5 0h0m3.5 0h0m3 0h0m0.5 0h0m-45.5 0.5h0m18.5 0h0m9.5 0h0m2.5 0h0m2.5 0h0m14.5 0h0m3 0h0m2 0h0m-31.5 0.5h0m7.5 0h0m3 0h0m2 0h0m17.5 0h0m-61 0.5h0m25.5 0h0m7.5 0h0m1 0h0m9 0h0m5.5 0h0m4.5 0h0m-65 0.5h0m19.5 0h0m1.5 0h0m20 0h0m7 0h0m7 0h0m7 0h0m2.5 0h0m3.5 0h0m-33 0.5h0m13 0h0m5.5 0h0m4 0h0m4 0h0m4 0h0m1.5 0h0m3 0h0m5.5 0h0m-52 0.5h0m21 0h0m1 0h0m4 0h0m3 0h0m8.5 0h0m2.5 0h0m3 0h0m-61.5 0.5h0m31 0h0m2 0h0m0.5 0h0m3.5 0h0m6 0h0m7.5 0h0m5 0h0m2.5 0h0m0 0h0m-39.5 0.5h0m7 0h0m4 0h0m1 0h0m2.5 0h0m1.5 0h0m5 0h0m1.5 0h0m1 0h0m8 0h0m1.5 0h0m7 0h0m12.5 0h0m0 0h0m-105.5 0.5h0m66 0h0m3.5 0h0m1 0h0m7.5 0h0m12 0h0m5 0h0m6 0h0m3 0h0m2 0h0m-48.5 0.5h0m5.5 0h0m34 0h0m3.5 0h0m-85.5 0.5h0m25 0h0m14.5 0h0m10 0h0m36 0h0m0.5 0h0m3 0h0m0 0h0m-30.5 0.5h0m5.5 0h0m3.5 0h0m12 0h0m5 0h0m-64.5 0.5h0m24 0h0m9 0h0m4 0h0m0 0h0m8 0h0m8.5 0h0m0.5 0h0m0 0h0m2.5 0h0m3 0h0m-28.5 0.5h0m6.5 0h0m4 0h0m1 0h0m0 0h0m4 0h0m0 0h0m0.5 0h0m3.5 0h0m2 0h0m7.5 0h0m0.5 0h0m2.5 0h0m5 0h0m-72 0.5h0m32 0h0m21.5 0h0m4 0h0m4 0h0m2.5 0h0m4 0h0m-41.5 0.5h0m2.5 0h0m6 0h0m2 0h0m5.5 0h0m3 0h0m5 0h0m1.5 0h0m4 0h0m5.5 0h0m6 0h0m1.5 0h0m1.5 0h0m-52.5 0.5h0m1 0h0m12 0h0m18.5 0h0m1 0h0m1.5 0h0m2 0h0m1.5 0h0m0.5 0h0m3.5 0h0m1 0h0m2 0h0m3.5 0h0m0 0h0m4 0h0m-39.5 0.5h0m7 0h0m2.5 0h0m2 0h0m8.5 0h0m7.5 0h0m0 0h0m4.5 0h0m0.5 0h0m1.5 0h0m0.5 0h0m3 0h0m6 0h0m-62.5 0.5h0m39 0h0m0.5 0h0m1 0h0m7 0h0m-31.5 0.5h0m4 0h0m9.5 0h0m5 0h0m1.5 0h0m14 0h0m1 0h0m3 0h0m0.5 0h0m2.5 0h0m1.5 0h0m0.5 0h0m2.5 0h0m2.5 0h0m-75 0.5h0m25.5 0h0m2 0h0m5 0h0m15.5 0h0m2 0h0m2.5 0h0m0.5 0h0m8 0h0m2 0h0m1.5 0h0m5.5 0h0m0 0h0m1.5 0h0m-46 0.5h0m19.5 0h0m5 0h0m2.5 0h0m5.5 0h0m0.5 0h0m5 0h0m1 0h0m5.5 0h0m1.5 0h0m1 0h0m-57 0.5h0m6 0h0m13 0h0m1 0h0m5.5 0h0m4 0h0m5.5 0h0m2 0h0m5.5 0h0m1 0h0m7.5 0h0m0 0h0m4.5 0h0m-50 0.5h0m4.5 0h0m19 0h0m13 0h0m14 0h0m-50.5 0.5h0m9.5 0h0m7.5 0h0m3.5 0h0m9 0h0m2 0h0m2.5 0h0m2.5 0h0m4.5 0h0m0.5 0h0m2 0h0m3 0h0m2.5 0h0m-19.5 0.5h0m1 0h0m1 0h0m18 0h0m-81.5 0.5h0m29 0h0m14.5 0h0m6.5 0h0m6.5 0h0m9.5 0h0m0 0h0m4.5 0h0m1.5 0h0m0.5 0h0m0.5 0h0m0 0h0m5.5 0h0m-128.5 0.5h0m75 0h0m13 0h0m7.5 0h0m6.5 0h0m5.5 0h0m3.5 0h0m10 0h0m4 0h0m4.5 0h0m5.5 0h0m-53.5 0.5h0m7 0h0m2 0h0m15.5 0h0m2 0h0m1 0h0m4 0h0m2 0h0m5 0h0m0.5 0h0m9 0h0m1 0h0m-47.5 0.5h0m20 0h0m0.5 0h0m3 0h0m10 0h0m1.5 0h0m13 0h0m-50 0.5h0m4 0h0m13 0h0m8.5 0h0m1.5 0h0m1.5 0h0m10 0h0m2.5 0h0m4 0h0m-55 0.5h0m28.5 0h0m11.5 0h0m14.5 0h0m1 0h0m1 0h0m3 0h0m-58.5 0.5h0m9 0h0m2 0h0m9 0h0m0 0h0m19 0h0m1 0h0m11.5 0h0m0.5 0h0m4 0h0m1 0h0m3 0h0m-95 0.5h0m12.5 0h0m29 0h0m11 0h0m11.5 0h0m8 0h0m3 0h0m2 0h0m6 0h0m1 0h0m4.5 0h0m0.5 0h0m4.5 0h0m1 0h0m-46.5 0.5h0m35 0h0m2.5 0h0m2.5 0h0m1 0h0m0.5 0h0m2 0h0m2 0h0m2.5 0h0m-50 0.5h0m0.5 0h0m6.5 0h0m0 0h0m5.5 0h0m2.5 0h0m6 0h0m2.5 0h0m1.5 0h0m15.5 0h0m0 0h0m2 0h0m3.5 0h0m5.5 0h0m-65 0.5h0m3 0h0m6.5 0h0m15.5 0h0m22.5 0h0m5.5 0h0m5.5 0h0m-21 0.5h0m0.5 0h0m8.5 0h0m3 0h0m1 0h0m1 0h0m7.5 0h0m0.5 0h0m3 0h0m0.5 0h0m1 0h0m-116 0.5h0m41.5 0h0m28 0h0m19 0h0m2.5 0h0m13.5 0h0m1 0h0m0.5 0h0m2 0h0m6.5 0h0m4.5 0h0m-86.5 0.5h0m9.5 0h0m5 0h0m4 0h0m21 0h0m8.5 0h0m7.5 0h0m2.5 0h0m19 0h0m0.5 0h0m3.5 0h0m-43.5 0.5h0m24 0h0m7 0h0m1 0h0m2.5 0h0m1.5 0h0m7 0h0m1 0h0m-56 0.5h0m27 0h0m0.5 0h0m0.5 0h0m2 0h0m7 0h0m7 0h0m1.5 0h0m2.5 0h0m0.5 0h0m1 0h0m1 0h0m2 0h0m-42 0.5h0m11.5 0h0m7 0h0m4.5 0h0m1 0h0m6.5 0h0m1.5 0h0m1.5 0h0m0.5 0h0m1.5 0h0m4.5 0h0m-33 0.5h0m2.5 0h0m2 0h0m1.5 0h0m5.5 0h0m1 0h0m9 0h0m6 0h0m3 0h0m5.5 0h0m2.5 0h0m-75.5 0.5h0m2.5 0h0m20.5 0h0m5 0h0m21 0h0m12.5 0h0m1.5 0h0m15.5 0h0m1.5 0h0m-41 0.5h0m7 0h0m6.5 0h0m5 0h0m2.5 0h0m3 0h0m2.5 0h0m0.5 0h0m3 0h0m1.5 0h0m1.5 0h0m-169 0.5h0m123.5 0h0m8 0h0m8.5 0h0m9 0h0m2 0h0m0.5 0h0m1.5 0h0m8 0h0m7 0h0m4.5 0h0m-52 0.5h0m6.5 0h0m6.5 0h0m4.5 0h0m12.5 0h0m0.5 0h0m5 0h0m3 0h0m3.5 0h0m2 0h0m0 0h0m0.5 0h0m1 0h0m-16.5 0.5h0m5.5 0h0m1.5 0h0m3 0h0m2.5 0h0m0 0h0m0.5 0h0m5.5 0h0m2 0h0m2 0h0m1.5 0h0m1.5 0h0m1.5 0h0m0 0h0m-68.5 0.5h0m38 0h0m4 0h0m5.5 0h0m1.5 0h0m4 0h0m8 0h0m1 0h0m0.5 0h0m1 0h0m3 0h0m-199 0.5h0m137.5 0h0m8.5 0h0m0.5 0h0m16.5 0h0m8.5 0h0m5 0h0m1 0h0m2.5 0h0m4 0h0m4 0h0m4 0h0m1.5 0h0m1 0h0m0.5 0h0m0 0h0m2.5 0h0m0.5 0h0m-58 0.5h0m13.5 0h0m4 0h0m1 0h0m7.5 0h0m5 0h0m14 0h0m1 0h0m12 0h0m2 0h0m-81.5 0.5h0m41 0h0m1.5 0h0m6 0h0m11.5 0h0m1.5 0h0m3 0h0m2.5 0h0m2 0h0m2.5 0h0m7.5 0h0m0 0h0m-51 0.5h0m6 0h0m13.5 0h0m4 0h0m1 0h0m2.5 0h0m0.5 0h0m7 0h0m4 0h0m0.5 0h0m4 0h0m1 0h0m0 0h0m2 0h0m0.5 0h0m0 0h0m1 0h0m1 0h0m-23.5 0.5h0m1 0h0m4 0h0m0.5 0h0m2.5 0h0m0.5 0h0m0.5 0h0m3 0h0m1.5 0h0m6.5 0h0m0.5 0h0m0 0h0m1 0h0m2 0h0m3 0h0m0.5 0h0m-40 0.5h0m1.5 0h0m19.5 0h0m1.5 0h0m5 0h0m4 0h0m0.5 0h0m6.5 0h0m-47.5 0.5h0m21.5 0h0m5.5 0h0m1.5 0h0m6 0h0m4 0h0m8 0h0m1.5 0h0m2 0h0m-64.5 0.5h0m8.5 0h0m16 0h0m1 0h0m13.5 0h0m8 0h0m1 0h0m0.5 0h0m9.5 0h0m6.5 0h0m2 0h0m-67.5 0.5h0m7 0h0m19 0h0m8.5 0h0m9 0h0m6 0h0m0 0h0m1.5 0h0m1 0h0m0.5 0h0m1.5 0h0m6.5 0h0m3 0h0m5 0h0m-67 0.5h0m0 0h0m16.5 0h0m14 0h0m10 0h0m0.5 0h0m3.5 0h0m1 0h0m4 0h0m0.5 0h0m2 0h0m7 0h0m1 0h0m4.5 0h0m-62 0.5h0m20 0h0m7.5 0h0m1.5 0h0m9.5 0h0m3 0h0m3.5 0h0m0 0h0m5 0h0m1.5 0h0m2 0h0m5 0h0m-70.5 0.5h0m24.5 0h0m12.5 0h0m1.5 0h0m9 0h0m6.5 0h0m0.5 0h0m2.5 0h0m0 0h0m8.5 0h0m1.5 0h0m2.5 0h0m0.5 0h0m1 0h0m1.5 0h0m2.5 0h0m-63.5 0.5h0m4 0h0m37 0h0m5.5 0h0m6.5 0h0m1 0h0m2 0h0m0 0h0m1 0h0m0.5 0h0m-73.5 0.5h0m23.5 0h0m9 0h0m4.5 0h0m19.5 0h0m0 0h0m2.5 0h0m5 0h0m1 0h0m0.5 0h0m2.5 0h0m0.5 0h0m5.5 0h0m3 0h0m-41.5 0.5h0m20 0h0m5.5 0h0m4 0h0m2 0h0m0 0h0m0.5 0h0m2.5 0h0m1 0h0m0.5 0h0m1 0h0m6.5 0h0m-144 0.5h0m70.5 0h0m38 0h0m5.5 0h0m5.5 0h0m1.5 0h0m14.5 0h0m2.5 0h0m1 0h0m1.5 0h0m0 0h0m-92 0.5h0m62 0h0m7.5 0h0m2 0h0m2 0h0m5.5 0h0m1 0h0m1.5 0h0m1 0h0m3 0h0m2 0h0m2 0h0m2.5 0h0m1 0h0m0.5 0h0m0 0h0m-31 0.5h0m4.5 0h0m1 0h0m1.5 0h0m11.5 0h0m5 0h0m6.5 0h0m1 0h0m-35 0.5h0m13.5 0h0m5 0h0m4.5 0h0m6 0h0m3 0h0m-52 0.5h0m14 0h0m2.5 0h0m3.5 0h0m3 0h0m10 0h0m2.5 0h0m7.5 0h0m2 0h0m8.5 0h0m0.5 0h0m0.5 0h0m-42 0.5h0m12.5 0h0m4.5 0h0m4.5 0h0m3 0h0m2 0h0m9 0h0m0 0h0m4 0h0m1 0h0m5 0h0m-44.5 0.5h0m9 0h0m4.5 0h0m12 0h0m2.5 0h0m4.5 0h0m2.5 0h0m2 0h0m0.5 0h0m1.5 0h0m0 0h0m2 0h0m1.5 0h0m1.5 0h0m-47 0.5h0m10 0h0m9 0h0m6 0h0m1.5 0h0m0.5 0h0m4.5 0h0m6 0h0m4.5 0h0m0.5 0h0m-100.5 0.5h0m51 0h0m4 0h0m28.5 0h0m8.5 0h0m8 0h0m4.5 0h0m-37 0.5h0m5.5 0h0m6.5 0h0m3.5 0h0m1.5 0h0m3 0h0m5 0h0m4 0h0m-66.5 0.5h0m12.5 0h0m10.5 0h0m8.5 0h0m3 0h0m7 0h0m0.5 0h0m0 0h0m15.5 0h0m1.5 0h0m9 0h0m1.5 0h0m3.5 0h0m3 0h0m-50 0.5h0m0 0h0m0.5 0h0m4.5 0h0m0 0h0m1.5 0h0m1 0h0m0.5 0h0m8 0h0m2.5 0h0m20.5 0h0m1.5 0h0m0.5 0h0m3 0h0m4 0h0m-80.5 0.5h0m13.5 0h0m11.5 0h0m31.5 0h0m4.5 0h0m6.5 0h0m4 0h0m1.5 0h0m2 0h0m1 0h0m3 0h0m0 0h0m3 0h0m-102 0.5h0m49.5 0h0m6.5 0h0m4 0h0m8 0h0m14 0h0m0.5 0h0m5.5 0h0m0.5 0h0m2.5 0h0m2 0h0m1 0h0m1.5 0h0m2 0h0m1.5 0h0m2.5 0h0m-68 0.5h0m18 0h0m3 0h0m19 0h0m6.5 0h0m2 0h0m3.5 0h0m3 0h0m2.5 0h0m0.5 0h0m1.5 0h0m3.5 0h0m0 0h0m3.5 0h0m0 0h0m2.5 0h0m-26 0.5h0m0.5 0h0m0.5 0h0m5 0h0m0.5 0h0m5.5 0h0m1.5 0h0m3.5 0h0m0.5 0h0m2.5 0h0m1 0h0m1 0h0m1 0h0m1.5 0h0m1.5 0h0m-110.5 0.5h0m56 0h0m17 0h0m8.5 0h0m9.5 0h0m0.5 0h0m3.5 0h0m2 0h0m8.5 0h0m0 0h0m5 0h0m-56 0.5h0m9.5 0h0m3 0h0m1 0h0m1 0h0m6.5 0h0m4.5 0h0m2.5 0h0m3 0h0m5 0h0m2 0h0m4 0h0m2 0h0m2 0h0m4 0h0m-58.5 0.5h0m11 0h0m1 0h0m17 0h0m3.5 0h0m0.5 0h0m16.5 0h0m1 0h0m3.5 0h0m0.5 0h0m3 0h0m2.5 0h0m-42.5 0.5h0m3.5 0h0m1 0h0m10 0h0m5.5 0h0m5 0h0m1.5 0h0m3.5 0h0m2.5 0h0m0 0h0m-50 0.5h0m11.5 0h0m4.5 0h0m7.5 0h0m1 0h0m13.5 0h0m8.5 0h0m1.5 0h0m0.5 0h0m4 0h0m2 0h0m0 0h0m3.5 0h0m0.5 0h0m1 0h0m2.5 0h0m-39.5 0.5h0m13.5 0h0m9.5 0h0m2.5 0h0m3.5 0h0m1 0h0m0.5 0h0m4 0h0m1.5 0h0m4.5 0h0m1.5 0h0m-101 0.5h0m48.5 0h0m6.5 0h0m4 0h0m1 0h0m12 0h0m9.5 0h0m13.5 0h0m3.5 0h0m-63 0.5h0m4.5 0h0m17.5 0h0m17.5 0h0m1.5 0h0m11 0h0m1.5 0h0m0.5 0h0m0 0h0m6 0h0m0 0h0m-55.5 0.5h0m15 0h0m30.5 0h0m2 0h0m0.5 0h0m1.5 0h0m5 0h0m1.5 0h0m-90 0.5h0m22 0h0m8.5 0h0m2.5 0h0m20.5 0h0m9 0h0m5 0h0m5 0h0m2 0h0m2 0h0m0 0h0m3.5 0h0m1.5 0h0m1.5 0h0m1.5 0h0m1 0h0m3 0h0m1.5 0h0m4.5 0h0m-53 0.5h0m13.5 0h0m10 0h0m1 0h0m10.5 0h0m1 0h0m8 0h0m3 0h0m5 0h0m0 0h0m2 0h0m-146 0.5h0m47.5 0h0m52.5 0h0m2 0h0m0.5 0h0m19 0h0m0.5 0h0m0 0h0m16 0h0m0.5 0h0m2.5 0h0m-44 0.5h0m0 0h0m5.5 0h0m6 0h0m11 0h0m2 0h0m5 0h0m0.5 0h0m0.5 0h0m0.5 0h0m1 0h0m1 0h0m1 0h0m1.5 0h0m2 0h0m0.5 0h0m0 0h0m2.5 0h0m3.5 0h0m-30 0.5h0m2.5 0h0m2 0h0m9.5 0h0m4 0h0m1 0h0m0.5 0h0m0.5 0h0m1 0h0m2.5 0h0m9 0h0m-52.5 0.5h0m4 0h0m3.5 0h0m1.5 0h0m11.5 0h0m0 0h0m1 0h0m1 0h0m5.5 0h0m2 0h0m0.5 0h0m0.5 0h0m7 0h0m1.5 0h0m1 0h0m0.5 0h0m0.5 0h0m0 0h0m2 0h0m10.5 0h0m0.5 0h0m-123.5 0.5h0m53 0h0m5 0h0m24 0h0m8 0h0m4.5 0h0m1 0h0m7 0h0m3.5 0h0m4 0h0m2.5 0h0m0 0h0m7.5 0h0m-47 0.5h0m5.5 0h0m0.5 0h0m5.5 0h0m2 0h0m0 0h0m18 0h0m-50 0.5h0m31.5 0h0m5 0h0m3.5 0h0m1 0h0m1 0h0m2 0h0m0 0h0m3.5 0h0m10 0h0m0.5 0h0m1 0h0m1.5 0h0m2 0h0m0.5 0h0m2.5 0h0m-28 0.5h0m0 0h0m1 0h0m3.5 0h0m5.5 0h0m0 0h0m0.5 0h0m0.5 0h0m13.5 0h0m0 0h0m1 0h0m2 0h0m0.5 0h0m3 0h0m-64.5 0.5h0m5 0h0m12 0h0m21 0h0m5.5 0h0m1 0h0m1.5 0h0m0.5 0h0m1 0h0m3.5 0h0m2 0h0m3 0h0m0.5 0h0m2.5 0h0m-43.5 0.5h0m3 0h0m11.5 0h0m2 0h0m10 0h0m1.5 0h0m5.5 0h0m3 0h0m1.5 0h0m5 0h0m2.5 0h0m1 0h0m0.5 0h0m-33 0.5h0m1 0h0m3 0h0m1.5 0h0m0.5 0h0m9 0h0m5.5 0h0m3.5 0h0m1.5 0h0m3.5 0h0m0.5 0h0m0.5 0h0m1.5 0h0m3 0h0m0.5 0h0m-50 0.5h0m23 0h0m7 0h0m3 0h0m0.5 0h0m2 0h0m3.5 0h0m1.5 0h0m1.5 0h0m4.5 0h0m2.5 0h0m-61.5 0.5h0m14.5 0h0m13.5 0h0m0 0h0m1 0h0m7 0h0m8 0h0m5 0h0m2 0h0m9 0h0m-30.5 0.5h0m0 0h0m6 0h0m1.5 0h0m3.5 0h0m6 0h0m2.5 0h0m4.5 0h0m4 0h0m2.5 0h0m-61 0.5h0m10 0h0m9 0h0m7.5 0h0m1 0h0m6 0h0m6.5 0h0m14 0h0m1 0h0m2 0h0m-77 0.5h0m29.5 0h0m9 0h0m6 0h0m0.5 0h0m4 0h0m13 0h0m2 0h0m3.5 0h0m6 0h0m0.5 0h0m2.5 0h0m2 0h0m2.5 0h0m0.5 0h0m1 0h0m2.5 0h0m-108 0.5h0m59 0h0m12.5 0h0m3.5 0h0m0 0h0m1.5 0h0m3.5 0h0m0 0h0m1 0h0m3.5 0h0m4 0h0m1.5 0h0m0.5 0h0m0 0h0m2 0h0m2 0h0m8 0h0m-68 0.5h0m46 0h0m3 0h0m3.5 0h0m3 0h0m9 0h0m0 0h0m1.5 0h0m-45 0.5h0m5.5 0h0m5.5 0h0m6.5 0h0m7 0h0m1 0h0m2.5 0h0m1 0h0m0.5 0h0m5.5 0h0m7.5 0h0m2 0h0m6 0h0m0 0h0m-173.5 0.5h0m92 0h0m32 0h0m4 0h0m0 0h0m1 0h0m2 0h0m1 0h0m8.5 0h0m2.5 0h0m6 0h0m1.5 0h0m0.5 0h0m10 0h0m4.5 0h0m0.5 0h0m1.5 0h0m-50 0.5h0m26.5 0h0m0.5 0h0m5 0h0m0.5 0h0m2 0h0m3 0h0m6.5 0h0m4.5 0h0m4 0h0m5.5 0h0m-63.5 0.5h0m11.5 0h0m22 0h0m7.5 0h0m0.5 0h0m1.5 0h0m6 0h0m5.5 0h0m0.5 0h0m0 0h0m1 0h0m4.5 0h0m-77 0.5h0m13 0h0m37 0h0m0 0h0m1.5 0h0m7 0h0m1.5 0h0m4 0h0m7 0h0m2.5 0h0m-114.5 0.5h0m73.5 0h0m8 0h0m15 0h0m0.5 0h0m3.5 0h0m6.5 0h0m2 0h0m1 0h0m3 0h0m1 0h0m4 0h0m-69.5 0.5h0m31 0h0m1 0h0m9 0h0m5.5 0h0m4.5 0h0m1.5 0h0m4.5 0h0m1 0h0m2 0h0m1.5 0h0m0.5 0h0m4.5 0h0m6 0h0m-67.5 0.5h0m18 0h0m19 0h0m3.5 0h0m2 0h0m5 0h0m5 0h0m2 0h0m6 0h0m0 0h0m0.5 0h0m3.5 0h0m1 0h0m0 0h0m-108 0.5h0m37 0h0m25.5 0h0m5.5 0h0m19.5 0h0m3 0h0m1 0h0m10 0h0m1.5 0h0m6 0h0m-66.5 0.5h0m4.5 0h0m12 0h0m20.5 0h0m2.5 0h0m2.5 0h0m0.5 0h0m1.5 0h0m4.5 0h0m1.5 0h0m0.5 0h0m6 0h0m1 0h0m3 0h0m-64 0.5h0m42 0h0m10.5 0h0m0.5 0h0m2 0h0m8 0h0m-33.5 0.5h0m20 0h0m4.5 0h0m0.5 0h0m3 0h0m1 0h0m3 0h0m2.5 0h0m1 0h0m-38 0.5h0m9 0h0m7 0h0m5.5 0h0m4.5 0h0m0 0h0m2 0h0m5 0h0m3.5 0h0m-40.5 0.5h0m24.5 0h0m10 0h0m2 0h0m5 0h0m0.5 0h0m-54.5 0.5h0m23 0h0m0 0h0m7 0h0m6.5 0h0m11 0h0m1 0h0m1.5 0h0m0 0h0m5.5 0h0m-50 0.5h0m12.5 0h0m0 0h0m10 0h0m1.5 0h0m0.5 0h0m4 0h0m3 0h0m0 0h0m3.5 0h0m2.5 0h0m1.5 0h0m7.5 0h0m0.5 0h0m5.5 0h0m-38.5 0.5h0m3 0h0m0 0h0m13.5 0h0m3 0h0m0 0h0m0 0h0m2 0h0m3 0h0m10.5 0h0m0 0h0m-63 0.5h0m15 0h0m2 0h0m2.5 0h0m1.5 0h0m18.5 0h0m1 0h0m4.5 0h0m4 0h0m1 0h0m5 0h0m3.5 0h0m2.5 0h0m-92 0.5h0m44 0h0m33 0h0m7.5 0h0m0.5 0h0m1 0h0m1.5 0h0m4 0h0m5 0h0m-48 0.5h0m1.5 0h0m0 0h0m3 0h0m5 0h0m14.5 0h0m7 0h0m3.5 0h0m0.5 0h0m4.5 0h0m2.5 0h0m2.5 0h0m0.5 0h0m2.5 0h0m-93 0.5h0m38 0h0m5 0h0m10 0h0m3.5 0h0m9.5 0h0m14.5 0h0m0 0h0m2 0h0m2 0h0m3 0h0m0 0h0m0.5 0h0m1 0h0m2.5 0h0m2 0h0m1.5 0h0m0.5 0h0m-52.5 0.5h0m8.5 0h0m1.5 0h0m14 0h0m1.5 0h0m2 0h0m4 0h0m2.5 0h0m4 0h0m0.5 0h0m7.5 0h0m1 0h0m2 0h0m-88.5 0.5h0m57 0h0m11 0h0m2.5 0h0m1.5 0h0m3.5 0h0m0 0h0m4 0h0m1.5 0h0m4 0h0m2.5 0h0m2 0h0m1.5 0h0m3 0h0m-52.5 0.5h0m9 0h0m5.5 0h0m7 0h0m1 0h0m4 0h0m3.5 0h0m0 0h0m3.5 0h0m1 0h0m6.5 0h0m1.5 0h0m4.5 0h0m2.5 0h0m0.5 0h0m-154.5 0.5h0m89.5 0h0m3.5 0h0m18 0h0m3.5 0h0m0.5 0h0m0.5 0h0m5 0h0m14 0h0m1.5 0h0m0 0h0m3 0h0m0.5 0h0m0.5 0h0m2 0h0m0.5 0h0m0.5 0h0m2.5 0h0m1.5 0h0m6 0h0m-91.5 0.5h0m41 0h0m14 0h0m4 0h0m11.5 0h0m0.5 0h0m3.5 0h0m0.5 0h0m5.5 0h0m0.5 0h0m4 0h0m1.5 0h0m0.5 0h0m1 0h0m4 0h0m-52 0.5h0m8.5 0h0m7.5 0h0m10 0h0m3 0h0m0.5 0h0m1 0h0m1.5 0h0m1 0h0m5.5 0h0m5.5 0h0m9 0h0m-70.5 0.5h0m19 0h0m3 0h0m2.5 0h0m1.5 0h0m13.5 0h0m12 0h0m0 0h0m5 0h0m5 0h0m1 0h0m9 0h0m-58 0.5h0m14 0h0m4 0h0m1 0h0m11 0h0m1.5 0h0m1.5 0h0m0.5 0h0m6.5 0h0m4 0h0m6 0h0m1.5 0h0m-48.5 0.5h0m11 0h0m1 0h0m7.5 0h0m5.5 0h0m3 0h0m1 0h0m0 0h0m5.5 0h0m6.5 0h0m4 0h0m4.5 0h0m0 0h0m2.5 0h0m-42 0.5h0m0 0h0m2.5 0h0m3 0h0m0.5 0h0m5 0h0m2.5 0h0m5.5 0h0m2 0h0m2.5 0h0m6 0h0m1.5 0h0m1 0h0m1.5 0h0m1.5 0h0m0 0h0m6.5 0h0m-69.5 0.5h0m28 0h0m28.5 0h0m0 0h0m2.5 0h0m1 0h0m3 0h0m2.5 0h0m2.5 0h0m3.5 0h0m3 0h0m-83.5 0.5h0m7 0h0m47 0h0m2.5 0h0m8.5 0h0m1.5 0h0m0 0h0m1.5 0h0m4.5 0h0m4 0h0m3 0h0m-44.5 0.5h0m3 0h0m12 0h0m3 0h0m12.5 0h0m3.5 0h0m4.5 0h0m1 0h0m0 0h0m2 0h0m0.5 0h0m3 0h0m1 0h0m1 0h0m-77 0.5h0m15.5 0h0m22 0h0m12 0h0m15 0h0m2 0h0m2.5 0h0m0.5 0h0m2 0h0m0.5 0h0m1.5 0h0m-45.5 0.5h0m6 0h0m8.5 0h0m4.5 0h0m2.5 0h0m4 0h0m1.5 0h0m0 0h0m5 0h0m5 0h0m2 0h0m1 0h0m0.5 0h0m8.5 0h0m-94.5 0.5h0m39.5 0h0m5.5 0h0m0 0h0m11 0h0m2 0h0m9 0h0m8 0h0m0.5 0h0m2 0h0m0.5 0h0m0.5 0h0m1.5 0h0m0.5 0h0m2.5 0h0m1.5 0h0m6 0h0m1 0h0m1.5 0h0m-24.5 0.5h0m5.5 0h0m3 0h0m5.5 0h0m1 0h0m0.5 0h0m0.5 0h0m5 0h0m1.5 0h0m0.5 0h0m0 0h0m-88 0.5h0m43.5 0h0m1.5 0h0m12.5 0h0m2 0h0m0.5 0h0m2 0h0m1.5 0h0m4.5 0h0m1.5 0h0m1 0h0m6 0h0m2.5 0h0m1 0h0m0 0h0m0.5 0h0m3.5 0h0m0 0h0m6.5 0h0m-73.5 0.5h0m35 0h0m6 0h0m3.5 0h0m0.5 0h0m16 0h0m0.5 0h0m1.5 0h0m0 0h0m4.5 0h0m1 0h0m1.5 0h0m0.5 0h0m-47 0.5h0m11.5 0h0m12 0h0m8 0h0m1.5 0h0m2.5 0h0m5.5 0h0m1.5 0h0m1 0h0m4 0h0m3 0h0m-64.5 0.5h0m28.5 0h0m13 0h0m1.5 0h0m0 0h0m4.5 0h0m4 0h0m1 0h0m0.5 0h0m0.5 0h0m1.5 0h0m1 0h0m1.5 0h0m4.5 0h0m-48 0.5h0m19 0h0m2 0h0m1.5 0h0m8 0h0m0.5 0h0m3 0h0m0 0h0m1.5 0h0m0.5 0h0m5.5 0h0m2 0h0m0 0h0m2.5 0h0m-65.5 0.5h0m34.5 0h0m2.5 0h0m4 0h0m2.5 0h0m3 0h0m2 0h0m7 0h0m2 0h0m1 0h0m1.5 0h0m-42 0.5h0m9 0h0m11 0h0m0.5 0h0m6 0h0m3.5 0h0m4 0h0m6.5 0h0m0.5 0h0m3 0h0m6 0h0m-60.5 0.5h0m10.5 0h0m15 0h0m9 0h0m5.5 0h0m3.5 0h0m2 0h0m0 0h0m1 0h0m0 0h0m1.5 0h0m1 0h0m1.5 0h0m2.5 0h0m2.5 0h0m5.5 0h0m0.5 0h0m-25.5 0.5h0m2 0h0m12 0h0m1 0h0m0.5 0h0m5 0h0m0.5 0h0m5.5 0h0m-144 0.5h0m68 0h0m27 0h0m11 0h0m6.5 0h0m5.5 0h0m4 0h0m0 0h0m2 0h0m1 0h0m2.5 0h0m4.5 0h0m0.5 0h0m0.5 0h0m1 0h0m7.5 0h0m2.5 0h0m-98 0.5h0m26.5 0h0m14.5 0h0m3.5 0h0m1.5 0h0m2.5 0h0m21.5 0h0m4.5 0h0m1 0h0m1.5 0h0m3 0h0m6 0h0m0 0h0m0.5 0h0m0 0h0m1.5 0h0m3.5 0h0m2 0h0m1.5 0h0m1 0h0m-72.5 0.5h0m29 0h0m4 0h0m7 0h0m3 0h0m4 0h0m0 0h0m10 0h0m4 0h0m2 0h0m2 0h0m1 0h0m1 0h0m5 0h0m-51.5 0.5h0m23 0h0m2 0h0m1.5 0h0m8 0h0m4 0h0m9 0h0m0 0h0m0.5 0h0m3 0h0m0.5 0h0m-74 0.5h0m24.5 0h0m9 0h0m16.5 0h0m3 0h0m13 0h0m4.5 0h0m0 0h0m0.5 0h0m0 0h0m4.5 0h0m-94 0.5h0m44.5 0h0m3 0h0m3.5 0h0m5.5 0h0m2.5 0h0m8 0h0m7.5 0h0m5.5 0h0m0.5 0h0m3.5 0h0m0.5 0h0m5 0h0m-37 0.5h0m2 0h0m13.5 0h0m7.5 0h0m1.5 0h0m1.5 0h0m1 0h0m2 0h0m0.5 0h0m1 0h0m0.5 0h0m8 0h0m-55.5 0.5h0m26.5 0h0m2.5 0h0m4.5 0h0m1 0h0m8 0h0m3 0h0m1.5 0h0m3 0h0m2 0h0m6 0h0m0.5 0h0m-42 0.5h0m10.5 0h0m2 0h0m8.5 0h0m2.5 0h0m1 0h0m0.5 0h0m2.5 0h0m2 0h0m7.5 0h0m4.5 0h0m0 0h0m-70.5 0.5h0m24.5 0h0m3.5 0h0m11.5 0h0m8.5 0h0m2 0h0m3.5 0h0m6.5 0h0m5 0h0m0 0h0m1.5 0h0m6 0h0m0.5 0h0m-53.5 0.5h0m4.5 0h0m6 0h0m6.5 0h0m2.5 0h0m14 0h0m2 0h0m1.5 0h0m2.5 0h0m1 0h0m0.5 0h0m1 0h0m2.5 0h0m3 0h0m-126 0.5h0m73 0h0m15 0h0m0.5 0h0m1.5 0h0m3 0h0m12 0h0m5.5 0h0m9.5 0h0m3 0h0m3 0h0m5 0h0m-58.5 0.5h0m1.5 0h0m9.5 0h0m2.5 0h0m8 0h0m1.5 0h0m0.5 0h0m5.5 0h0m2.5 0h0m1.5 0h0m0.5 0h0m10.5 0h0m10.5 0h0m1 0h0m0 0h0m-29.5 0.5h0m1.5 0h0m5 0h0m0 0h0m2.5 0h0m7.5 0h0m0 0h0m0.5 0h0m0.5 0h0m1 0h0m1.5 0h0m4.5 0h0m1 0h0m2 0h0m1.5 0h0m-38 0.5h0m15.5 0h0m3 0h0m0 0h0m0.5 0h0m0.5 0h0m4.5 0h0m1 0h0m0.5 0h0m7 0h0m2 0h0m5 0h0m0 0h0m-43.5 0.5h0m0.5 0h0m13.5 0h0m7.5 0h0m2 0h0m15.5 0h0m6.5 0h0m-66 0.5h0m27.5 0h0m1.5 0h0m0 0h0m9 0h0m1.5 0h0m1 0h0m1.5 0h0m2.5 0h0m0.5 0h0m1 0h0m1.5 0h0m1.5 0h0m-72.5 0.5h0m7.5 0h0m25.5 0h0m8.5 0h0m11 0h0m4.5 0h0m9 0h0m3.5 0h0m0.5 0h0m2 0h0m3.5 0h0m1 0h0m1.5 0h0m0.5 0h0m0 0h0m1.5 0h0m2.5 0h0m1 0h0m1.5 0h0m-45.5 0.5h0m3.5 0h0m0.5 0h0m3.5 0h0m1 0h0m21 0h0m3 0h0m2.5 0h0m2 0h0m1.5 0h0m0 0h0m2.5 0h0m1 0h0m1.5 0h0m2 0h0m-41 0.5h0m17 0h0m10 0h0m0.5 0h0m-29.5 0.5h0m8 0h0m9 0h0m1.5 0h0m3.5 0h0m0.5 0h0m5 0h0m2.5 0h0m2 0h0m4 0h0m3.5 0h0m3.5 0h0m2 0h0m1 0h0m-100.5 0.5h0m50.5 0h0m13 0h0m7 0h0m8.5 0h0m3 0h0m2 0h0m1.5 0h0m2 0h0m1.5 0h0m1 0h0m0.5 0h0m1 0h0m1 0h0m0.5 0h0m2.5 0h0m1 0h0m-78.5 0.5h0m32 0h0m7.5 0h0m4 0h0m1 0h0m6.5 0h0m1.5 0h0m0.5 0h0m1.5 0h0m1 0h0m1.5 0h0m1 0h0m12.5 0h0m3.5 0h0m6.5 0h0m-54 0.5h0m6 0h0m14 0h0m5.5 0h0m2 0h0m8.5 0h0m2.5 0h0m0.5 0h0m0.5 0h0m7.5 0h0m2.5 0h0m3.5 0h0m4 0h0m-67 0.5h0m20.5 0h0m7.5 0h0m9 0h0m0 0h0m2 0h0m5.5 0h0m0 0h0m5 0h0m1.5 0h0m2.5 0h0m2.5 0h0m0 0h0m2.5 0h0m1.5 0h0m7 0h0m-126.5 0.5h0m101.5 0h0m5 0h0m3 0h0m2.5 0h0m0.5 0h0m0.5 0h0m0.5 0h0m0 0h0m2 0h0m0 0h0m0.5 0h0m6 0h0m1 0h0m1 0h0m3.5 0h0m-60.5 0.5h0m8 0h0m14 0h0m8 0h0m6 0h0m6.5 0h0m8 0h0m5 0h0m1.5 0h0m-40.5 0.5h0m18.5 0h0m2 0h0m2.5 0h0m2 0h0m1 0h0m2 0h0m2.5 0h0m6.5 0h0m4 0h0m-74.5 0.5h0m15 0h0m10.5 0h0m5 0h0m0.5 0h0m10 0h0m8.5 0h0m1.5 0h0m3.5 0h0m1.5 0h0m8 0h0m1 0h0m0 0h0m5 0h0m1 0h0m2 0h0m-31 0.5h0m6.5 0h0m0 0h0m3.5 0h0m10.5 0h0m2.5 0h0m3.5 0h0m6 0h0m-33 0.5h0m12.5 0h0m0.5 0h0m8 0h0m2 0h0m5 0h0m2.5 0h0m0.5 0h0m4.5 0h0m-182 0.5h0m145 0h0m2 0h0m7.5 0h0m1 0h0m6 0h0m7.5 0h0m1 0h0m3 0h0m0 0h0m6.5 0h0m0.5 0h0m0.5 0h0m-43 0.5h0m15.5 0h0m9.5 0h0m0.5 0h0m4 0h0m0.5 0h0m7 0h0m2 0h0m4 0h0m0 0h0m-44.5 0.5h0m4.5 0h0m5 0h0m0 0h0m1.5 0h0m12.5 0h0m3.5 0h0m4 0h0m2 0h0m0 0h0m1.5 0h0m7 0h0m1 0h0m0.5 0h0m1.5 0h0m-73.5 0.5h0m34 0h0m2 0h0m9.5 0h0m2 0h0m9 0h0m5.5 0h0m2.5 0h0m2 0h0m1 0h0m-84.5 0.5h0m25.5 0h0m10.5 0h0m2 0h0m3 0h0m3 0h0m9 0h0m3 0h0m3.5 0h0m1 0h0m1 0h0m3.5 0h0m3.5 0h0m4.5 0h0m5 0h0m0 0h0m5.5 0h0m2.5 0h0m1 0h0m1.5 0h0m-39 0.5h0m2.5 0h0m2 0h0m6.5 0h0m3.5 0h0m6 0h0m8 0h0m4.5 0h0m1.5 0h0m2 0h0m1.5 0h0m0.5 0h0m-81 0.5h0m32.5 0h0m13.5 0h0m3.5 0h0m7 0h0m5 0h0m1 0h0m0.5 0h0m9 0h0m3 0h0m0 0h0m4 0h0m1 0h0m2 0h0m-61 0.5h0m37.5 0h0m6.5 0h0m0 0h0m0.5 0h0m2.5 0h0m6.5 0h0m1.5 0h0m4 0h0m-32.5 0.5h0m3 0h0m1 0h0m7 0h0m6 0h0m0.5 0h0m3 0h0m1 0h0m0.5 0h0m2.5 0h0m1 0h0m0.5 0h0m0.5 0h0m0 0h0m3 0h0m0 0h0m1.5 0h0m0.5 0h0m4 0h0m0.5 0h0m-20 0.5h0m12.5 0h0m-45 0.5h0m10.5 0h0m8 0h0m1 0h0m7.5 0h0m6.5 0h0m0.5 0h0m5 0h0m1.5 0h0m6 0h0m3.5 0h0m0 0h0m1 0h0m0 0h0m-47 0.5h0m9.5 0h0m11.5 0h0m0 0h0m7.5 0h0m3 0h0m0.5 0h0m7.5 0h0m4 0h0m1.5 0h0m-63.5 0.5h0m17.5 0h0m15 0h0m9.5 0h0m6 0h0m1.5 0h0m1 0h0m4.5 0h0m1.5 0h0m0.5 0h0m4 0h0m-31 0.5h0m1.5 0h0m9 0h0m5.5 0h0m0.5 0h0m5.5 0h0m5 0h0m0.5 0h0m0.5 0h0m2.5 0h0m4.5 0h0m-64 0.5h0m6 0h0m14.5 0h0m11 0h0m36.5 0h0m-98 0.5h0m46.5 0h0m32.5 0h0m4 0h0m3.5 0h0m1.5 0h0m-19.5 0.5h0m2.5 0h0m0.5 0h0m9 0h0m5 0h0m1.5 0h0m7 0h0m3 0h0m-67.5 0.5h0m9 0h0m46 0h0m2.5 0h0m4 0h0m3 0h0m-81.5 0.5h0m56.5 0h0m4 0h0m1.5 0h0m11 0h0m3.5 0h0m-49.5 0.5h0m1 0h0m14 0h0m3 0h0m16 0h0m3 0h0m2 0h0m1.5 0h0m1 0h0m3 0h0m3 0h0m4 0h0m4 0h0m-47 0.5h0m6.5 0h0m12 0h0m9 0h0m6 0h0m3 0h0m2 0h0m1 0h0m2 0h0m3 0h0m3 0h0m2 0h0m-66.5 0.5h0m1 0h0m7 0h0m6 0h0m31 0h0m1 0h0m0.5 0h0m1.5 0h0m0.5 0h0m10 0h0m0.5 0h0m3 0h0m6 0h0m-86.5 0.5h0m1.5 0h0m16 0h0m11.5 0h0m33 0h0m5 0h0m-6.5 0.5h0m0.5 0h0m3 0h0m4 0h0m2 0h0m9.5 0h0m-69.5 0.5h0m37.5 0h0m2 0h0m2 0h0m10 0h0m6.5 0h0m1 0h0m13 0h0m1 0h0m2.5 0h0m-29.5 0.5h0m4 0h0m5 0h0m8.5 0h0m5 0h0m2 0h0m-34 0.5h0m8.5 0h0m2.5 0h0m0.5 0h0m18 0h0m9 0h0m-72.5 0.5h0m1 0h0m48 0h0m2.5 0h0m4.5 0h0m3 0h0m1 0h0m8.5 0h0m-35.5 0.5h0m2 0h0m8 0h0m13.5 0h0m2 0h0m11.5 0h0m2 0h0m-22.5 0.5h0m5 0h0m-65.5 0.5h0m40.5 0h0m4.5 0h0m18.5 0h0m0 0h0m13.5 0h0m0.5 0h0m1 0h0m4 0h0m-49 0.5h0m13 0h0m11.5 0h0m6.5 0h0m4 0h0m11 0h0m1 0h0m1.5 0h0m-41.5 0.5h0m13 0h0m5 0h0m2.5 0h0m2.5 0h0m4.5 0h0m0.5 0h0m-63.5 0.5h0m25.5 0h0m1 0h0m18.5 0h0m3.5 0h0m3 0h0m18 0h0m3 0h0m-36.5 0.5h0m12.5 0h0m7.5 0h0m6.5 0h0m8 0h0m0 0h0m2 0h0m1.5 0h0m-54 0.5h0m10 0h0m2 0h0m19 0h0m10 0h0m8.5 0h0m6 0h0m-44.5 0.5h0m1 0h0m0.5 0h0m19.5 0h0m10 0h0m2 0h0m8 0h0m0.5 0h0m-61 0.5h0m39 0h0m6.5 0h0m5 0h0m10 0h0m1.5 0h0m1 0h0m-36 0.5h0m14.5 0h0m8 0h0m3.5 0h0m10 0h0m-13 0.5h0m4 0h0m12 0h0m-14.5 0.5h0m15 0h0m-39.5 0.5h0m20.5 0h0m4.5 0h0m5.5 0h0m0.5 0h0m-17 0.5h0m9 0h0m13 0h0m1 0h0m-23.5 0.5h0m15 0.5h0m9.5 0.5h0" stroke="#2980B9" stroke-width="3.4" stroke-linecap="round" fill="none"/>
<path d="M1637 717h0m-35 48h0m23.5 11h0m-12 0.5h0m-12 1h0m31 8h0m-27 4h0m2 2.5h0m8.5 1h0m-13.5 2h0m11 2h0m-10.5 1h0m5.5 2.5h0m-4.5 2.5h0m0 2.5h0m2 2h0m-4 1h0m2.5 0h0m12 1h0m17 1h0m-30.5 2.5h0m12 0h0m-8.5 1.5h0m8 0.5h0m-11 1h0m23 1h0m-27.5 2h0m1 1.5h0m26.5 1.5h0m-13 2h0m3 0.5h0m-5.5 1.5h0m6.5 1.5h0m-15 1h0m17 1.5h0m-7 1.5h0m-10.5 0.5h0m58.5 0h0m-57.5 0.5h0m3 0h0m9.5 4h0m-2 0.5h0m14.5 2h0m-22.5 1.5h0m-4.5 0.5h0m13 0h0m-1 1h0m-18 0.5h0m11.5 0h0m4.5 1h0m1.5 0h0m2 1h0m-11.5 0.5h0m-5.5 0.5h0m1 0h0m26 1.5h0m8.5 0.5h0m-20 0.5h0m0.5 0.5h0m-11.5 0.5h0m5 0h0m3.5 0h0m-11 1h0m29 0h0m16 0h0m-32.5 1h0m27.5 0.5h0m-34 1h0m15 0h0m-13 0.5h0m-4 1h0m28.5 0.5h0m-25.5 1h0m-12.5 3h0m3.5 0.5h0m1 0h0m33.5 0.5h0m-29 1.5h0m-4.5 0.5h0m11 0h0m4.5 0.5h0m-20 0.5h0m66 0h0m-65 1.5h0m6 1.5h0m9 0h0m56 1h0m17.5 0h0m-76.5 0.5h0m47.5 0h0m-46.5 0.5h0m14 0.5h0m-21.5 0.5h0m29.5 0.5h0m-29.5 0.5h0m5.5 0h0m35 0h0m-46 1.5h0m6.5 0h0m4 0h0m-0.5 0.5h0m2 0.5h0m1.5 1h0m18.5 0.5h0m-24.5 1h0m6 0h0m11 0.5h0m-27.5 1h0m5.5 0h0m29 1.5h0m1.5 0h0m-17 0.5h0m-14.5 0.5h0m11.5 0h0m9 1h0m61 0h0m-80.5 1.5h0m2.5 0h0m2 0.5h0m0 0h0m0.5 1h0m6.5 0.5h0m-4 1h0m15 0h0m-24 1h0m3.5 0.5h0m32 0h0m-39.5 0.5h0m14.5 0h0m-4 0.5h0m-6 0.5h0m24.5 1h0m-25 1h0m15 0h0m-18.5 0.5h0m29 0h0m5.5 0h0m-5.5 1h0m-21 0.5h0m2 1.5h0m6 0h0m17 0.5h0m44.5 0h0m-73 0.5h0m-2 1h0m1.5 0h0m7 0h0m14.5 0h0m-26.5 0.5h0m10.5 0h0m27 0h0m14 0h0m-14 0.5h0m-17.5 0.5h0m24 0h0m-18.5 0.5h0m32.5 0h0m-58.5 0.5h0m11 0h0m1 0h0m7.5 0h0m-18.5 1h0m30 0h0m-29 1.5h0m0.5 0h0m6 0.5h0m3 0h0m0.5 0h0m0 0h0m-4.5 0.5h0m21 0h0m-20 0.5h0m3.5 0.5h0m2.5 0h0m16.5 0.5h0m-14 0.5h0m-4 0.5h0m35.5 0h0m-47 2.5h0m6 0h0m14.5 0h0m8.5 0.5h0m-13.5 0.5h0m14 0h0m-26 1h0m-0.5 0.5h0m14.5 0h0m-4.5 0.5h0m-10.5 0.5h0m6.5 0h0m0.5 0.5h0m0.5 0h0m-10 0.5h0m4 0h0m-3 0.5h0m18 0h0m-8 0.5h0m15.5 0h0m-27 0.5h0m20 0h0m1 0h0m-11.5 0.5h0m8.5 0h0m10 1h0m9 0.5h0m-35 0.5h0m0 1.5h0m15 0h0m7.5 1h0m51 0.5h0m-69 0.5h0m-3 0.5h0m3.5 0.5h0m4 0.5h0m31 0h0m-5.5 0.5h0m-36.5 0.5h0m10 0h0m21.5 0h0m-12.5 1h0m3 0h0m10 0h0m7.5 0h0m-25 0.5h0m21.5 0h0m-36 0.5h0m-2 0.5h0m39.5 0.5h0m52.5 0h0m-76.5 0.5h0m15 1.5h0m-29 0.5h0m4 0h0m-2 0.5h0m4 0h0m14.5 0h0m2.5 0h0m-16.5 0.5h0m17.5 1h0m-8 0.5h0m-4.5 0.5h0m-3.5 0.5h0m8.5 0h0m-17.5 0.5h0m9.5 0h0m2.5 0h0m4 0.5h0m13.5 0h0m-25.5 0.5h0m20.5 0h0m4.5 0h0m-24.5 0.5h0m9.5 0h0m-12.5 0.5h0m-1.5 0.5h0m2 1h0m3.5 0h0m8.5 0h0m5.5 0h0m-21 0.5h0m9 0h0m6.5 0h0m4 0h0m-15.5 0.5h0m6.5 0.5h0m-6.5 0.5h0m4 0h0m0 0h0m24.5 0h0m-14.5 0.5h0m9.5 0h0m-20.5 1.5h0m-6 0.5h0m17.5 0h0m-15.5 0.5h0m4 0h0m22.5 0.5h0m-21.5 0.5h0m4 0h0m49 0h0m-27.5 0.5h0m-29.5 0.5h0m5 0h0m42.5 0h0m-12.5 1h0m3.5 0h0m-30 0.5h0m-4 0.5h0m-4.5 0.5h0m1.5 0h0m20.5 0h0m-17 0.5h0m13 0h0m1.5 0h0m3 0h0m3 0h0m18.5 0h0m-46.5 0.5h0m23.5 0h0m-21 0.5h0m0 0.5h0m23.5 0h0m1 0h0m-19 0.5h0m3 0h0m5 0.5h0m4.5 0h0m49.5 0h0m-56 0.5h0m-12.5 0.5h0m3 0.5h0m1.5 0.5h0m2.5 0.5h0m-6.5 0.5h0m3.5 0h0m4.5 0h0m10 0.5h0m-2.5 0.5h0m-19 0.5h0m9 0h0m1 0h0m2 0h0m-7.5 0.5h0m34 0h0m-38.5 0.5h0m5.5 0h0m1.5 0h0m-4.5 0.5h0m8.5 0h0m5 0h0m18.5 0h0m-34.5 0.5h0m13 0h0m28.5 0h0m-36.5 0.5h0m2 0h0m2 0h0m2 0h0m-6.5 0.5h0m4 0h0m8 0h0m-16 0.5h0m7.5 0h0m7.5 0h0m-6.5 0.5h0m3 0h0m7.5 0.5h0m31.5 0.5h0m-35.5 1h0m26 0h0m-36 0.5h0m8 0h0m-11.5 0.5h0m0.5 0h0m3.5 0h0m2.5 0h0m-5 0.5h0m6.5 0h0m6 0h0m-7.5 0.5h0m15 0.5h0m5 0h0m-21 0.5h0m0.5 0h0m3 0h0m0.5 0h0m7.5 0h0m48.5 0h0m-61.5 0.5h0m3.5 0h0m2 0h0m4 0h0m-7.5 0.5h0m0.5 0h0m-4.5 0.5h0m6.5 0h0m-12.5 0.5h0m13 0h0m14.5 0h0m-19.5 0.5h0m9 0h0m-9 0.5h0m5.5 0h0m15 0h0m11.5 0h0m-36.5 0.5h0m4.5 0h0m7.5 0h0m7.5 0h0m-14.5 0.5h0m7 0h0m5 0h0m4.5 0h0m19 0h0m-39.5 0.5h0m7 0h0m14.5 0h0m-23 0.5h0m13 0h0m2.5 0h0m17.5 0h0m-27.5 0.5h0m10 0h0m9 0h0m9.5 0h0m-23 0.5h0m3 0.5h0m41 0h0m-50 0.5h0m13.5 0h0m-21 0.5h0m37 0h0m7 0h0m-19 1h0m16.5 0h0m-37 0.5h0m1.5 0h0m13 0h0m-4.5 0.5h0m7 0h0m-22 0.5h0m12 0h0m-3 0.5h0m2 0h0m2.5 0h0m6.5 0h0m-14 0.5h0m6.5 0h0m5.5 0h0m7.5 0h0m16 0h0m-38.5 1h0m1 0h0m-1.5 0.5h0m5 0h0m3.5 0h0m2 0h0m28.5 0h0m2.5 0h0m-39 0.5h0m28 0h0m9 0h0m-38.5 1h0m8.5 0h0m2 0h0m2.5 0h0m0 0h0m-6 0.5h0m4.5 0h0m3 0h0m2.5 0h0m-17.5 0.5h0m3.5 0h0m1 0h0m1.5 0h0m18.5 0h0m-23 0.5h0m9 0h0m25.5 0h0m-35 0.5h0m2 0h0m2 0h0m6 0h0m1 0h0m-13.5 0.5h0m0.5 0h0m4 0h0m5 0h0m15.5 0h0m15 0h0m-38.5 0.5h0m9 0h0m-10.5 0.5h0m1 0h0m10.5 0h0m-8 0.5h0m12 0h0m0.5 0h0m0 0h0m-17.5 1h0m5 0h0m4.5 0h0m1.5 0h0m16.5 0h0m1 0h0m-26 0.5h0m2.5 0h0m21.5 0h0m5 0h0m28 0h0m-47.5 0.5h0m2 0h0m1.5 0h0m-12 0.5h0m7 0h0m2.5 0h0m25.5 0h0m3.5 0h0m-33 1h0m4.5 0.5h0m1.5 0h0m5 0h0m23 0h0m-35.5 0.5h0m0 0h0m5.5 0h0m15.5 0h0m-29.5 0.5h0m20 0h0m0.5 0h0m0 0h0m99 0h0m-115.5 0.5h0m2.5 0h0m13 0h0m10.5 0h0m-11 0.5h0m-20 0.5h0m10 0h0m4 0h0m4.5 0h0m5 0h0m-14.5 0.5h0m1.5 0h0m2 0.5h0m6.5 0h0m6.5 0h0m12 0h0m-10.5 0.5h0m-24 0.5h0m4.5 0h0m3.5 0h0m8.5 0h0m17 0h0m11 0h0m-47 0.5h0m10.5 0h0m2.5 0h0m11 0h0m0.5 0h0m-18 0.5h0m2 0h0m2.5 0h0m6 0h0m28.5 0h0m-43 0.5h0m1 0h0m4 0h0m6 0h0m10.5 0h0m10.5 0h0m19 0h0m-50 0.5h0m13.5 0h0m1 0h0m-9 0.5h0m23 0h0m2.5 0h0m-35.5 0.5h0m6.5 0h0m2.5 0h0m1.5 0h0m4 0h0m3.5 0h0m-15.5 0.5h0m4.5 0h0m35.5 0h0m-37 0.5h0m2.5 0h0m0.5 0h0m3 0h0m4 0h0m7 0h0m3 0h0m-16 0.5h0m2 0h0m1.5 0h0m3.5 0h0m5.5 0h0m19.5 0h0m-21.5 0.5h0m15 0h0m3 0h0m-16.5 0.5h0m2 0h0m-23 0.5h0m6.5 0h0m4.5 0h0m11.5 0h0m-20.5 0.5h0m16 0h0m8.5 0h0m1 0h0m7.5 0h0m7 0h0m-40 0.5h0m7.5 0h0m-9 0.5h0m4 0h0m10 0h0m-14 0.5h0m0 0h0m14 0h0m200.5 0h0m-203 0.5h0m-10 0.5h0m4 0h0m0.5 0h0m6 0h0m9.5 0h0m1 0h0m9.5 0h0m0.5 0h0m8.5 0h0m-39.5 0.5h0m0.5 0h0m3 0h0m1 0h0m0.5 0h0m3.5 0h0m0.5 0h0m0 0h0m75.5 0h0m-84 0.5h0m0.5 0h0m5 0h0m0 0h0m7.5 0h0m4.5 0h0m3.5 0h0m5.5 0h0m-15.5 0.5h0m10 0h0m2.5 0h0m3 0h0m-29 0.5h0m9.5 0h0m3 0h0m8 0h0m0.5 0h0m25.5 0h0m55 0h0m-100 0.5h0m5.5 0h0m2 0h0m2.5 0h0m13 0h0m3.5 0h0m-20 0.5h0m14 0h0m5 0h0m10 0h0m-30 0.5h0m2.5 0h0m6 0h0m1 0h0m9 0h0m-26.5 0.5h0m2.5 0h0m10 0h0m3.5 0h0m1.5 0h0m6 0h0m2.5 0h0m-26.5 0.5h0m6.5 0h0m11.5 0h0m25.5 0h0m77 0h0m-115.5 0.5h0m7 0h0m1 0h0m12 0h0m-18.5 0.5h0m1 0h0m4.5 0h0m14.5 0h0m6 0h0m-15 0.5h0m7 0h0m0.5 0h0m26 0h0m-45 0.5h0m13 0h0m1 0h0m36.5 0h0m-48.5 0.5h0m6 0h0m1.5 0h0m-12 0.5h0m1 0h0m7 0h0m8.5 0h0m13.5 0h0m-28.5 0.5h0m2 0h0m16.5 0h0m5.5 0h0m8 0h0m3 0h0m30 0h0m-68 0.5h0m1.5 0h0m3 0h0m1.5 0h0m6.5 0h0m30 0h0m0.5 0h0m-43 0.5h0m16 0h0m5 0h0m4.5 0h0m1.5 0h0m-16.5 0.5h0m0.5 0h0m10 0h0m-15.5 0.5h0m7 0h0m3 0h0m-15.5 1h0m2.5 0h0m1 0h0m1.5 0h0m2.5 0h0m3.5 0h0m2 0h0m37 0h0m19 0h0m-68.5 0.5h0m2 0h0m4 0h0m0 0h0m1 0h0m4.5 0h0m7 0h0m3 0h0m9.5 0h0m13 0h0m5 0h0m-42 0.5h0m6.5 0h0m2 0h0m26 0h0m-44 0.5h0m4.5 0h0m17.5 0h0m-18.5 0.5h0m4.5 0h0m18.5 0h0m-19 0.5h0m3.5 0h0m5.5 0h0m2 0h0m8 0h0m14.5 0h0m-40 0.5h0m1 0h0m5 0h0m7 0.5h0m14 0h0m27 0h0m-38 0.5h0m21 0h0m-37 0.5h0m11.5 0h0m5.5 0h0m6.5 0h0m16 0h0m-40 0.5h0m0.5 0h0m1 0h0m1 0h0m5 0h0m2.5 0h0m8.5 0h0m1.5 0h0m1 0h0m41.5 0h0m18 0h0m-63.5 0.5h0m2 0h0m32.5 0h0m-50 0.5h0m9.5 0h0m0 0h0m0.5 0h0m1 0h0m6 0h0m-7 0.5h0m7 0h0m17.5 0h0m-28 0.5h0m1.5 0h0m1 0.5h0m6 0h0m2.5 0h0m7.5 0h0m0 0h0m14 0h0m-35 0.5h0m1 0h0m20.5 0h0m12 0h0m66.5 0h0m17.5 0h0m46.5 0h0m-166.5 0.5h0m1 0h0m2 0h0m14 0h0m3 0h0m1 0h0m21 0h0m-46.5 0.5h0m10.5 0h0m1.5 0h0m5 0h0m8 0h0m16 0h0m-33.5 0.5h0m8 0h0m8 0h0m-19 0.5h0m3.5 0h0m3 0h0m1 0h0m25.5 0h0m-33.5 0.5h0m3.5 0h0m0.5 0h0m7 0h0m-9.5 0.5h0m0.5 0h0m4.5 0h0m5.5 0h0m18.5 0h0m3 0h0m0.5 0h0m-34.5 0.5h0m1 0h0m28.5 0h0m-27.5 0.5h0m3.5 0h0m2.5 0h0m2 0h0m-9.5 0.5h0m3.5 0h0m2 0h0m1.5 0h0m4.5 0h0m1.5 0h0m2 0h0m2 0h0m9.5 0h0m-30.5 0.5h0m0.5 0h0m0 0h0m4.5 0h0m12.5 0h0m10 0h0m-11 0.5h0m-14.5 0.5h0m7.5 0h0m2.5 0h0m5 0h0m1.5 0h0m3 0h0m23 0h0m-42.5 0.5h0m19 0h0m-14.5 0.5h0m2 0h0m0.5 0h0m11 0h0m11.5 0h0m7 0h0m-33.5 0.5h0m0.5 0h0m8 0h0m5.5 0h0m5.5 0h0m4 0h0m-22 0.5h0m0 0h0m1.5 0h0m1.5 0h0m1 0h0m9.5 0h0m6.5 0h0m-22 0.5h0m2 0h0m2 0h0m2.5 0h0m16.5 0h0m7 0h0m9 0h0m50 0h0m-94 0.5h0m4 0h0m0.5 0h0m1 0h0m0.5 0h0m0 0h0m0.5 0h0m2 0h0m16 0h0m6.5 0h0m14.5 0h0m-44 0.5h0m3 0h0m0 0h0m7 0h0m0 0h0m-7.5 0.5h0m0 0h0m12 0h0m6.5 0h0m-19.5 0.5h0m2 0h0m3.5 0h0m8 0h0m2 0h0m-15.5 0.5h0m20.5 0h0m2 0h0m15.5 0h0m14 0h0m51.5 0h0m-99 0.5h0m3.5 0h0m1.5 0h0m2 0h0m9.5 0h0m25 0h0m3.5 0h0m21.5 0h0m-59 0.5h0m2.5 0h0m2.5 0h0m8.5 0h0m0.5 0h0m-28.5 0.5h0m4.5 0h0m1.5 0h0m14.5 0h0m11.5 0h0m-27.5 0.5h0m2 0h0m1.5 0h0m20.5 0h0m0.5 0h0m5.5 0h0m-27.5 0.5h0m4.5 0h0m7.5 0h0m0.5 0h0m3.5 0h0m4.5 0h0m1 0h0m-20.5 0.5h0m12 0h0m8 0h0m5.5 0h0m5 0h0m30.5 0h0m-64 0.5h0m6.5 0h0m0 0h0m5 0h0m9 0h0m8.5 0h0m0 0h0m7 0h0m51.5 0h0m-85.5 0.5h0m3.5 0h0m2 0h0m-12 0.5h0m3.5 0h0m3 0h0m2.5 0h0m3.5 0h0m10.5 0h0m2 0h0m11 0h0m2.5 0h0m0 0h0m26 0h0m-57 0.5h0m7 0h0m1.5 0h0m7 0h0m-12.5 0.5h0m10 0h0m-17.5 0.5h0m0.5 0h0m2.5 0h0m5.5 0h0m0.5 0h0m5.5 0h0m9.5 0h0m19 0h0m-46.5 0.5h0m18 0h0m6.5 0h0m2.5 0h0m6 0h0m3 0h0m-35.5 0.5h0m0.5 0h0m0.5 0h0m0 0h0m6 0h0m2 0h0m-6.5 0.5h0m0 0h0m3.5 0h0m5.5 0h0m21 0h0m10.5 0h0m1 0h0m16.5 0h0m-57.5 0.5h0m6 0h0m3.5 0h0m3 0h0m4.5 0h0m0.5 0h0m1.5 0h0m-23.5 0.5h0m3.5 0h0m0 0h0m0.5 0h0m3.5 0h0m0.5 0h0m5.5 0h0m15 0h0m-27 0.5h0m4 0h0m1.5 0h0m41 0h0m17.5 0h0m-63.5 0.5h0m4.5 0h0m3 0h0m4.5 0h0m3 0h0m2 0h0m12.5 0h0m-31.5 0.5h0m7.5 0h0m14.5 0h0m2 0h0m2 0h0m3.5 0h0m5.5 0h0m7 0h0m1 0h0m41.5 0h0m-84.5 0.5h0m2.5 0h0m0 0h0m2.5 0h0m2.5 0h0m1.5 0h0m1.5 0h0m11.5 0h0m4 0h0m0 0h0m8.5 0h0m21.5 0h0m-53 0.5h0m2.5 0h0m1.5 0h0m15.5 0h0m0 0h0m2 0h0m23 0h0m8 0h0m-56.5 0.5h0m3.5 0h0m2.5 0h0m0 0h0m3 0h0m4.5 0h0m6 0h0m-14 0.5h0m2 0h0m7 0h0m4 0h0m21.5 0h0m19.5 0h0m2 0h0m-56 0.5h0m4 0h0m1 0h0m3.5 0h0m6 0h0m5.5 0h0m-20.5 0.5h0m0.5 0h0m1 0h0m2 0h0m6.5 0h0m4.5 0h0m1 0h0m1.5 0h0m-14 0.5h0m10.5 0h0m4.5 0h0m3.5 0h0m9 0h0m16.5 0h0m-49.5 0.5h0m1.5 0h0m4.5 0h0m8 0h0m1.5 0h0m2 0h0m5 0h0m17 0h0m-38 0.5h0m0.5 0h0m7 0h0m1 0h0m1 0h0m3 0h0m15 0h0m81 0h0m-108.5 0.5h0m10 0h0m7.5 0h0m2.5 0h0m0.5 0h0m2 0h0m48.5 0h0m-58 0.5h0m3.5 0h0m9.5 0h0m14 0h0m40 0h0m-81 0.5h0m4.5 0h0m4.5 0h0m14.5 0h0m5.5 0h0m0.5 0h0m-31 0.5h0m1.5 0h0m2.5 0h0m20.5 0h0m23.5 0h0m-43 0.5h0m2 0h0m3.5 0h0m11 0h0m2 0h0m1.5 0h0m5 0h0m49.5 0h0m-75 0.5h0m4 0h0m0 0h0m9 0h0m3 0h0m5 0h0m1 0h0m3.5 0h0m4.5 0h0m1.5 0h0m-35.5 0.5h0m0.5 0h0m6 0h0m13 0h0m10 0h0m0.5 0h0m-29 0.5h0m13.5 0h0m8 0h0m3 0h0m-22 0.5h0m6 0h0m3.5 0h0m4.5 0h0m0.5 0h0m6.5 0h0m-23.5 0.5h0m0.5 0h0m1 0h0m0 0h0m1 0h0m14 0h0m10 0h0m7 0h0m28 0h0m-63 0.5h0m5.5 0h0m0.5 0h0m10.5 0h0m14.5 0h0m-24 0.5h0m0 0h0m1.5 0h0m8 0h0m7.5 0h0m10 0h0m-29.5 0.5h0m7.5 0h0m4 0h0m46 0h0m-57.5 0.5h0m4 0h0m5.5 0h0m11 0h0m49.5 0h0m-72.5 0.5h0m1.5 0h0m22 0h0m8.5 0h0m-27.5 0.5h0m0.5 0h0m4 0h0m5.5 0h0m3.5 0h0m4.5 0h0m4.5 0h0m23 0h0m-52.5 0.5h0m2.5 0h0m5.5 0h0m2 0h0m2.5 0h0m19 0h0m1 0h0m4.5 0h0m5 0h0m-40 0.5h0m3.5 0h0m1.5 0h0m0.5 0h0m5 0h0m0.5 0h0m5 0h0m2 0h0m1.5 0h0m7.5 0h0m0.5 0h0m16 0h0m-45.5 0.5h0m6.5 0h0m1.5 0h0m2 0h0m0.5 0h0m2.5 0h0m8.5 0h0m-22 0.5h0m1 0h0m2.5 0h0m0.5 0h0m6.5 0h0m2.5 0h0m1 0h0m3.5 0h0m12.5 0h0m2 0h0m7.5 0h0m2.5 0h0m3 0h0m-36 0.5h0m19 0h0m3 0h0m6 0h0m5 0h0m-22 0.5h0m9 0h0m-26.5 0.5h0m4.5 0h0m0.5 0h0m5.5 0h0m0.5 0h0m6.5 0h0m13 0h0m52.5 0h0m-79.5 0.5h0m4 0h0m3.5 0h0m12 0h0m-26 0.5h0m7.5 0h0m0.5 0h0m0.5 0h0m7 0h0m4.5 0h0m5.5 0h0m3.5 0h0m11.5 0h0m2 0h0m-41.5 0.5h0m8.5 0h0m6 0h0m2 0h0m2.5 0h0m0.5 0h0m2.5 0h0m0.5 0h0m1.5 0h0m2 0h0m5 0h0m14.5 0h0m-42.5 0.5h0m0 0h0m1.5 0h0m0.5 0h0m4 0h0m0.5 0h0m3.5 0h0m7.5 0h0m7.5 0h0m2 0h0m0.5 0h0m12 0h0m-41.5 0.5h0m6 0h0m2 0h0m0.5 0h0m2 0h0m0.5 0h0m3 0h0m0 0h0m6 0h0m15 0h0m-32 0.5h0m2.5 0h0m2.5 0h0m2.5 0h0m12 0h0m7.5 0h0m-30 0.5h0m5.5 0h0m3 0h0m6.5 0h0m2 0h0m6.5 0h0m24.5 0h0m68.5 0h0m-116 0.5h0m4.5 0h0m1.5 0h0m4.5 0h0m1 0h0m0.5 0h0m5.5 0h0m4.5 0h0m4 0h0m1.5 0h0m14 0h0m7.5 0h0m-51.5 0.5h0m1 0h0m1 0h0m1 0h0m9.5 0h0m0.5 0h0m75.5 0h0m-82 0.5h0m0.5 0h0m10.5 0h0m16.5 0h0m-24 0.5h0m0 0h0m2 0h0m9 0h0m1.5 0h0m7 0h0m2 0h0m2 0h0m3 0h0m10 0h0m-43.5 0.5h0m1 0h0m17 0h0m14 0h0m1 0h0m-31.5 0.5h0m1.5 0h0m0.5 0h0m5 0h0m3.5 0h0m14 0h0m18.5 0h0m-47.5 0.5h0m0.5 0h0m2.5 0h0m3.5 0h0m9.5 0h0m7 0h0m3.5 0h0m2 0h0m1.5 0h0m2.5 0h0m1 0h0m25.5 0h0m-56.5 0.5h0m0 0h0m2.5 0h0m4.5 0h0m2.5 0h0m29.5 0h0m-38 0.5h0m3.5 0h0m2 0h0m1.5 0h0m0.5 0h0m0.5 0h0m0.5 0h0m0 0h0m5 0h0m2 0h0m46.5 0h0m-52.5 0.5h0m12 0h0m0.5 0h0m0 0h0m0.5 0h0m10 0h0m4.5 0h0m2.5 0h0m20 0h0m-60 0.5h0m5 0h0m13.5 0h0m2.5 0h0m5 0h0m-30 0.5h0m9 0h0m0 0h0m2 0h0m2.5 0h0m4.5 0h0m8.5 0h0m35 0h0m-56.5 0.5h0m1.5 0h0m0.5 0h0m2 0h0m8.5 0h0m0.5 0h0m7.5 0h0m1 0h0m1 0h0m15.5 0h0m7 0h0m-45.5 0.5h0m1 0h0m0 0h0m8 0h0m6 0h0m2 0h0m-7.5 0.5h0m1.5 0h0m17.5 0h0m12.5 0h0m-44 0.5h0m1.5 0h0m4 0h0m2 0h0m1 0h0m0 0h0m1 0h0m0.5 0h0m4 0h0m3 0h0m3 0h0m-21 0.5h0m0 0h0m4 0h0m7 0h0m6 0h0m1 0h0m9.5 0h0m7.5 0h0m-34.5 0.5h0m1 0h0m10.5 0h0m2.5 0h0m2.5 0h0m2.5 0h0m2 0h0m1.5 0h0m6 0h0m5 0h0m20 0h0m-52.5 0.5h0m0 0h0m3 0h0m2 0h0m1.5 0h0m1.5 0h0m0 0h0m5.5 0h0m12.5 0h0m0 0h0m-25.5 0.5h0m10 0h0m2 0h0m-8 0.5h0m5.5 0h0m1.5 0h0m1 0h0m7 0h0m0 0h0m-17.5 0.5h0m12 0h0m1 0h0m8 0h0m1 0h0m0.5 0h0m32.5 0h0m-58 0.5h0m0.5 0h0m2 0h0m0.5 0h0m7.5 0h0m1 0h0m1.5 0h0m1.5 0h0m2.5 0h0m2 0h0m8 0h0m9 0h0m4 0h0m-38.5 0.5h0m0 0h0m0.5 0h0m5 0h0m3.5 0h0m5 0h0m2 0h0m0 0h0m0.5 0h0m1 0h0m3.5 0h0m1 0h0m12 0h0m1.5 0h0m-37 0.5h0m2 0h0m0.5 0h0m0.5 0h0m1.5 0h0m1 0h0m5.5 0h0m4 0h0m27 0h0m3.5 0h0m17.5 0h0m26.5 0h0m-88.5 0.5h0m4 0h0m2 0h0m2 0h0m13.5 0h0m20.5 0h0m-41.5 0.5h0m1 0h0m2.5 0h0m2 0h0m1 0h0m1 0h0m0.5 0h0m1 0h0m0 0h0m1 0h0m5 0h0m0.5 0h0m1 0h0m7 0h0m4 0h0m2.5 0h0m-32.5 0.5h0m0 0h0m2.5 0h0m0.5 0h0m1 0h0m0.5 0h0m0.5 0h0m0.5 0h0m2.5 0h0m0.5 0h0m2 0h0m0.5 0h0m0.5 0h0m7 0h0m5.5 0h0m31 0h0m-45.5 0.5h0m3.5 0h0m2 0h0m1.5 0h0m1.5 0h0m6 0h0m25 0h0m-43 0.5h0m0.5 0h0m3 0h0m2 0h0m1 0h0m2.5 0h0m0 0h0m2.5 0h0m4 0h0m-21 0.5h0m1 0h0m1 0h0m3 0h0m2.5 0h0m0.5 0h0m0 0h0m0 0h0m1.5 0h0m22.5 0h0m2.5 0h0m8.5 0h0m4.5 0h0m-47.5 0.5h0m2 0h0m5.5 0h0m3.5 0h0m0.5 0h0m0.5 0h0m3 0h0m5 0h0m6 0h0m12.5 0h0m31 0h0m-68.5 0.5h0m1 0h0m3.5 0h0m2 0h0m7 0h0m-10.5 0.5h0m2 0h0m1 0h0m11.5 0h0m1.5 0h0m2 0h0m2.5 0h0m1 0h0m2 0h0m1 0h0m9 0h0m-37 0.5h0m3.5 0h0m3 0h0m2.5 0h0m7 0h0m3.5 0h0m13 0h0m17.5 0h0m0.5 0h0m-47.5 0.5h0m10 0h0m1 0h0m1 0h0m16.5 0h0m-22.5 0.5h0m1 0h0m1.5 0h0m1 0h0m0.5 0h0m4 0h0m6.5 0h0m9.5 0h0m-26 0.5h0m7.5 0h0m1.5 0h0m0.5 0h0m3 0h0m0 0h0m0.5 0h0m3.5 0h0m27 0h0m10.5 0h0m-56.5 0.5h0m0.5 0h0m0.5 0h0m3.5 0h0m1 0h0m3.5 0h0m0.5 0h0m2 0h0m4.5 0h0m34 0h0m-45.5 0.5h0m3 0h0m9 0h0m4.5 0h0m8 0h0m15 0h0m-47 0.5h0m1 0h0m0.5 0h0m6 0h0m3.5 0h0m3 0h0m0.5 0h0m1.5 0h0m11 0h0m2 0h0m-33 0.5h0m5.5 0h0m2 0h0m1.5 0h0m6.5 0h0m1.5 0h0m2 0h0m2 0h0m8 0h0m4 0h0m5.5 0h0m15 0h0m-50 0.5h0m1 0h0m4 0h0m17 0h0m6.5 0h0m28 0h0m-58 0.5h0m0.5 0h0m2 0h0m2 0h0m2 0h0m6 0h0m4.5 0h0m11 0h0m14 0h0m6 0h0m-44.5 0.5h0m4.5 0h0m1 0h0m1.5 0h0m1.5 0h0m9 0h0m15.5 0h0m10 0h0m-44 0.5h0m0.5 0h0m0.5 0h0m2 0h0m6 0h0m0.5 0h0m0.5 0h0m4 0h0m1.5 0h0m0.5 0h0m28.5 0h0m67 0h0m-116.5 0.5h0m4.5 0h0m1 0h0m4 0h0m0.5 0h0m3.5 0h0m0.5 0h0m0.5 0h0m0.5 0h0m5 0h0m1 0h0m2 0h0m-18.5 0.5h0m7 0h0m4 0h0m2.5 0h0m3 0h0m0.5 0h0m10 0h0m2.5 0h0m6 0h0m-36.5 0.5h0m0 0h0m2 0h0m6 0h0m2 0h0m1.5 0h0m19.5 0h0m3.5 0h0m36 0h0m-72.5 0.5h0m1.5 0h0m0 0h0m2.5 0h0m0.5 0h0m1 0h0m1.5 0h0m0 0h0m3 0h0m1.5 0h0m0.5 0h0m12 0h0m4 0h0m2.5 0h0m15.5 0h0m-45.5 0.5h0m1 0h0m6.5 0h0m2.5 0h0m0.5 0h0m0 0h0m3 0h0m16.5 0h0m4 0h0m5.5 0h0m-39.5 0.5h0m1 0h0m4 0h0m0.5 0h0m8 0h0m1 0h0m10 0h0m1.5 0h0m5.5 0h0m6.5 0h0m-33.5 0.5h0m0 0h0m1 0h0m2.5 0h0m1.5 0h0m1 0h0m3 0h0m0 0h0m8.5 0h0m8 0h0m4.5 0h0m-34 0.5h0m0.5 0h0m9.5 0h0m6.5 0h0m4 0h0m25 0h0m-48 0.5h0m6 0h0m0.5 0h0m0.5 0h0m1.5 0h0m1.5 0h0m3 0h0m4.5 0h0m0.5 0h0m2.5 0h0m3 0h0m1.5 0h0m-15.5 0.5h0m1.5 0h0m3.5 0h0m1 0h0m3 0h0m-18 0.5h0m0 0h0m1 0h0m3 0h0m4 0h0m2 0h0m4.5 0h0m3 0h0m4 0h0m12.5 0h0m2 0h0m-32 0.5h0m0 0h0m0 0h0m7.5 0h0m12 0h0m3 0h0m5.5 0h0m20.5 0h0m21.5 0h0m-73.5 0.5h0m3 0h0m1 0h0m2.5 0h0m0.5 0h0m2 0h0m3 0h0m0.5 0h0m0.5 0h0m0.5 0h0m6.5 0h0m1 0h0m5 0h0m-22.5 0.5h0m3 0h0m1 0h0m3.5 0h0m0 0h0m4 0h0m17.5 0h0m-30.5 0.5h0m1 0h0m2 0h0m3 0h0m0 0h0m3.5 0h0m0 0h0m3.5 0h0m4 0h0m8 0h0m5.5 0h0m-31 0.5h0m7.5 0h0m2.5 0h0m1 0h0m0.5 0h0m1 0h0m3 0h0m1.5 0h0m17.5 0h0m20 0h0m-53.5 0.5h0m0.5 0h0m1 0h0m1 0h0m3 0h0m0.5 0h0m1.5 0h0m8.5 0h0m9 0h0m0 0h0m2.5 0h0m2.5 0h0m16.5 0h0m24.5 0h0m111.5 0h0m-185.5 0.5h0m5 0h0m3 0h0m1.5 0h0m3.5 0h0m0.5 0h0m1.5 0h0m5 0h0m18 0h0m1.5 0h0m3.5 0h0m23.5 0h0m-64 0.5h0m0.5 0h0m6 0h0m7 0h0m0 0h0m2 0h0m0.5 0h0m1 0h0m3.5 0h0m1.5 0h0m2 0h0m0.5 0h0m1 0h0m5.5 0h0m-32 0.5h0m4 0h0m1 0h0m2.5 0h0m1.5 0h0m3 0h0m0.5 0h0m4 0h0m4 0h0m0 0h0m1.5 0h0m15.5 0h0m-24 0.5h0m5.5 0h0m2.5 0h0m2.5 0h0m4.5 0h0m1.5 0h0m52 0h0m-81 0.5h0m0.5 0h0m1 0h0m3 0h0m1 0h0m0.5 0h0m3.5 0h0m2 0h0m2 0h0m0.5 0h0m0 0h0m3.5 0h0m0.5 0h0m29.5 0h0m-50 0.5h0m1.5 0h0m1.5 0h0m1 0h0m0.5 0h0m4.5 0h0m0.5 0h0m2 0h0m3.5 0h0m0.5 0h0m1.5 0h0m6 0h0m0.5 0h0m20.5 0h0m-43.5 0.5h0m0 0h0m3.5 0h0m2 0h0m1 0h0m3.5 0h0m1.5 0h0m0.5 0h0m0.5 0h0m-9 0.5h0m0.5 0h0m4.5 0h0m1.5 0h0m23.5 0h0m1.5 0h0m1 0h0m6.5 0h0m-38 0.5h0m1.5 0h0m2.5 0h0m0 0h0m2.5 0h0m14 0h0m34.5 0h0m-58 0.5h0m0.5 0h0m0 0h0m6.5 0h0m3 0h0m0.5 0h0m0.5 0h0m1.5 0h0m0.5 0h0m1 0h0m1 0h0m1 0h0m1.5 0h0m12.5 0h0m9.5 0h0m1 0h0m22.5 0h0m-63.5 0.5h0m5 0h0m1 0h0m2 0h0m0.5 0h0m2.5 0h0m0 0h0m0 0h0m2 0h0m2.5 0h0m0.5 0h0m-13 0.5h0m1 0h0m0.5 0h0m2.5 0h0m1.5 0h0m5.5 0h0m3.5 0h0m5 0h0m8.5 0h0m12.5 0h0m-43 0.5h0m3.5 0h0m4.5 0h0m10 0h0m2.5 0h0m3 0h0m5.5 0h0m7 0h0m13 0h0m-50.5 0.5h0m3.5 0h0m1.5 0h0m2.5 0h0m0.5 0h0m2.5 0h0m1.5 0h0m0.5 0h0m9 0h0m3.5 0h0m12.5 0h0m51.5 0h0m-87 0.5h0m1 0h0m0.5 0h0m0.5 0h0m6 0h0m0.5 0h0m0.5 0h0m0.5 0h0m3.5 0h0m2.5 0h0m5 0h0m0 0h0m0.5 0h0m3.5 0h0m4.5 0h0m-32 0.5h0m2.5 0h0m0 0h0m1.5 0h0m6.5 0h0m0.5 0h0m2 0h0m0.5 0h0m2 0h0m8 0h0m7 0h0m-28.5 0.5h0m0 0h0m3 0h0m0.5 0h0m2.5 0h0m1.5 0h0m12.5 0h0m0.5 0h0m2 0h0m2 0h0m3 0h0m8.5 0h0m32 0h0m47.5 0h0m-118.5 0.5h0m1.5 0h0m5 0h0m1.5 0h0m2 0h0m7.5 0h0m4.5 0h0m5.5 0h0m4 0h0m-27 0.5h0m4.5 0h0m0 0h0m1.5 0h0m2 0h0m2 0h0m4.5 0h0m2.5 0h0m2 0h0m0.5 0h0m14 0h0m-33 0.5h0m1 0h0m1 0h0m1.5 0h0m1 0h0m0 0h0m1.5 0h0m8.5 0h0m2 0h0m2.5 0h0m0.5 0h0m2.5 0h0m17.5 0h0m3.5 0h0m-44 0.5h0m7.5 0h0m4.5 0h0m0.5 0h0m1 0h0m0 0h0m2.5 0h0m0.5 0h0m1 0h0m1 0h0m5 0h0m2 0h0m3 0h0m1.5 0h0m2 0h0m30 0h0m-64.5 0.5h0m2.5 0h0m1 0h0m2.5 0h0m1 0h0m1 0h0m0 0h0m1 0h0m0.5 0h0m1.5 0h0m1.5 0h0m0.5 0h0m1.5 0h0m1 0h0m0.5 0h0m1 0h0m1.5 0h0m7 0h0m5 0h0m9.5 0h0m4.5 0h0m-42 0.5h0m0 0h0m3.5 0h0m0.5 0h0m6 0h0m1.5 0h0m1 0h0m6.5 0h0m5.5 0h0m2 0h0m3 0h0m3 0h0m11.5 0h0m-47 0.5h0m0.5 0h0m4 0h0m1.5 0h0m2 0h0m0 0h0m3 0h0m1.5 0h0m2 0h0m2.5 0h0m8 0h0m22 0h0m-46.5 0.5h0m0.5 0h0m1 0h0m3 0h0m0 0h0m3 0h0m0.5 0h0m1.5 0h0m0 0h0m0 0h0m2 0h0m0.5 0h0m1.5 0h0m8 0h0m1.5 0h0m0 0h0m7.5 0h0m5 0h0m3 0h0m7.5 0h0m0 0h0m1 0h0m14 0h0m6.5 0h0m-68 0.5h0m2.5 0h0m1.5 0h0m2 0h0m1 0h0m2.5 0h0m2.5 0h0m1.5 0h0m1 0h0m2 0h0m3.5 0h0m1.5 0h0m5 0h0m0.5 0h0m6.5 0h0m2 0h0m3 0h0m16.5 0h0m6.5 0h0m-59 0.5h0m0 0h0m1.5 0h0m6 0h0m0.5 0h0m1 0h0m8 0h0m1 0h0m6 0h0m10.5 0h0m-34 0.5h0m0.5 0h0m0 0h0m6 0h0m1 0h0m3.5 0h0m0.5 0h0m0.5 0h0m3.5 0h0m0 0h0m1.5 0h0m2 0h0m12.5 0h0m9 0h0m-36.5 0.5h0m1 0h0m3.5 0h0m1 0h0m2 0h0m8 0h0m0.5 0h0m0.5 0h0m0 0h0m2.5 0h0m11 0h0m6.5 0h0m6 0h0m12.5 0h0m-57 0.5h0m0.5 0h0m2 0h0m0.5 0h0m3.5 0h0m1.5 0h0m0.5 0h0m0.5 0h0m0 0h0m3 0h0m7 0h0m0.5 0h0m10.5 0h0m62.5 0h0m-95.5 0.5h0m5.5 0h0m0 0h0m0.5 0h0m0.5 0h0m1 0h0m5.5 0h0m4 0h0m0.5 0h0m2.5 0h0m1 0h0m1.5 0h0m0.5 0h0m7.5 0h0m4.5 0h0m10.5 0h0m2.5 0h0m-49 0.5h0m1.5 0h0m2 0h0m1 0h0m2 0h0m1 0h0m0 0h0m1.5 0h0m4 0h0m6 0h0m4.5 0h0m9.5 0h0m9.5 0h0m-38 0.5h0m0 0h0m6 0h0m0.5 0h0m2.5 0h0m0.5 0h0m3.5 0h0m3 0h0m2 0h0m2 0h0m0.5 0h0m19.5 0h0m9 0h0m-52 0.5h0m2 0h0m0.5 0h0m0.5 0h0m1.5 0h0m0 0h0m0.5 0h0m1 0h0m2.5 0h0m3.5 0h0m2 0h0m0 0h0m9 0h0m2 0h0m48.5 0h0m-74 0.5h0m0.5 0h0m1 0h0m0.5 0h0m2.5 0h0m2.5 0h0m2 0h0m9.5 0h0m1 0h0m1 0h0m8.5 0h0m8.5 0h0m38 0h0m-74.5 0.5h0m2.5 0h0m0.5 0h0m0 0h0m2.5 0h0m1.5 0h0m0.5 0h0m2 0h0m3 0h0m0.5 0h0m7.5 0h0m2.5 0h0m3 0h0m7 0h0m61 0h0m-94 0.5h0m1.5 0h0m4 0h0m16.5 0h0m9.5 0h0m0.5 0h0m3 0h0m1.5 0h0m7 0h0m3 0h0m14 0h0m16.5 0h0m-79 0.5h0m0 0h0m1.5 0h0m1 0h0m1 0h0m0.5 0h0m2 0h0m2 0h0m6 0h0m4.5 0h0m9 0h0m4.5 0h0m8.5 0h0m8 0h0m37.5 0h0m-84.5 0.5h0m1 0h0m1.5 0h0m0.5 0h0m0.5 0h0m0 0h0m3.5 0h0m0 0h0m1.5 0h0m2 0h0m1.5 0h0m1.5 0h0m3.5 0h0m0.5 0h0m0.5 0h0m1.5 0h0m0.5 0h0m19 0h0m-42 0.5h0m0.5 0h0m3 0h0m0 0h0m7.5 0h0m5.5 0h0m3 0h0m1.5 0h0m8 0h0m1.5 0h0m4 0h0m23.5 0h0m-54.5 0.5h0m1 0h0m1.5 0h0m10.5 0h0m0.5 0h0m-16.5 0.5h0m3.5 0h0m10 0h0m0 0h0m2 0h0m4.5 0h0m1 0h0m1 0h0m3 0h0m8 0h0m11 0h0m-41.5 0.5h0m1.5 0h0m1 0h0m6 0h0m11 0h0m2 0h0m9 0h0m2 0h0m-32 0.5h0m0.5 0h0m4 0h0m0.5 0h0m1.5 0h0m0 0h0m3.5 0h0m0.5 0h0m2 0h0m2.5 0h0m1.5 0h0m1.5 0h0m7.5 0h0m11.5 0h0m1 0h0m7 0h0m-48 0.5h0m1 0h0m1.5 0h0m1 0h0m0.5 0h0m1.5 0h0m4 0h0m1 0h0m0 0h0m1.5 0h0m1 0h0m2 0h0m0.5 0h0m1.5 0h0m1.5 0h0m8.5 0h0m1.5 0h0m4.5 0h0m4 0h0m0 0h0m0.5 0h0m-30.5 0.5h0m4.5 0h0m2 0h0m6.5 0h0m7.5 0h0m3.5 0h0m3.5 0h0m80.5 0h0m-117 0.5h0m1.5 0h0m2 0h0m1 0h0m1.5 0h0m1 0h0m1.5 0h0m1.5 0h0m2 0h0m1 0h0m5 0h0m0 0h0m0.5 0h0m2 0h0m1.5 0h0m1.5 0h0m5 0h0m19.5 0h0m-46.5 0.5h0m5.5 0h0m1 0h0m1 0h0m0 0h0m1 0h0m0.5 0h0m2 0h0m2 0h0m2 0h0m2 0h0m0 0h0m2 0h0m0 0h0m10.5 0h0m-30 0.5h0m1.5 0h0m3 0h0m3 0h0m3 0h0m4 0h0m8 0h0m5 0h0m4.5 0h0m9.5 0h0m19.5 0h0m-60 0.5h0m1 0h0m3.5 0h0m3.5 0h0m0 0h0m4.5 0h0m1 0h0m1 0h0m0 0h0m4.5 0h0m3 0h0m9 0h0m2 0h0m7 0h0m45.5 0h0m19 0h0m-105 0.5h0m0.5 0h0m1.5 0h0m1 0h0m3 0h0m0 0h0m0.5 0h0m1.5 0h0m0 0h0m5 0h0m2 0h0m3.5 0h0m0.5 0h0m1.5 0h0m0.5 0h0m3 0h0m12 0h0m4 0h0m3 0h0m-43.5 0.5h0m1 0h0m0 0h0m4 0h0m3 0h0m0.5 0h0m2 0h0m0 0h0m1 0h0m6 0h0m0.5 0h0m5.5 0h0m0 0h0m3.5 0h0m0 0h0m7 0h0m13.5 0h0m-47 0.5h0m0.5 0h0m0.5 0h0m1 0h0m6.5 0h0m1 0h0m4.5 0h0m0.5 0h0m7.5 0h0m20 0h0m-41.5 0.5h0m1 0h0m0 0h0m2 0h0m1.5 0h0m1.5 0h0m7 0h0m6 0h0m10 0h0m0.5 0h0m5 0h0m14 0h0m-47 0.5h0m0 0h0m4 0h0m3.5 0h0m0.5 0h0m1 0h0m5.5 0h0m9 0h0m5 0h0m-28 0.5h0m6.5 0h0m4.5 0h0m1 0h0m0 0h0m4 0h0m0 0h0m20 0h0m2 0h0m6 0h0m3.5 0h0m8.5 0h0m14 0h0m-68 0.5h0m8 0h0m8 0h0m0 0h0m1.5 0h0m1 0h0m2 0h0m21 0h0m6 0h0m-53.5 0.5h0m2.5 0h0m5 0h0m0.5 0h0m5 0h0m1.5 0h0m2 0h0m1 0h0m0 0h0m1 0h0m3.5 0h0m16.5 0h0m5.5 0h0m-43.5 0.5h0m2.5 0h0m1 0h0m4.5 0h0m2.5 0h0m1.5 0h0m0.5 0h0m1 0h0m2.5 0h0m0.5 0h0m18.5 0h0m-34 0.5h0m2.5 0h0m3.5 0h0m2 0h0m1 0h0m2.5 0h0m0.5 0h0m1.5 0h0m0.5 0h0m1 0h0m3 0h0m5.5 0h0m4 0h0m2 0h0m0 0h0m4.5 0h0m31 0h0m-66 0.5h0m2.5 0h0m9.5 0h0m1.5 0h0m4 0h0m0 0h0m5.5 0h0m0.5 0h0m2 0h0m0.5 0h0m1 0h0m3.5 0h0m70 0h0m-97.5 0.5h0m0 0h0m1.5 0h0m0.5 0h0m2.5 0h0m3.5 0h0m1.5 0h0m0.5 0h0m5.5 0h0m14.5 0h0m8.5 0h0m-39.5 0.5h0m3 0h0m1.5 0h0m5 0h0m4.5 0h0m4.5 0h0m3 0h0m4.5 0h0m17 0h0m-35.5 0.5h0m1 0h0m1 0h0m2 0h0m19.5 0h0m-30.5 0.5h0m5.5 0h0m0.5 0h0m2 0h0m0.5 0h0m3 0h0m10.5 0h0m5 0h0m2.5 0h0m62 0h0m-94 0.5h0m0.5 0h0m0.5 0h0m1 0h0m0.5 0h0m16.5 0h0m3 0h0m1 0h0m20.5 0h0m-41 0.5h0m0.5 0h0m0.5 0h0m2 0h0m2.5 0h0m0 0h0m5 0h0m0.5 0h0m4.5 0h0m3.5 0h0m3.5 0h0m16.5 0h0m2 0h0m15 0h0m-50.5 0.5h0m0.5 0h0m1 0h0m0.5 0h0m4 0h0m0 0h0m4 0h0m5 0h0m35 0h0m-56 0.5h0m5 0h0m0.5 0h0m3.5 0h0m4 0h0m1 0h0m3 0h0m3.5 0h0m-19 0.5h0m4.5 0h0m0.5 0h0m1 0h0m6.5 0h0m2.5 0h0m1.5 0h0m2.5 0h0m23 0h0m4.5 0h0m-46.5 0.5h0m0.5 0h0m1.5 0h0m1 0h0m0.5 0h0m2 0h0m2 0h0m3.5 0h0m2 0h0m1 0h0m2 0h0m4 0h0m2.5 0h0m1 0h0m5.5 0h0m14 0h0m-40.5 0.5h0m3.5 0h0m1.5 0h0m0.5 0h0m3.5 0h0m3.5 0h0m0 0h0m1 0h0m0 0h0m0.5 0h0m1.5 0h0m2.5 0h0m3 0h0m4.5 0h0m4 0h0m0.5 0h0m-32.5 0.5h0m0.5 0h0m0.5 0h0m3 0h0m1 0h0m6.5 0h0m1 0h0m1 0h0m2 0h0m4 0h0m2.5 0h0m1.5 0h0m13.5 0h0m0.5 0h0m4 0h0m1.5 0h0m-45 0.5h0m1 0h0m0.5 0h0m0.5 0h0m1.5 0h0m0 0h0m1.5 0h0m0.5 0h0m1.5 0h0m0.5 0h0m0 0h0m2.5 0h0m1 0h0m1.5 0h0m0.5 0h0m2.5 0h0m2.5 0h0m0.5 0h0m3.5 0h0m4.5 0h0m6 0h0m4.5 0h0m16.5 0h0m-49 0.5h0m0.5 0h0m0.5 0h0m2.5 0h0m10.5 0h0m0.5 0h0m3.5 0h0m28.5 0h0m-52 0.5h0m3 0h0m1 0h0m1.5 0h0m3 0h0m1.5 0h0m11 0h0m1.5 0h0m9 0h0m28.5 0h0m1.5 0h0m-62 0.5h0m8 0h0m0.5 0h0m2 0h0m0.5 0h0m1 0h0m2 0h0m1 0h0m1 0h0m0 0h0m4.5 0h0m1 0h0m1.5 0h0m0.5 0h0m3.5 0h0m0.5 0h0m0 0h0m-21 0.5h0m1.5 0h0m0.5 0h0m1 0h0m8.5 0h0m3.5 0h0m1.5 0h0m5.5 0h0m1.5 0h0m1.5 0h0m11.5 0h0m10 0h0m-51 0.5h0m3 0h0m2.5 0h0m0.5 0h0m8.5 0h0m2 0h0m2 0h0m3 0h0m0 0h0m5 0h0m0.5 0h0m0.5 0h0m4.5 0h0m0.5 0h0m0.5 0h0m3 0h0m9.5 0h0m1.5 0h0m2 0h0m4.5 0h0m-55.5 0.5h0m3 0h0m4.5 0h0m2 0h0m4 0h0m1.5 0h0m1 0h0m0 0h0m40.5 0h0m-57 0.5h0m5.5 0h0m2 0h0m2 0h0m1.5 0h0m9.5 0h0m1 0h0m5.5 0h0m0.5 0h0m7.5 0h0m31 0h0m56.5 0h0m-120.5 0.5h0m2.5 0h0m0 0h0m1.5 0h0m1.5 0h0m4.5 0h0m0.5 0h0m6.5 0h0m0.5 0h0m2 0h0m24.5 0h0m-46 0.5h0m7.5 0h0m0.5 0h0m6.5 0h0m3.5 0h0m1 0h0m2 0h0m0.5 0h0m1.5 0h0m6 0h0m5 0h0m21 0h0m-54.5 0.5h0m2.5 0h0m0.5 0h0m2 0h0m2 0h0m5 0h0m1 0h0m1.5 0h0m4 0h0m5 0h0m2 0h0m4 0h0m1.5 0h0m3 0h0m13 0h0m-45.5 0.5h0m3 0h0m2 0h0m2 0h0m0.5 0h0m1.5 0h0m1.5 0h0m1.5 0h0m0 0h0m0.5 0h0m2.5 0h0m3 0h0m1.5 0h0m1 0h0m5.5 0h0m55.5 0h0m-82.5 0.5h0m4.5 0h0m0 0h0m0.5 0h0m0 0h0m0.5 0h0m4.5 0h0m10 0h0m6.5 0h0m9 0h0m-32 0.5h0m0.5 0h0m1.5 0h0m1 0h0m1 0h0m0 0h0m1 0h0m0.5 0h0m0.5 0h0m0 0h0m1 0h0m3 0h0m1 0h0m2.5 0h0m4 0h0m14 0h0m5 0h0m2 0h0m6 0h0m-47.5 0.5h0m2 0h0m0.5 0h0m0 0h0m1 0h0m1 0h0m1.5 0h0m1.5 0h0m3 0h0m2 0h0m9 0h0m7 0h0m3.5 0h0m-29.5 0.5h0m1.5 0h0m0 0h0m1 0h0m1 0h0m0.5 0h0m4.5 0h0m1 0h0m4.5 0h0m0.5 0h0m6.5 0h0m4 0h0m4 0h0m3 0h0m7 0h0m0.5 0h0m1 0h0m8.5 0h0m38 0h0m-88.5 0.5h0m0.5 0h0m0.5 0h0m1.5 0h0m1 0h0m3.5 0h0m3 0h0m0 0h0m0.5 0h0m4.5 0h0m4 0h0m0.5 0h0m1 0h0m9.5 0h0m14 0h0m-44 0.5h0m3.5 0h0m6.5 0h0m0.5 0h0m0 0h0m5.5 0h0m0 0h0m0.5 0h0m3.5 0h0m0 0h0m11 0h0m3.5 0h0m0 0h0m1 0h0m0 0h0m6 0h0m14 0h0m-57 0.5h0m0.5 0h0m1 0h0m1 0h0m0 0h0m0.5 0h0m1.5 0h0m0 0h0m1 0h0m0.5 0h0m0.5 0h0m0.5 0h0m1.5 0h0m1.5 0h0m1.5 0h0m0.5 0h0m1.5 0h0m1.5 0h0m3 0h0m4.5 0h0m1 0h0m0.5 0h0m38 0h0m-63 0.5h0m1.5 0h0m1 0h0m2.5 0h0m0.5 0h0m4 0h0m3 0h0m0 0h0m7.5 0h0m0 0h0m1 0h0m16.5 0h0m14 0h0m2.5 0h0m-52 0.5h0m1.5 0h0m1.5 0h0m0.5 0h0m1 0h0m0 0h0m1 0h0m4.5 0h0m3 0h0m0 0h0m3.5 0h0m2 0h0m1 0h0m11 0h0m-32.5 0.5h0m3.5 0h0m3.5 0h0m1 0h0m1.5 0h0m7.5 0h0m9.5 0h0m15.5 0h0m4 0h0m-45.5 0.5h0m16.5 0h0m0.5 0h0m1.5 0h0m0.5 0h0m0 0h0m3 0h0m0.5 0h0m-19 0.5h0m0 0h0m0.5 0h0m1 0h0m0.5 0h0m0 0h0m0.5 0h0m2.5 0h0m4 0h0m0 0h0m1 0h0m2.5 0h0m1.5 0h0m1.5 0h0m3.5 0h0m8 0h0m3 0h0m13.5 0h0m2.5 0h0m2 0h0m24 0h0m-70.5 0.5h0m0.5 0h0m4 0h0m6 0h0m0 0h0m11 0h0m1.5 0h0m19 0h0m8 0h0m19.5 0h0m-71.5 0.5h0m1 0h0m0.5 0h0m1 0h0m0 0h0m0.5 0h0m1.5 0h0m0 0h0m0.5 0h0m1 0h0m0.5 0h0m2.5 0h0m5.5 0h0m0 0h0m0.5 0h0m1 0h0m0.5 0h0m0.5 0h0m1 0h0m5 0h0m4.5 0h0m1 0h0m3 0h0m24.5 0h0m5.5 0h0m-63 0.5h0m3 0h0m1.5 0h0m0.5 0h0m0.5 0h0m0.5 0h0m0.5 0h0m6 0h0m1.5 0h0m8.5 0h0m6.5 0h0m1 0h0m10 0h0m20 0h0m7.5 0h0m-68 0.5h0m2 0h0m3 0h0m0.5 0h0m0.5 0h0m0.5 0h0m3 0h0m0 0h0m0.5 0h0m3.5 0h0m3 0h0m14 0h0m1.5 0h0m2 0h0m-30.5 0.5h0m0.5 0h0m0 0h0m5 0h0m0 0h0m3 0h0m0 0h0m0.5 0h0m0.5 0h0m5 0h0m1 0h0m0 0h0m12 0h0m1 0h0m2 0h0m10 0h0m0 0h0m-40.5 0.5h0m0 0h0m0 0h0m0 0h0m0.5 0h0m0.5 0h0m2 0h0m0.5 0h0m2.5 0h0m1.5 0h0m0.5 0h0m1 0h0m0.5 0h0m1 0h0m6 0h0m6.5 0h0m2 0h0m3 0h0m1 0h0m11.5 0h0m6.5 0h0m-45 0.5h0m2.5 0h0m1.5 0h0m3 0h0m0 0h0m0 0h0m2.5 0h0m12 0h0m1 0h0m7.5 0h0m2.5 0h0m12.5 0h0m31 0h0m-82.5 0.5h0m1 0h0m1.5 0h0m9 0h0m1.5 0h0m1 0h0m3 0h0m1.5 0h0m0.5 0h0m5 0h0m8 0h0m2.5 0h0m8 0h0m1.5 0h0m-43.5 0.5h0m0 0h0m1 0h0m5.5 0h0m0.5 0h0m1 0h0m2.5 0h0m1 0h0m9 0h0m3.5 0h0m7.5 0h0m47 0h0m-71 0.5h0m0 0h0m7.5 0h0m2.5 0h0m0 0h0m1 0h0m1 0h0m0.5 0h0m1 0h0m3 0h0m4.5 0h0m3.5 0h0m-31 0.5h0m0.5 0h0m2 0h0m2 0h0m1.5 0h0m3.5 0h0m2 0h0m0.5 0h0m1 0h0m3.5 0h0m10 0h0m10.5 0h0m8 0h0m-43 0.5h0m1 0h0m0.5 0h0m0 0h0m0 0h0m2 0h0m1 0h0m1.5 0h0m6.5 0h0m4 0h0m0.5 0h0m7.5 0h0m10 0h0m46 0h0m-84 0.5h0m0.5 0h0m2 0h0m6.5 0h0m1 0h0m2.5 0h0m0 0h0m0.5 0h0m1 0h0m0.5 0h0m4 0h0m4 0h0m1 0h0m16.5 0h0m0 0h0m1.5 0h0m-37 0.5h0m1.5 0h0m1 0h0m1 0h0m4 0h0m1 0h0m0.5 0h0m0 0h0m1 0h0m4 0h0m1 0h0m10 0h0m12 0h0m-38.5 0.5h0m2 0h0m0.5 0h0m3.5 0h0m0 0h0m3.5 0h0m2 0h0m0 0h0m3 0h0m2 0h0m2 0h0m7.5 0h0m1 0h0m1.5 0h0m-30.5 0.5h0m1.5 0h0m1.5 0h0m5 0h0m1 0h0m0.5 0h0m1 0h0m4.5 0h0m0 0h0m0.5 0h0m5.5 0h0m7 0h0m16 0h0m12.5 0h0m1 0h0m-57 0.5h0m1.5 0h0m2 0h0m3.5 0h0m0.5 0h0m2 0h0m2.5 0h0m2.5 0h0m1.5 0h0m0.5 0h0m0 0h0m1.5 0h0m2.5 0h0m2 0h0m7.5 0h0m-29 0.5h0m1 0h0m8 0h0m3 0h0m1 0h0m3.5 0h0m4 0h0m3.5 0h0m0 0h0m8.5 0h0m-32.5 0.5h0m0.5 0h0m1 0h0m0.5 0h0m1 0h0m1 0h0m1 0h0m0 0h0m1.5 0h0m0.5 0h0m0 0h0m1.5 0h0m6.5 0h0m2 0h0m3 0h0m2 0h0m21.5 0h0m-42.5 0.5h0m0.5 0h0m0.5 0h0m7 0h0m1 0h0m0.5 0h0m2 0h0m7 0h0m1.5 0h0m10.5 0h0m10.5 0h0m-44.5 0.5h0m1.5 0h0m1.5 0h0m1.5 0h0m1.5 0h0m3 0h0m3 0h0m2.5 0h0m2 0h0m7 0h0m6.5 0h0m8.5 0h0m3 0h0m4 0h0m1 0h0m-45.5 0.5h0m1.5 0h0m5.5 0h0m9 0h0m1.5 0h0m1.5 0h0m0.5 0h0m15.5 0h0m3 0h0m4.5 0h0m-43 0.5h0m3 0h0m2 0h0m1.5 0h0m0 0h0m4.5 0h0m2 0h0m3 0h0m4.5 0h0m9 0h0m5 0h0m2 0h0m1.5 0h0m3.5 0h0m14 0h0m8.5 0h0m7 0h0m-71.5 0.5h0m3.5 0h0m2 0h0m0 0h0m2.5 0h0m1 0h0m3 0h0m2 0h0m1.5 0h0m2.5 0h0m3.5 0h0m0.5 0h0m2.5 0h0m5 0h0m38 0h0m-68 0.5h0m5 0h0m0.5 0h0m1.5 0h0m0 0h0m5.5 0h0m0.5 0h0m1.5 0h0m1.5 0h0m1 0h0m1 0h0m2.5 0h0m0 0h0m2.5 0h0m1.5 0h0m2.5 0h0m2.5 0h0m14 0h0m-41.5 0.5h0m2 0h0m0.5 0h0m0.5 0h0m3.5 0h0m1.5 0h0m3 0h0m0.5 0h0m1 0h0m1 0h0m1.5 0h0m1 0h0m5.5 0h0m1.5 0h0m5.5 0h0m47.5 0h0m-73 0.5h0m0.5 0h0m1 0h0m5 0h0m3.5 0h0m3.5 0h0m3 0h0m8 0h0m6 0h0m6.5 0h0m4 0h0m-47 0.5h0m2 0h0m2.5 0h0m1.5 0h0m1 0h0m1.5 0h0m0 0h0m0 0h0m1 0h0m0 0h0m4 0h0m1.5 0h0m0 0h0m1 0h0m0.5 0h0m11 0h0m3.5 0h0m-30.5 0.5h0m0.5 0h0m1 0h0m0.5 0h0m2 0h0m1 0h0m2.5 0h0m12 0h0m5 0h0m12.5 0h0m3.5 0h0m9 0h0m-46.5 0.5h0m0 0h0m0.5 0h0m7 0h0m0.5 0h0m0.5 0h0m2 0h0m8 0h0m0.5 0h0m2.5 0h0m18 0h0m6 0h0m5 0h0m-53 0.5h0m1 0h0m1.5 0h0m4 0h0m1 0h0m3 0h0m1.5 0h0m2 0h0m1.5 0h0m0.5 0h0m3 0h0m1 0h0m1 0h0m15.5 0h0m0.5 0h0m1.5 0h0m-38 0.5h0m1.5 0h0m0.5 0h0m4 0h0m1 0h0m0.5 0h0m5 0h0m1 0h0m0.5 0h0m15.5 0h0m2.5 0h0m2 0h0m1 0h0m10.5 0h0m-44 0.5h0m1.5 0h0m2 0h0m1.5 0h0m4.5 0h0m4 0h0m0.5 0h0m0.5 0h0m2 0h0m0.5 0h0m33 0h0m-49 0.5h0m2.5 0h0m3 0h0m0.5 0h0m1 0h0m0 0h0m1 0h0m4 0h0m4.5 0h0m0 0h0m8 0h0m16 0h0m4.5 0h0m21.5 0h0m-65.5 0.5h0m2.5 0h0m2 0h0m1 0h0m0 0h0m1.5 0h0m2 0h0m2 0h0m2 0h0m1 0h0m2 0h0m11.5 0h0m3 0h0m-33.5 0.5h0m0.5 0h0m1 0h0m6 0h0m4 0h0m0 0h0m6.5 0h0m1 0h0m5 0h0m12 0h0m20 0h0m1 0h0m2.5 0h0m-59 0.5h0m3.5 0h0m5 0h0m1 0h0m0.5 0h0m2.5 0h0m3 0h0m9.5 0h0m-21 0.5h0m0.5 0h0m16 0h0m4 0h0m6.5 0h0m12 0h0m22.5 0h0m-64.5 0.5h0m0.5 0h0m2.5 0h0m3 0h0m0.5 0h0m3.5 0h0m3 0h0m2.5 0h0m0 0h0m1 0h0m1 0h0m0.5 0h0m6.5 0h0m18.5 0h0m-46 0.5h0m2.5 0h0m0.5 0h0m1.5 0h0m6.5 0h0m2.5 0h0m0.5 0h0m2 0h0m7 0h0m4 0h0m0.5 0h0m1 0h0m58 0h0m-86 0.5h0m2 0h0m0 0h0m2.5 0h0m1.5 0h0m3.5 0h0m6.5 0h0m4 0h0m2 0h0m0.5 0h0m2 0h0m0.5 0h0m3.5 0h0m12.5 0h0m4.5 0h0m8.5 0h0m14 0h0m-66 0.5h0m1 0h0m0 0h0m4.5 0h0m6 0h0m0.5 0h0m1 0h0m3 0h0m0.5 0h0m1.5 0h0m4 0h0m6.5 0h0m1 0h0m33 0h0m-64 0.5h0m1.5 0h0m4 0h0m3 0h0m0 0h0m2 0h0m0.5 0h0m3 0h0m0.5 0h0m0 0h0m2.5 0h0m2.5 0h0m1.5 0h0m3 0h0m3 0h0m1 0h0m7.5 0h0m2.5 0h0m-36 0.5h0m2 0h0m0.5 0h0m0 0h0m0.5 0h0m1.5 0h0m0.5 0h0m0.5 0h0m1.5 0h0m1.5 0h0m39.5 0h0m1.5 0h0m11 0h0m-41 0.5h0m1.5 0h0m0 0h0m2 0h0m0.5 0h0m2.5 0h0m2 0h0m-30 0.5h0m0 0h0m0.5 0h0m0 0h0m2 0h0m0.5 0h0m3.5 0h0m0 0h0m1.5 0h0m4.5 0h0m1 0h0m1 0h0m7 0h0m0 0h0m17 0h0m4.5 0h0m2 0h0m3 0h0m47 0h0m-95 0.5h0m2.5 0h0m4 0h0m0 0h0m3.5 0h0m0.5 0h0m1.5 0h0m5.5 0h0m0.5 0h0m2.5 0h0m0.5 0h0m1 0h0m2 0h0m2 0h0m-24.5 0.5h0m2 0h0m1.5 0h0m0.5 0h0m1.5 0h0m1.5 0h0m1 0h0m2.5 0h0m3.5 0h0m6 0h0m0.5 0h0m6.5 0h0m15 0h0m-45 0.5h0m1 0h0m3.5 0h0m3 0h0m1 0h0m5.5 0h0m0.5 0h0m10 0h0m11.5 0h0m4.5 0h0m11.5 0h0m-50.5 0.5h0m7.5 0h0m0.5 0h0m1.5 0h0m1 0h0m1 0h0m1.5 0h0m3 0h0m0.5 0h0m1.5 0h0m23 0h0m0 0h0m10 0h0m1.5 0h0m41.5 0h0m-93 0.5h0m0 0h0m0 0h0m1 0h0m2.5 0h0m2.5 0h0m9 0h0m3 0h0m0.5 0h0m5.5 0h0m24.5 0h0m20.5 0h0m-60.5 0.5h0m3 0h0m6 0h0m1.5 0h0m19 0h0m2 0h0m-40 0.5h0m5 0h0m1 0h0m2 0h0m0.5 0h0m0 0h0m4 0h0m6 0h0m10 0h0m1 0h0m5.5 0h0m-24 0.5h0m1 0h0m1 0h0m1 0h0m3 0h0m7 0h0m2.5 0h0m10.5 0h0m10 0h0m0 0h0m5.5 0h0m-54.5 0.5h0m4.5 0h0m3.5 0h0m3 0h0m1.5 0h0m1.5 0h0m3.5 0h0m0.5 0h0m2.5 0h0m4.5 0h0m4 0h0m1 0h0m19.5 0h0m42 0h0m-92 0.5h0m0.5 0h0m4.5 0h0m2.5 0h0m2.5 0h0m1 0h0m2 0h0m2 0h0m23 0h0m2.5 0h0m17 0h0m-57.5 0.5h0m1.5 0h0m2.5 0h0m1.5 0h0m3.5 0h0m0 0h0m7.5 0h0m1 0h0m6 0h0m6.5 0h0m15 0h0m10.5 0h0m-50 0.5h0m0.5 0h0m1.5 0h0m2.5 0h0m0.5 0h0m3.5 0h0m0.5 0h0m4 0h0m12 0h0m32 0h0m5 0h0m24 0h0m-84.5 0.5h0m6 0h0m0.5 0h0m0.5 0h0m0 0h0m0.5 0h0m2 0h0m3.5 0h0m1 0h0m15.5 0h0m3.5 0h0m-37 0.5h0m2 0h0m3.5 0h0m3.5 0h0m3 0h0m7.5 0h0m2 0h0m7 0h0m6 0h0m-35 0.5h0m1 0h0m1 0h0m1 0h0m4.5 0h0m12.5 0h0m1 0h0m1 0h0m8 0h0m1.5 0h0m16 0h0m0.5 0h0m-48 0.5h0m1 0h0m0.5 0h0m2.5 0h0m2 0h0m0.5 0h0m1.5 0h0m0.5 0h0m0.5 0h0m4 0h0m11 0h0m31 0h0m17.5 0h0m171 0h0m-242 0.5h0m7 0h0m12 0h0m3.5 0h0m1.5 0h0m1 0h0m0 0h0m1.5 0h0m7 0h0m7 0h0m2 0h0m37 0h0m-83.5 0.5h0m1.5 0h0m0 0h0m3.5 0h0m0.5 0h0m7 0h0m0.5 0h0m3 0h0m3 0h0m0.5 0h0m2 0h0m1 0h0m12 0h0m0 0h0m11 0h0m-38 0.5h0m2.5 0h0m8.5 0h0m3 0h0m1 0h0m22.5 0h0m14.5 0h0m28.5 0h0m-85.5 0.5h0m5.5 0h0m0.5 0h0m0.5 0h0m2 0h0m2 0h0m0 0h0m5.5 0h0m3 0h0m5.5 0h0m-18 0.5h0m0 0h0m5 0h0m1 0h0m1.5 0h0m0.5 0h0m58 0h0m-74 0.5h0m3.5 0h0m14 0h0m1 0h0m0 0h0m0 0h0m8 0h0m3 0h0m28.5 0h0m-52 0.5h0m2 0h0m4 0h0m3.5 0h0m1.5 0h0m7.5 0h0m-23 0.5h0m1.5 0h0m0.5 0h0m5 0h0m3 0h0m2 0h0m9 0h0m0 0h0m1.5 0h0m0 0h0m7.5 0h0m65.5 0h0m-92.5 0.5h0m1.5 0h0m3 0h0m1 0h0m0.5 0h0m0 0h0m1.5 0h0m1 0h0m11.5 0h0m4.5 0h0m3.5 0h0m5 0h0m7 0h0m-45 0.5h0m3.5 0h0m1.5 0h0m4 0h0m2 0h0m0.5 0h0m8 0h0m8 0h0m26 0h0m-52 0.5h0m1 0h0m1.5 0h0m1 0h0m2 0h0m0 0h0m4 0h0m11 0h0m1 0h0m7.5 0h0m34 0h0m-61 0.5h0m6 0h0m1.5 0h0m1 0h0m1 0h0m1.5 0h0m2 0h0m4.5 0h0m11.5 0h0m6.5 0h0m2 0h0m-42 0.5h0m10 0h0m1.5 0h0m1.5 0h0m4.5 0h0m0 0h0m15 0h0m7 0h0m21.5 0h0m-54 0.5h0m1 0h0m1.5 0h0m0.5 0h0m1 0h0m0.5 0h0m5 0h0m0.5 0h0m0 0h0m2 0h0m2.5 0h0m9 0h0m11.5 0h0m12.5 0h0m-53 0.5h0m1.5 0h0m1.5 0h0m5 0h0m2.5 0h0m18 0h0m4.5 0h0m15 0h0m-41.5 0.5h0m6.5 0h0m2 0h0m19.5 0h0m14.5 0h0m-42.5 0.5h0m0.5 0h0m2.5 0h0m10 0h0m0 0h0m1.5 0h0m0.5 0h0m0 0h0m13 0h0m4 0h0m1 0h0m-39 0.5h0m21.5 0h0m8 0h0m8.5 0h0m-29 0.5h0m0 0h0m0.5 0h0m6.5 0h0m8.5 0h0m1.5 0h0m14 0h0m102.5 0h0m-137 0.5h0m2 0h0m1.5 0h0m1.5 0h0m3 0h0m9.5 0h0m0.5 0h0m10.5 0h0m1.5 0h0m-33.5 0.5h0m9.5 0h0m2.5 0h0m2 0h0m1.5 0h0m1.5 0h0m0.5 0h0m-18.5 0.5h0m2 0h0m2.5 0h0m1.5 0h0m41.5 0h0m-44 0.5h0m1 0h0m1.5 0h0m11.5 0h0m0 0h0m5 0h0m5 0h0m34 0h0m-62.5 0.5h0m12 0h0m7 0h0m15 0h0m-28 0.5h0m4 0h0m3 0h0m1 0h0m2.5 0h0m14 0h0m-28.5 0.5h0m8 0h0m7.5 0h0m1.5 0h0m0.5 0h0m14 0h0m-21.5 0.5h0m11.5 0.5h0m2.5 0h0m1 0h0m-12.5 0.5h0m16.5 0h0m-23.5 0.5h0" stroke="#C0392B" stroke-width="3.4" stroke-linecap="round" fill="none"/>
<path d="M1244.7 1180.6H1883.5" stroke="#a6a6a6" stroke-width="2" stroke-dasharray="12.6 5.8" fill="none"/>
<rect x="1243.7" y="648.4" width="640.8" height="631.7" fill="none" stroke="#333" stroke-width="2.2"/>
<path d="M1272.7 1281.2v4.8M1418.4 1281.2v4.8M1564.1 1281.2v4.8M1709.8 1281.2v4.8M1855.5 1281.2v4.8M1242.6 1252.4h-4.8M1242.6 1108.5h-4.8M1242.6 964.6h-4.8M1242.6 820.7h-4.8M1242.6 676.8h-4.8" stroke="#333" stroke-width="2.2" fill="none"/>
<g font-family="Liberation Sans, sans-serif" font-size="15.3" fill="#4d4d4d" stroke="#4d4d4d" stroke-width="0.25">
<text x="1272.7" y="1301.4" text-anchor="middle">−2</text>
<text x="1418.4" y="1301.4" text-anchor="middle">−1</text>
<text x="1564.1" y="1301.4" text-anchor="middle">0</text>
<text x="1709.8" y="1301.4" text-anchor="middle">1</text>
<text x="1855.5" y="1301.4" text-anchor="middle">2</text>
<text x="1235.3" y="1257.9" text-anchor="end">0.0</text>
<text x="1235.3" y="1114" text-anchor="end">2.5</text>
<text x="1235.3" y="970.1" text-anchor="end">5.0</text>
<text x="1235.3" y="826.2" text-anchor="end">7.5</text>
<text x="1235.3" y="682.3" text-anchor="end">10.0</text>
</g>
<text x="1564.5" y="1323.8" font-family="Liberation Sans, sans-serif" font-size="19.4" stroke="#000" stroke-width="0.3" text-anchor="middle">log2FC</text>
<text transform="translate(1195.2 965) rotate(-90)" font-family="Liberation Sans, sans-serif" font-size="19.4" stroke="#000" stroke-width="0.3" text-anchor="middle">−log10(adj.PVal)</text>
<text transform="translate(100.8 1448) scale(1.02 1.04)" font-family="Liberation Sans, sans-serif" font-weight="bold" font-size="48.5">D</text>
<path d="M598.2 1464V1929.8M710.2 1464V1929.8M822.2 1464V1929.8M495.4 1491.4H925M495.4 1537.1H925M495.4 1582.7H925M495.4 1628.4H925M495.4 1674.1H925M495.4 1719.7H925M495.4 1765.4H925M495.4 1811.1H925M495.4 1856.7H925M495.4 1902.4H925" stroke="#dedede" stroke-width="1.1" fill="none"/>
<rect x="710.2" y="1470.9" width="152.1" height="41.1" fill="#CC0000"/>
<rect x="710.2" y="1516.5" width="149.4" height="41.1" fill="#CC0000"/>
<rect x="710.2" y="1562.2" width="148.3" height="41.1" fill="#CC0000"/>
<rect x="710.2" y="1607.9" width="145.1" height="41.1" fill="#CC0000"/>
<rect x="710.2" y="1653.5" width="144" height="41.1" fill="#CC0000"/>
<rect x="580.5" y="1699.2" width="129.7" height="41.1" fill="#27408B"/>
<rect x="579.4" y="1744.9" width="130.8" height="41.1" fill="#27408B"/>
<rect x="577.8" y="1790.5" width="132.4" height="41.1" fill="#27408B"/>
<rect x="577.3" y="1836.2" width="132.9" height="41.1" fill="#27408B"/>
<rect x="575.1" y="1881.9" width="135.1" height="41.1" fill="#27408B"/>
<rect x="495.4" y="1464" width="429.6" height="465.8" fill="none" stroke="#b3b3b3" stroke-width="1.4"/>
<path d="M494.7 1491.4h-5M494.7 1537.1h-5M494.7 1582.7h-5M494.7 1628.4h-5M494.7 1674.1h-5M494.7 1719.7h-5M494.7 1765.4h-5M494.7 1811.1h-5M494.7 1856.7h-5M494.7 1902.4h-5" stroke="#b3b3b3" stroke-width="1.1" fill="none"/>
<rect x="495.4" y="1427.2" width="429.6" height="35.8" fill="#fff" stroke="#000" stroke-width="1.5"/>
<text x="710.2" y="1454.6" font-family="Liberation Sans, sans-serif" font-size="25" stroke="#000" stroke-width="0.3" text-anchor="middle">GO:BP</text>
<g font-family="Liberation Sans, sans-serif" font-size="24.95" fill="#4d4d4d" stroke="#4d4d4d" stroke-width="0.35" text-anchor="end">
<text x="486.9" y="1500.8">Ribosome biogenesis</text>
<text x="486.9" y="1546.5">Ribosomal large subunit biogenesis</text>
<text x="486.9" y="1592.1">Cytoplasmic translation</text>
<text x="486.9" y="1637.8">Mitochondrial translation</text>
<text x="486.9" y="1683.5">Mitochondrial gene expression</text>
<text x="486.9" y="1729.1">Regulation of vesicle mediated transport</text>
<text x="486.9" y="1774.8">Autophagosome organization</text>
<text x="486.9" y="1820.5">Exocytosis</text>
<text x="486.9" y="1866.1">Protein autophosphorylation</text>
<text x="486.9" y="1911.8">Receptor mediated endocytosis</text>
</g>
<path d="M598.2 1977.3V2443M710.2 1977.3V2443M822.2 1977.3V2443M495.4 2004.7H925M495.4 2050.4H925M495.4 2096H925M495.4 2141.7H925M495.4 2187.3H925M495.4 2233H925M495.4 2278.6H925M495.4 2324.3H925M495.4 2369.9H925M495.4 2415.6H925" stroke="#dedede" stroke-width="1.1" fill="none"/>
<rect x="710.2" y="1984.1" width="173.9" height="41.1" fill="#CC0000"/>
<rect x="710.2" y="2029.8" width="165.8" height="41.1" fill="#CC0000"/>
<rect x="710.2" y="2075.5" width="165.8" height="41.1" fill="#CC0000"/>
<rect x="710.2" y="2121.1" width="163" height="41.1" fill="#CC0000"/>
<rect x="710.2" y="2166.8" width="156" height="41.1" fill="#CC0000"/>
<rect x="574" y="2212.4" width="136.2" height="41.1" fill="#27408B"/>
<rect x="571.8" y="2258.1" width="138.4" height="41.1" fill="#27408B"/>
<rect x="570.2" y="2303.7" width="140" height="41.1" fill="#27408B"/>
<rect x="566.4" y="2349.4" width="143.8" height="41.1" fill="#27408B"/>
<rect x="559.3" y="2395.1" width="150.9" height="41.1" fill="#27408B"/>
<rect x="495.4" y="1977.3" width="429.6" height="465.7" fill="none" stroke="#b3b3b3" stroke-width="1.4"/>
<path d="M494.7 2004.7h-5M494.7 2050.4h-5M494.7 2096h-5M494.7 2141.7h-5M494.7 2187.3h-5M494.7 2233h-5M494.7 2278.6h-5M494.7 2324.3h-5M494.7 2369.9h-5M494.7 2415.6h-5M598.2 2443.7v3.8M710.2 2443.7v3.8M822.2 2443.7v3.8" stroke="#b3b3b3" stroke-width="1.1" fill="none"/>
<rect x="495.4" y="1939.4" width="429.6" height="36.9" fill="#fff" stroke="#000" stroke-width="1.5"/>
<text x="710.2" y="1967.3" font-family="Liberation Sans, sans-serif" font-size="25" stroke="#000" stroke-width="0.3" text-anchor="middle">GO:CC</text>
<g font-family="Liberation Sans, sans-serif" font-size="24.95" fill="#4d4d4d" stroke="#4d4d4d" stroke-width="0.35" text-anchor="end">
<text x="486.9" y="2014.1">Ribosomal subunit</text>
<text x="486.9" y="2059.8">Large ribosomal subunit</text>
<text x="486.9" y="2105.4">Ribosome</text>
<text x="486.9" y="2151.1">Cytosolic ribosome</text>
<text x="486.9" y="2196.7">Mitochondrial protein containing complex</text>
<text x="486.9" y="2242.4">Phagocytic vesicle</text>
<text x="486.9" y="2288">Azurophil granule</text>
<text x="486.9" y="2333.7">Tertiary granule</text>
<text x="486.9" y="2379.3">Specific granule</text>
<text x="486.9" y="2425">Secretory granule membrane</text>
</g>
<g font-family="Liberation Sans, sans-serif" font-size="21.8" fill="#4d4d4d" stroke="#4d4d4d" stroke-width="0.3" text-anchor="middle">
<text x="598.2" y="2467.8">−2</text>
<text x="710.2" y="2467.8">0</text>
<text x="822.2" y="2467.8">2</text>
</g>
<text x="704.3" y="2494.3" font-family="Liberation Sans, sans-serif" font-size="23" stroke="#000" stroke-width="0.3" text-anchor="middle">Normalized Enrichment Score</text>
<path d="M1664.9 1464V1929.8M1776.9 1464V1929.8M1888.9 1464V1929.8M1561.8 1491.4H1992M1561.8 1537.1H1992M1561.8 1582.7H1992M1561.8 1628.4H1992M1561.8 1674.1H1992M1561.8 1719.7H1992M1561.8 1765.4H1992M1561.8 1811.1H1992M1561.8 1856.7H1992M1561.8 1902.4H1992" stroke="#dedede" stroke-width="1.1" fill="none"/>
<rect x="1776.9" y="1470.9" width="172.3" height="41.1" fill="#CC0000"/>
<rect x="1776.9" y="1516.5" width="145.4" height="41.1" fill="#CC0000"/>
<rect x="1776.9" y="1562.2" width="135.5" height="41.1" fill="#CC0000"/>
<rect x="1776.9" y="1607.9" width="134.9" height="41.1" fill="#CC0000"/>
<rect x="1776.9" y="1653.5" width="130" height="41.1" fill="#CC0000"/>
<rect x="1648.6" y="1699.2" width="128.3" height="41.1" fill="#27408B"/>
<rect x="1646.1" y="1744.9" width="130.8" height="41.1" fill="#27408B"/>
<rect x="1643.7" y="1790.5" width="133.2" height="41.1" fill="#27408B"/>
<rect x="1642.5" y="1836.2" width="134.4" height="41.1" fill="#27408B"/>
<rect x="1640" y="1881.9" width="136.9" height="41.1" fill="#27408B"/>
<rect x="1561.8" y="1464" width="430.2" height="465.8" fill="none" stroke="#b3b3b3" stroke-width="1.4"/>
<path d="M1561.1 1491.4h-5M1561.1 1537.1h-5M1561.1 1582.7h-5M1561.1 1628.4h-5M1561.1 1674.1h-5M1561.1 1719.7h-5M1561.1 1765.4h-5M1561.1 1811.1h-5M1561.1 1856.7h-5M1561.1 1902.4h-5" stroke="#b3b3b3" stroke-width="1.1" fill="none"/>
<rect x="1561.8" y="1427.2" width="430.2" height="35.8" fill="#fff" stroke="#000" stroke-width="1.5"/>
<text x="1776.9" y="1454.6" font-family="Liberation Sans, sans-serif" font-size="25" stroke="#000" stroke-width="0.3" text-anchor="middle">GO:MF</text>
<g font-family="Liberation Sans, sans-serif" font-size="24.95" fill="#4d4d4d" stroke="#4d4d4d" stroke-width="0.35" text-anchor="end">
<text x="1553.6" y="1500.8">Structural constituent of ribosome</text>
<text x="1553.6" y="1546.5">rRNA binding</text>
<text x="1553.6" y="1592.1">RNA methyltransferase activity</text>
<text x="1553.6" y="1637.8">Catalytic activity acting on a tRNA</text>
<text x="1553.6" y="1683.5">tRNA binding</text>
<text x="1553.6" y="1729.1">Actin binding</text>
<text x="1553.6" y="1774.8">Protein serine threonine tyrosine kinase activity</text>
<text x="1553.6" y="1820.5">Protein serine kinase activity</text>
<text x="1553.6" y="1866.1">Protein kinase activity</text>
<text x="1553.6" y="1911.8">Protein serine threonine kinase activity</text>
</g>
<path d="M1664.9 1977.3V2443M1776.9 1977.3V2443M1888.9 1977.3V2443M1561.8 2004.7H1992M1561.8 2050.4H1992M1561.8 2096H1992M1561.8 2141.7H1992M1561.8 2187.3H1992M1561.8 2233H1992M1561.8 2278.6H1992M1561.8 2324.3H1992M1561.8 2369.9H1992M1561.8 2415.6H1992" stroke="#dedede" stroke-width="1.1" fill="none"/>
<rect x="1776.9" y="1984.1" width="171.1" height="41.1" fill="#CC0000"/>
<rect x="1776.9" y="2029.8" width="166.2" height="41.1" fill="#CC0000"/>
<rect x="1776.9" y="2075.5" width="164.3" height="41.1" fill="#CC0000"/>
<rect x="1776.9" y="2121.1" width="164.3" height="41.1" fill="#CC0000"/>
<rect x="1776.9" y="2166.8" width="164.3" height="41.1" fill="#CC0000"/>
<rect x="1648.6" y="2212.4" width="128.3" height="41.1" fill="#27408B"/>
<rect x="1648.6" y="2258.1" width="128.3" height="41.1" fill="#27408B"/>
<rect x="1647.4" y="2303.7" width="129.5" height="41.1" fill="#27408B"/>
<rect x="1646.1" y="2349.4" width="130.8" height="41.1" fill="#27408B"/>
<rect x="1633.3" y="2395.1" width="143.6" height="41.1" fill="#27408B"/>
<rect x="1561.8" y="1977.3" width="430.2" height="465.7" fill="none" stroke="#b3b3b3" stroke-width="1.4"/>
<path d="M1561.1 2004.7h-5M1561.1 2050.4h-5M1561.1 2096h-5M1561.1 2141.7h-5M1561.1 2187.3h-5M1561.1 2233h-5M1561.1 2278.6h-5M1561.1 2324.3h-5M1561.1 2369.9h-5M1561.1 2415.6h-5M1664.9 2443.7v3.8M1776.9 2443.7v3.8M1888.9 2443.7v3.8" stroke="#b3b3b3" stroke-width="1.1" fill="none"/>
<rect x="1561.8" y="1939.4" width="430.2" height="36.9" fill="#fff" stroke="#000" stroke-width="1.5"/>
<text x="1776.9" y="1967.3" font-family="Liberation Sans, sans-serif" font-size="25" stroke="#000" stroke-width="0.3" text-anchor="middle">Reactome</text>
<g font-family="Liberation Sans, sans-serif" font-size="24.95" fill="#4d4d4d" stroke="#4d4d4d" stroke-width="0.35" text-anchor="end">
<text x="1553.6" y="2014.1">Translation</text>
<text x="1553.6" y="2059.8">Formation of a pool of free 40S subunits</text>
<text x="1553.6" y="2105.4">rRNA processing</text>
<text x="1553.6" y="2151.1">GTP hydrolysis &amp; joining of the 60S ribosomal subunit</text>
<text x="1553.6" y="2196.7">Cap−dependent Translation Initiation</text>
<text x="1553.6" y="2242.4">EPH−Ephrin signaling</text>
<text x="1553.6" y="2288">Leishmania infection</text>
<text x="1553.6" y="2333.7">Recycling pathway of L1</text>
<text x="1553.6" y="2379.3">RAC1 GTPase cycle</text>
<text x="1553.6" y="2425">Neutrophil degranulation</text>
</g>
<g font-family="Liberation Sans, sans-serif" font-size="21.8" fill="#4d4d4d" stroke="#4d4d4d" stroke-width="0.3" text-anchor="middle">
<text x="1664.9" y="2467.8">−2</text>
<text x="1776.9" y="2467.8">0</text>
<text x="1888.9" y="2467.8">2</text>
</g>
<text x="1764.3" y="2494.3" font-family="Liberation Sans, sans-serif" font-size="23" stroke="#000" stroke-width="0.3" text-anchor="middle">Normalized Enrichment Score</text>
<text transform="translate(26 1953) rotate(-90)" font-family="Liberation Sans, sans-serif" font-size="21.7" stroke="#000" stroke-width="0.3" text-anchor="middle">Pathway</text>
</svg>
</body></html>
